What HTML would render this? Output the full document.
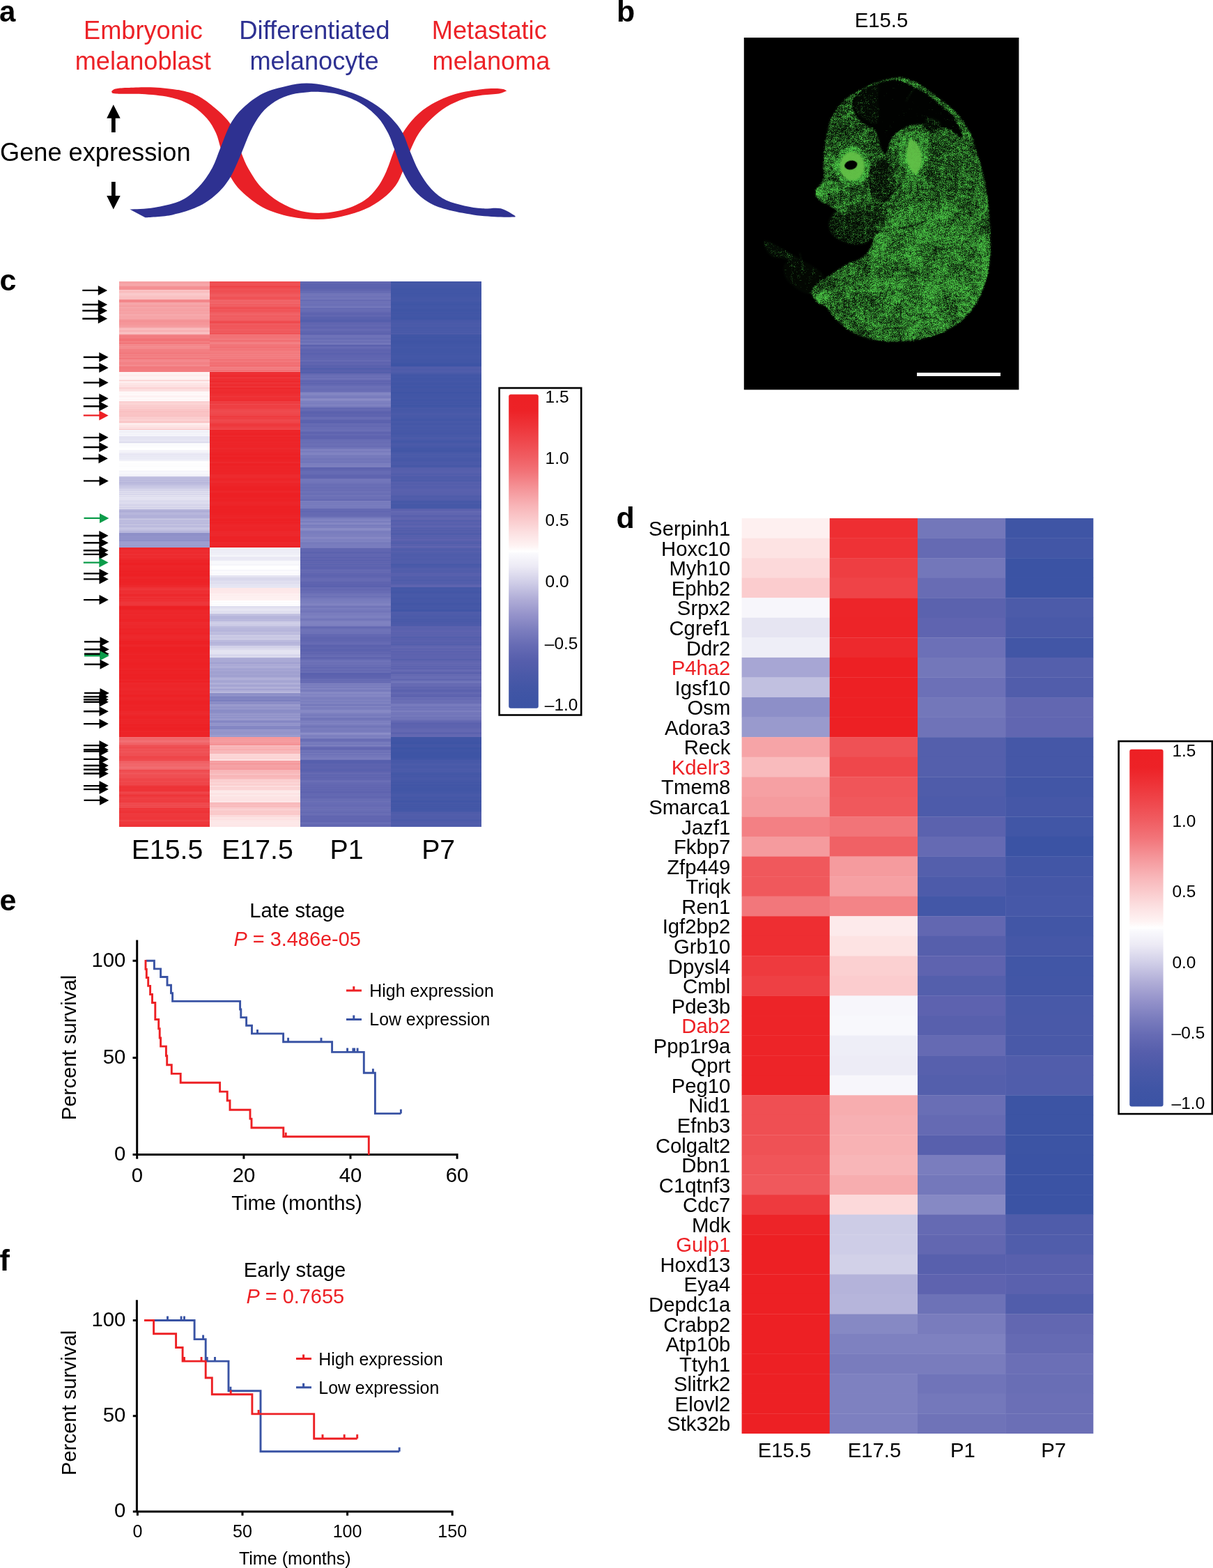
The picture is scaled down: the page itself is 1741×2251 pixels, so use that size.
<!DOCTYPE html>
<html lang="en">
<head>
<meta charset="utf-8">
<title>Figure: embryonic melanoblast gene expression</title>
<style>
html,body{margin:0;padding:0;background:#fff;}
svg{display:block;font-family:'Liberation Sans', sans-serif;}
text{white-space:pre;}
</style>
</head>
<body>
<svg width="1741" height="2251" viewBox="0 0 1741 2251">
<rect width="1741" height="2251" fill="#fff"/>
<g id="panel-a">
<text x="-1.00" y="30.70" font-size="42" font-weight="bold">a</text>
<text x="205.50" y="56.00" font-size="36.2" text-anchor="middle" fill="#ec2227">Embryonic</text>
<text x="205.30" y="99.80" font-size="36.2" text-anchor="middle" fill="#ec2227">melanoblast</text>
<text x="451.40" y="56.00" font-size="36.5" text-anchor="middle" fill="#2e3192">Differentiated</text>
<text x="451.00" y="99.80" font-size="36.2" text-anchor="middle" fill="#2e3192">melanocyte</text>
<text x="702.30" y="56.00" font-size="36.2" text-anchor="middle" fill="#ec2227">Metastatic</text>
<text x="705.00" y="99.80" font-size="36.2" text-anchor="middle" fill="#ec2227">melanoma</text>
<text x="0.00" y="230.60" font-size="36.2">Gene expression</text>
<path d="M162.8 150.3L172.7 169.8H165.7V189.9H160V169.8H153.2Z" fill="#000"/>
<path d="M162.8 300.6L172.7 281H165.7V261H160V281H153.2Z" fill="#000"/>
<path d="M160.2 131.0C161.2 130.4 162.3 128.3 166.0 127.5C169.7 126.7 173.2 126.3 182.4 126.0C191.6 125.7 208.4 124.8 221.4 125.5C234.4 126.2 249.6 127.8 260.5 130.0C271.4 132.2 277.9 134.2 286.6 139.0C295.3 143.8 305.2 152.1 312.6 158.6C320.0 165.1 326.2 171.3 330.8 178.0C335.4 184.7 337.4 192.0 340.0 199.0C342.6 206.0 343.7 212.5 346.5 219.8C349.3 227.1 352.2 234.8 357.0 243.0C361.8 251.2 367.7 261.2 375.0 269.0C382.3 276.8 391.5 284.3 401.0 290.0C410.5 295.7 421.6 300.4 432.0 303.0C442.4 305.6 453.0 306.2 463.4 305.8C473.8 305.4 484.6 303.6 494.6 300.6C504.6 297.6 515.5 292.8 523.3 287.6C531.1 282.4 536.3 276.2 541.5 269.3C546.7 262.4 550.4 255.1 554.5 246.0C558.6 236.9 562.4 223.8 566.3 214.6C570.2 205.4 573.0 198.8 578.0 191.0C583.0 183.2 589.0 174.6 596.0 167.7C603.0 160.8 610.1 154.9 619.7 149.5C629.3 144.1 641.4 138.6 653.5 135.0C665.6 131.4 681.7 129.3 692.6 128.0C703.5 126.7 713.0 127.1 718.7 127.4C724.4 127.7 725.6 129.6 727.0 130.0L727.0 130.5C725.2 131.2 721.7 133.4 716.0 134.4C710.3 135.4 700.8 135.3 692.6 136.5C684.4 137.7 675.3 138.9 666.6 141.7C657.9 144.5 648.3 148.7 640.5 153.4C632.7 158.1 626.2 163.7 619.7 170.0C613.2 176.3 606.6 183.2 601.4 191.0C596.2 198.8 592.3 207.8 588.4 217.0C584.5 226.2 581.5 237.7 578.0 246.0C574.5 254.3 572.4 260.2 567.6 266.7C562.8 273.2 556.7 279.4 549.3 285.0C541.9 290.6 533.3 296.3 523.3 300.6C513.3 304.9 500.7 308.6 489.4 311.0C478.1 313.4 467.6 315.0 455.5 315.0C443.4 315.0 429.8 313.8 416.8 311.0C403.8 308.2 389.4 304.1 377.7 298.0C366.0 291.9 354.3 281.9 346.5 274.5C338.7 267.1 334.7 260.6 330.8 253.7C326.9 246.8 325.4 239.9 323.0 233.0C320.6 226.1 318.7 219.0 316.5 212.0C314.3 205.0 313.2 198.0 310.0 191.0C306.8 184.0 302.7 176.5 297.0 170.0C291.3 163.5 284.2 156.9 276.0 152.0C267.8 147.1 258.8 143.2 247.5 140.4C236.2 137.6 221.9 136.2 208.4 135.2C194.9 134.2 174.7 135.1 166.7 134.6C158.7 134.1 161.3 132.4 160.2 132.0Z" fill="#e92027"/>
<path d="M186.3 300.6C192.2 300.2 209.0 300.2 221.4 298.0C233.8 295.8 249.6 292.8 260.5 287.6C271.4 282.4 279.2 274.5 286.6 266.7C294.0 258.9 299.8 249.8 304.8 240.7C309.8 231.6 312.2 222.4 316.5 212.0C320.8 201.6 325.4 187.6 330.8 178.0C336.2 168.4 341.2 162.0 349.0 154.7C356.8 147.3 367.3 139.1 377.7 133.9C388.1 128.7 401.2 125.8 411.6 123.4C422.0 121.0 430.1 119.5 440.0 119.5C449.9 119.5 459.3 120.8 471.0 123.4C482.7 126.0 498.2 130.2 510.0 135.0C521.8 139.8 532.8 146.1 541.5 152.0C550.2 157.9 556.3 163.8 562.4 170.3C568.5 176.8 573.7 183.2 578.0 191.0C582.3 198.8 584.5 207.8 588.4 217.0C592.3 226.2 596.2 236.8 601.4 246.0C606.6 255.2 613.2 265.1 619.7 272.0C626.2 278.9 632.7 283.7 640.5 287.6C648.3 291.5 657.9 293.4 666.6 295.4C675.3 297.3 683.9 298.6 692.6 299.3C701.3 300.0 710.9 297.5 718.7 299.3C726.5 301.1 736.0 308.2 739.5 310.0L739.5 311.5C736.0 311.5 728.7 312.0 718.7 311.5C708.7 311.0 692.6 310.2 679.6 308.4C666.6 306.6 651.4 303.7 640.5 300.6C629.6 297.5 622.3 294.8 614.5 290.0C606.7 285.2 599.7 279.3 593.6 272.0C587.5 264.7 582.5 255.6 578.0 246.0C573.5 236.4 569.8 223.8 566.3 214.6C562.8 205.4 561.1 198.8 557.0 191.0C552.9 183.2 548.4 175.0 541.5 167.7C534.6 160.4 525.1 152.4 515.5 147.0C505.9 141.6 494.4 137.5 484.0 135.0C473.6 132.5 460.3 132.2 453.0 131.8C445.7 131.4 445.7 131.9 440.0 132.5C434.3 133.1 426.5 133.3 419.0 135.5C411.5 137.7 402.3 140.9 395.0 145.5C387.7 150.1 380.9 155.8 375.0 163.0C369.1 170.2 364.2 179.1 359.5 188.6C354.8 198.1 351.2 209.2 346.5 220.0C341.8 230.8 336.6 244.2 331.0 253.7C325.4 263.2 320.0 270.1 312.6 277.0C305.2 283.9 297.5 290.2 286.6 295.4C275.8 300.6 260.5 305.6 247.5 308.4C234.5 311.2 214.9 311.6 208.4 312.3Z" fill="#2e3191"/>
</g>
<g id="panel-b">
<text x="885.00" y="31.20" font-size="43" font-weight="bold">b</text>
<text x="1265.00" y="38.50" font-size="29.3" text-anchor="middle">E15.5</text>
<defs><clipPath id="bclip"><rect x="1067.8" y="54" width="394.6" height="505.4"/></clipPath><filter id="spk" x="1040" y="30" width="450" height="560" filterUnits="userSpaceOnUse" color-interpolation-filters="sRGB"><feGaussianBlur in="SourceGraphic" stdDeviation="1.3" result="d"/><feTurbulence type="fractalNoise" baseFrequency="0.8" numOctaves="1" seed="11" result="t1"/><feTurbulence type="fractalNoise" baseFrequency="0.2" numOctaves="2" seed="3" result="t2"/><feTurbulence type="fractalNoise" baseFrequency="0.04" numOctaves="2" seed="5" result="t3"/><feColorMatrix in="t1" type="matrix" values="3 0 0 0 -1  3 0 0 0 -1  3 0 0 0 -1  0 0 0 0 1" result="n1"/><feColorMatrix in="t2" type="matrix" values="0 2.4 0 0 -0.7  0 2.4 0 0 -0.7  0 2.4 0 0 -0.7  0 0 0 0 1" result="n2"/><feColorMatrix in="t3" type="matrix" values="0 0 1.6 0 -0.3  0 0 1.6 0 -0.3  0 0 1.6 0 -0.3  0 0 0 0 1" result="n3"/><feComposite in="n1" in2="n2" operator="arithmetic" k1="0" k2="0.65" k3="0.35" k4="0" result="n12"/><feComposite in="n12" in2="n3" operator="arithmetic" k1="0" k2="0.85" k3="0.3" k4="-0.075" result="n"/><feComposite in="d" in2="n" operator="arithmetic" k1="0" k2="1" k3="1" k4="-1" result="s"/><feComponentTransfer in="s" result="v"><feFuncR type="linear" slope="1.7"/><feFuncG type="linear" slope="1.7"/><feFuncB type="linear" slope="1.7"/></feComponentTransfer><feComposite in="v" in2="d" operator="arithmetic" k1="0" k2="0.9" k3="0.12" k4="0" result="w"/><feColorMatrix in="w" type="matrix" values="0.29 0 0 0 0  0.77 0 0 0 0  0.27 0 0 0 0  0 0 0 0 1"/></filter><filter id="soft" x="-30%" y="-30%" width="160%" height="160%" color-interpolation-filters="sRGB"><feGaussianBlur stdDeviation="1.2"/></filter><filter id="soft2" x="-30%" y="-30%" width="160%" height="160%" color-interpolation-filters="sRGB"><feGaussianBlur stdDeviation="0.7"/></filter></defs>
<g clip-path="url(#bclip)">
<g filter="url(#spk)">
<rect x="1030" y="20" width="470" height="580" fill="#000"/>
<path d="M1095.8 348.0C1095.8 345.5 1097.5 344.7 1100.9 345.5C1104.3 346.3 1110.7 350.2 1116.2 353.1C1121.7 356.1 1128.9 360.3 1134.0 363.3C1139.1 366.3 1142.9 368.4 1146.7 371.0C1150.6 373.5 1154.4 375.6 1156.9 378.6C1159.5 381.6 1162.9 387.5 1162.0 388.8C1161.2 390.1 1156.1 388.4 1151.8 386.2C1147.6 384.1 1141.6 378.6 1136.6 376.0C1131.5 373.5 1126.0 372.2 1121.3 371.0C1116.6 369.7 1111.9 370.1 1108.6 368.4C1105.2 366.7 1103.0 364.2 1100.9 360.8C1098.8 357.4 1095.8 350.6 1095.8 348.0Z" fill="#6b6b6b"/>
<path d="M1126.4 378.6C1129.8 374.8 1139.5 372.7 1146.7 373.5C1154.0 374.4 1163.7 379.9 1169.7 383.7C1175.6 387.5 1181.5 392.6 1182.4 396.4C1183.2 400.2 1177.3 403.6 1174.7 406.6C1172.2 409.6 1168.8 411.7 1167.1 414.2C1165.4 416.8 1167.1 421.0 1164.6 421.9C1162.0 422.7 1156.5 421.4 1151.8 419.3C1147.2 417.2 1140.8 413.0 1136.6 409.1C1132.3 405.3 1128.1 401.5 1126.4 396.4C1124.7 391.3 1123.0 382.4 1126.4 378.6Z" fill="#4c4c4c"/>
<path d="M1202.7 302.2C1196.8 302.2 1194.9 306.5 1192.6 309.9C1190.2 313.3 1188.7 318.3 1188.7 322.6C1188.7 326.8 1189.8 331.5 1192.6 335.3C1195.3 339.1 1199.8 342.7 1205.3 345.5C1210.8 348.3 1219.3 351.2 1225.7 351.9C1232.0 352.5 1238.6 351.7 1243.5 349.3C1248.4 347.0 1252.0 341.9 1254.9 337.9C1257.9 333.8 1262.4 329.0 1261.3 325.1C1260.2 321.3 1254.1 317.5 1248.6 314.9C1243.1 312.4 1235.8 312.0 1228.2 309.9C1220.6 307.7 1208.7 302.2 1202.7 302.2Z" fill="#808080"/>
<path d="M1289.3 110.0C1295.2 109.9 1299.5 111.6 1304.6 113.3C1309.7 115.0 1314.8 117.4 1319.9 120.2C1324.9 123.0 1330.0 126.8 1335.1 130.4C1340.2 134.0 1345.3 137.8 1350.4 141.8C1355.5 145.9 1361.0 150.3 1365.7 154.6C1370.3 158.8 1374.6 162.6 1378.4 167.3C1382.2 172.0 1385.6 177.5 1388.6 182.6C1391.6 187.7 1393.9 191.9 1396.2 197.8C1398.6 203.8 1400.5 211.4 1402.6 218.2C1404.7 225.0 1407.1 231.8 1409.0 238.6C1410.9 245.4 1412.6 251.7 1414.1 258.9C1415.5 266.2 1416.8 273.8 1417.9 281.9C1418.9 289.9 1419.7 298.8 1420.4 307.3C1421.1 315.8 1421.9 324.3 1422.2 332.8C1422.5 341.3 1422.8 350.2 1422.5 358.2C1422.2 366.3 1421.6 373.5 1420.4 381.1C1419.2 388.8 1417.7 396.4 1415.3 404.1C1413.0 411.7 1410.0 419.8 1406.4 427.0C1402.8 434.2 1398.4 441.4 1393.7 447.3C1389.0 453.3 1383.9 458.2 1378.4 462.6C1372.9 467.1 1367.0 470.7 1360.6 474.1C1354.2 477.5 1347.4 480.6 1340.2 483.0C1333.0 485.4 1325.4 487.2 1317.3 488.6C1309.2 489.9 1299.9 490.8 1291.9 491.1C1283.8 491.5 1276.2 491.2 1268.9 490.6C1261.7 490.0 1254.9 489.0 1248.6 487.6C1242.2 486.1 1236.3 484.2 1230.8 481.7C1225.2 479.2 1220.1 476.0 1215.5 472.8C1210.8 469.6 1206.6 466.2 1202.7 462.6C1198.9 459.0 1195.5 454.8 1192.6 451.2C1189.6 447.5 1187.7 443.3 1184.9 441.0C1182.2 438.6 1178.8 439.1 1176.0 437.1C1173.3 435.2 1170.3 432.3 1168.4 429.5C1166.5 426.8 1164.8 423.4 1164.6 420.6C1164.3 417.8 1165.4 415.5 1167.1 413.0C1168.8 410.4 1171.4 408.1 1174.7 405.3C1178.1 402.6 1182.8 399.6 1187.5 396.4C1192.1 393.2 1197.7 389.4 1202.7 386.2C1207.8 383.0 1212.9 379.9 1218.0 377.3C1223.1 374.8 1229.1 373.3 1233.3 371.0C1237.5 368.6 1240.9 366.3 1243.5 363.3C1246.1 360.3 1247.4 357.0 1249.1 353.1C1250.8 349.3 1251.8 343.8 1253.7 340.4C1255.5 337.0 1260.0 335.3 1260.0 332.8C1260.0 330.2 1256.8 327.3 1253.7 325.1C1250.5 323.0 1245.2 321.5 1240.9 320.0C1236.7 318.6 1232.5 317.9 1228.2 316.2C1224.0 314.5 1219.7 311.8 1215.5 309.9C1211.2 307.9 1206.6 306.9 1202.7 304.8C1198.9 302.6 1196.0 299.2 1192.6 297.1C1189.2 295.0 1185.4 293.7 1182.4 292.0C1179.4 290.3 1177.0 289.1 1174.7 286.9C1172.5 284.8 1169.6 282.3 1169.1 279.3C1168.7 276.3 1170.6 272.1 1172.2 269.1C1173.8 266.2 1177.0 264.0 1178.6 261.5C1180.2 258.9 1181.4 257.7 1181.9 253.8C1182.3 250.0 1181.0 244.5 1181.1 238.6C1181.2 232.6 1181.7 225.0 1182.4 218.2C1183.0 211.4 1183.9 204.2 1184.9 197.8C1186.0 191.5 1187.1 185.5 1188.7 180.0C1190.4 174.5 1192.4 169.8 1195.1 164.7C1197.9 159.7 1201.5 153.9 1205.3 149.5C1209.1 145.0 1213.4 141.4 1218.0 138.0C1222.7 134.6 1227.8 132.1 1233.3 129.1C1238.8 126.1 1245.2 122.7 1251.1 120.2C1257.1 117.6 1262.6 115.5 1268.9 113.8C1275.3 112.1 1283.4 110.1 1289.3 110.0Z" fill="#c2c2c2"/>
<clipPath id="bodyclip"><path d="M1289.3 110.0C1295.2 109.9 1299.5 111.6 1304.6 113.3C1309.7 115.0 1314.8 117.4 1319.9 120.2C1324.9 123.0 1330.0 126.8 1335.1 130.4C1340.2 134.0 1345.3 137.8 1350.4 141.8C1355.5 145.9 1361.0 150.3 1365.7 154.6C1370.3 158.8 1374.6 162.6 1378.4 167.3C1382.2 172.0 1385.6 177.5 1388.6 182.6C1391.6 187.7 1393.9 191.9 1396.2 197.8C1398.6 203.8 1400.5 211.4 1402.6 218.2C1404.7 225.0 1407.1 231.8 1409.0 238.6C1410.9 245.4 1412.6 251.7 1414.1 258.9C1415.5 266.2 1416.8 273.8 1417.9 281.9C1418.9 289.9 1419.7 298.8 1420.4 307.3C1421.1 315.8 1421.9 324.3 1422.2 332.8C1422.5 341.3 1422.8 350.2 1422.5 358.2C1422.2 366.3 1421.6 373.5 1420.4 381.1C1419.2 388.8 1417.7 396.4 1415.3 404.1C1413.0 411.7 1410.0 419.8 1406.4 427.0C1402.8 434.2 1398.4 441.4 1393.7 447.3C1389.0 453.3 1383.9 458.2 1378.4 462.6C1372.9 467.1 1367.0 470.7 1360.6 474.1C1354.2 477.5 1347.4 480.6 1340.2 483.0C1333.0 485.4 1325.4 487.2 1317.3 488.6C1309.2 489.9 1299.9 490.8 1291.9 491.1C1283.8 491.5 1276.2 491.2 1268.9 490.6C1261.7 490.0 1254.9 489.0 1248.6 487.6C1242.2 486.1 1236.3 484.2 1230.8 481.7C1225.2 479.2 1220.1 476.0 1215.5 472.8C1210.8 469.6 1206.6 466.2 1202.7 462.6C1198.9 459.0 1195.5 454.8 1192.6 451.2C1189.6 447.5 1187.7 443.3 1184.9 441.0C1182.2 438.6 1178.8 439.1 1176.0 437.1C1173.3 435.2 1170.3 432.3 1168.4 429.5C1166.5 426.8 1164.8 423.4 1164.6 420.6C1164.3 417.8 1165.4 415.5 1167.1 413.0C1168.8 410.4 1171.4 408.1 1174.7 405.3C1178.1 402.6 1182.8 399.6 1187.5 396.4C1192.1 393.2 1197.7 389.4 1202.7 386.2C1207.8 383.0 1212.9 379.9 1218.0 377.3C1223.1 374.8 1229.1 373.3 1233.3 371.0C1237.5 368.6 1240.9 366.3 1243.5 363.3C1246.1 360.3 1247.4 357.0 1249.1 353.1C1250.8 349.3 1251.8 343.8 1253.7 340.4C1255.5 337.0 1260.0 335.3 1260.0 332.8C1260.0 330.2 1256.8 327.3 1253.7 325.1C1250.5 323.0 1245.2 321.5 1240.9 320.0C1236.7 318.6 1232.5 317.9 1228.2 316.2C1224.0 314.5 1219.7 311.8 1215.5 309.9C1211.2 307.9 1206.6 306.9 1202.7 304.8C1198.9 302.6 1196.0 299.2 1192.6 297.1C1189.2 295.0 1185.4 293.7 1182.4 292.0C1179.4 290.3 1177.0 289.1 1174.7 286.9C1172.5 284.8 1169.6 282.3 1169.1 279.3C1168.7 276.3 1170.6 272.1 1172.2 269.1C1173.8 266.2 1177.0 264.0 1178.6 261.5C1180.2 258.9 1181.4 257.7 1181.9 253.8C1182.3 250.0 1181.0 244.5 1181.1 238.6C1181.2 232.6 1181.7 225.0 1182.4 218.2C1183.0 211.4 1183.9 204.2 1184.9 197.8C1186.0 191.5 1187.1 185.5 1188.7 180.0C1190.4 174.5 1192.4 169.8 1195.1 164.7C1197.9 159.7 1201.5 153.9 1205.3 149.5C1209.1 145.0 1213.4 141.4 1218.0 138.0C1222.7 134.6 1227.8 132.1 1233.3 129.1C1238.8 126.1 1245.2 122.7 1251.1 120.2C1257.1 117.6 1262.6 115.5 1268.9 113.8C1275.3 112.1 1283.4 110.1 1289.3 110.0Z"/></clipPath>
<g clip-path="url(#bodyclip)">
<ellipse cx="1230.0" cy="213.1" rx="60.4" ry="81.7" fill="#b2b2b2"/>
<ellipse cx="1368.5" cy="234.5" rx="46.2" ry="56.8" fill="#b8b8b8"/>
<ellipse cx="1336.6" cy="390.8" rx="88.8" ry="103.0" fill="#d4d4d4"/>
<ellipse cx="1265.5" cy="259.3" rx="19.5" ry="30.2" fill="#8c8c8c"/>
<ellipse cx="1244.2" cy="305.5" rx="28.4" ry="17.8" fill="#9e9e9e"/>
</g>
<ellipse cx="1311.6" cy="217.0" rx="21.6" ry="30.8" fill="#ebebeb"/>
<ellipse cx="1223.1" cy="238.5" rx="25.4" ry="28.5" fill="#f2f2f2"/>
<ellipse cx="1190.8" cy="270.9" rx="13.9" ry="10.8" fill="#e0e0e0"/>
<ellipse cx="1176.2" cy="275.5" rx="6.5" ry="6.9" fill="#ffffff"/>
<path d="M1224.7 143.9C1226.1 140.0 1229.1 136.6 1233.5 133.2C1238.0 129.8 1244.8 126.3 1251.3 123.6C1257.8 121.0 1266.4 118.5 1272.6 117.2C1278.8 115.9 1282.5 114.7 1288.6 115.8C1294.7 116.9 1302.3 120.6 1309.2 124.0C1316.1 127.4 1323.8 131.7 1330.2 136.1C1336.6 140.4 1341.8 145.2 1347.6 149.9C1353.4 154.6 1360.7 159.5 1365.0 164.1C1369.2 168.7 1370.5 172.4 1373.1 177.6C1375.8 182.8 1380.8 192.7 1381.0 195.4C1381.1 198.0 1377.1 195.4 1373.9 193.6C1370.6 191.8 1366.5 186.8 1361.4 184.7C1356.4 182.7 1349.0 182.4 1343.7 181.2C1338.3 180.0 1334.2 178.2 1329.4 177.6C1324.7 177.0 1320.0 177.0 1315.2 177.6C1310.5 178.2 1305.8 179.1 1301.0 181.2C1296.3 183.2 1290.7 186.8 1286.8 190.1C1283.0 193.3 1280.0 196.9 1277.9 200.7C1275.9 204.6 1275.6 209.9 1274.4 213.1C1273.2 216.4 1272.3 220.2 1270.8 220.2C1269.4 220.2 1267.0 216.7 1265.5 213.1C1264.0 209.6 1263.7 203.7 1262.0 198.9C1260.2 194.2 1258.4 188.3 1254.8 184.7C1251.3 181.2 1244.8 180.6 1240.6 177.6C1236.5 174.7 1232.6 170.5 1230.0 167.0C1227.3 163.4 1225.5 160.2 1224.7 156.3C1223.8 152.5 1223.2 147.7 1224.7 143.9Z" fill="#1a1a1a"/>
<path d="M1226.4 143.9C1227.9 140.0 1231.2 136.5 1235.3 133.2C1239.5 130.0 1246.9 126.1 1251.3 124.3C1255.7 122.6 1260.5 119.6 1262.0 122.6C1263.4 125.5 1260.2 135.9 1260.2 142.1C1260.2 148.3 1262.2 153.9 1262.0 159.9C1261.7 165.8 1261.4 175.3 1258.4 177.6C1255.4 180.0 1248.6 176.1 1244.2 174.1C1239.8 172.0 1234.7 168.1 1231.8 165.2C1228.8 162.2 1227.3 159.9 1226.4 156.3C1225.5 152.8 1224.9 147.7 1226.4 143.9Z" fill="#575757"/>
<path d="M1327.7 170.5C1328.9 167.9 1333.0 168.1 1336.6 168.7C1340.1 169.3 1346.6 171.4 1349.0 174.1C1351.4 176.7 1352.2 182.1 1350.8 184.7C1349.3 187.4 1343.7 190.1 1340.1 190.1C1336.6 190.1 1331.5 188.0 1329.4 184.7C1327.4 181.5 1326.5 173.2 1327.7 170.5Z" fill="#737373"/>
<ellipse cx="1223.1" cy="238.5" rx="18.2" ry="20.8" fill="#ffffff"/>
<ellipse cx="1221.3" cy="237.0" rx="9.5" ry="6.8" fill="#000000" transform="rotate(-12 1221.3 237.0)"/>
<path d="M1307.8 198.5C1310.9 198.5 1317.4 205.4 1320.1 210.8C1322.8 216.2 1323.9 225.5 1323.9 230.8C1323.9 236.2 1321.8 239.7 1320.1 243.2C1318.4 246.6 1316.2 251.6 1313.9 251.6C1311.6 251.6 1308.4 246.6 1306.2 243.2C1304.1 239.7 1301.6 236.2 1300.9 230.8C1300.1 225.5 1300.5 216.2 1301.6 210.8C1302.8 205.4 1304.7 198.5 1307.8 198.5Z" fill="#ffffff"/>
<ellipse cx="1181.1" cy="425.7" rx="10.7" ry="7.1" fill="#f2f2f2" transform="rotate(-25 1181.1 425.7)"/>
<path d="M1258.5 298.6C1260.1 297.2 1264.7 293.2 1267.8 290.1C1270.8 287.0 1273.7 283.6 1277.0 280.1C1280.3 276.6 1284.9 272.4 1287.8 269.3C1290.6 266.3 1292.9 262.9 1293.9 261.6" fill="none" stroke="#595959" stroke-width="2.0" stroke-linecap="round"/>
<path d="M1255.4 232.4C1256.7 233.2 1260.6 235.3 1263.1 237.0C1265.7 238.7 1269.6 241.5 1270.8 242.4" fill="none" stroke="#808080" stroke-width="1.6" stroke-linecap="round"/>
<path d="M1251.1 332.8C1255.8 332.4 1270.2 332.0 1279.1 330.7C1288.0 329.5 1296.1 327.4 1304.6 325.1C1313.1 322.8 1325.8 318.3 1330.0 317.0" fill="none" stroke="#8c8c8c" stroke-width="1.5" stroke-linecap="round"/>
<path d="M1314.8 124.0C1313.5 125.7 1309.5 130.7 1307.1 134.2C1304.8 137.7 1301.8 143.1 1300.8 144.9" fill="none" stroke="#e6e6e6" stroke-width="1.2" stroke-linecap="round"/>
<path d="M1148.0 363.3C1148.4 365.4 1149.7 371.8 1150.6 376.0C1151.4 380.3 1152.7 386.7 1153.1 388.8" fill="none" stroke="#e6e6e6" stroke-width="1.2" stroke-linecap="round"/>
<ellipse cx="1190.0" cy="279.3" rx="2.2" ry="1.5" fill="#4c4c4c"/>
</g>
<g filter="url(#soft)" fill="#62bf47">
<ellipse cx="1223.1" cy="238.5" rx="17.6" ry="20.5" opacity="0.95"/>
<path d="M1307.8 200.1C1310.6 200.1 1316.8 206.5 1319.3 211.6C1321.8 216.7 1322.9 225.7 1322.9 230.8C1322.9 236.0 1320.8 239.2 1319.3 242.4C1317.8 245.6 1316.0 250.1 1313.9 250.1C1311.9 250.1 1309.0 245.6 1307.0 242.4C1305.0 239.2 1302.7 236.0 1301.9 230.8C1301.2 225.7 1301.4 216.7 1302.4 211.6C1303.4 206.5 1305.0 200.1 1307.8 200.1Z" opacity="0.9"/>
</g>
<ellipse cx="1221.3" cy="237.0" rx="9.2" ry="6.4" fill="#000" transform="rotate(-12 1221.3 237.0)" filter="url(#soft2)"/>
</g>
<rect x="1316" y="535" width="120" height="5" fill="#fff"/> y="535" width="120" height="5" fill="#fff"/>
</g>
<g id="panel-c">
<text x="-0.50" y="416.60" font-size="43" font-weight="bold">c</text>
<path d="M118.3 415.7h22.5v-5.8l13.3 7 -13.3 7v-5.8h-22.5z" fill="#000"/>
<path d="M118.3 436.1h22.5v-5.8l13.3 7 -13.3 7v-5.8h-22.5z" fill="#000"/>
<path d="M118.3 444.8h22.5v-5.8l13.3 7 -13.3 7v-5.8h-22.5z" fill="#000"/>
<path d="M118.3 456.3h22.5v-5.8l13.3 7 -13.3 7v-5.8h-22.5z" fill="#000"/>
<path d="M119.8 511.6h22.5v-5.8l13.3 7 -13.3 7v-5.8h-22.5z" fill="#000"/>
<path d="M119.8 526.8h22.5v-5.8l13.3 7 -13.3 7v-5.8h-22.5z" fill="#000"/>
<path d="M119.8 548.1h22.5v-5.8l13.3 7 -13.3 7v-5.8h-22.5z" fill="#000"/>
<path d="M119.8 570.7h22.5v-5.8l13.3 7 -13.3 7v-5.8h-22.5z" fill="#000"/>
<path d="M119.8 582.0h22.5v-5.8l13.3 7 -13.3 7v-5.8h-22.5z" fill="#000"/>
<path d="M119.8 595.2h22.5v-5.8l13.3 7 -13.3 7v-5.8h-22.5z" fill="#ed2024"/>
<path d="M119.8 626.9h22.5v-5.8l13.3 7 -13.3 7v-5.8h-22.5z" fill="#000"/>
<path d="M119.8 640.8h22.5v-5.8l13.3 7 -13.3 7v-5.8h-22.5z" fill="#000"/>
<path d="M119.0 657.0h22.5v-5.8l13.3 7 -13.3 7v-5.8h-22.5z" fill="#000"/>
<path d="M120.0 689.2h22.5v-5.8l13.3 7 -13.3 7v-5.8h-22.5z" fill="#000"/>
<path d="M120.5 742.7h22.5v-5.8l13.3 7 -13.3 7v-5.8h-22.5z" fill="#0b9c4a"/>
<path d="M119.8 767.8h22.5v-5.8l13.3 7 -13.3 7v-5.8h-22.5z" fill="#000"/>
<path d="M119.8 778.1h22.5v-5.8l13.3 7 -13.3 7v-5.8h-22.5z" fill="#000"/>
<path d="M119.8 789.0h22.5v-5.8l13.3 7 -13.3 7v-5.8h-22.5z" fill="#000"/>
<path d="M119.8 794.7h22.5v-5.8l13.3 7 -13.3 7v-5.8h-22.5z" fill="#000"/>
<path d="M119.8 806.4h22.5v-5.8l13.3 7 -13.3 7v-5.8h-22.5z" fill="#0b9c4a"/>
<path d="M120.0 822.2h22.5v-5.8l13.3 7 -13.3 7v-5.8h-22.5z" fill="#000"/>
<path d="M120.0 830.2h22.5v-5.8l13.3 7 -13.3 7v-5.8h-22.5z" fill="#000"/>
<path d="M120.0 859.9h22.5v-5.8l13.3 7 -13.3 7v-5.8h-22.5z" fill="#000"/>
<path d="M121.0 920.1h22.5v-5.8l13.3 7 -13.3 7v-5.8h-22.5z" fill="#000"/>
<path d="M121.0 931.0h22.5v-5.8l13.3 7 -13.3 7v-5.8h-22.5z" fill="#000"/>
<path d="M121.0 937.5h22.5v-5.8l13.3 7 -13.3 7v-5.8h-22.5z" fill="#000"/>
<path d="M121.0 940.0h22.5v-5.8l13.3 7 -13.3 7v-5.8h-22.5z" fill="#0b9c4a"/>
<path d="M121.0 952.6h22.5v-5.8l13.3 7 -13.3 7v-5.8h-22.5z" fill="#000"/>
<path d="M121.0 993.7h22.5v-5.8l13.3 7 -13.3 7v-5.8h-22.5z" fill="#000"/>
<path d="M120.0 999.0h22.5v-5.8l13.3 7 -13.3 7v-5.8h-22.5z" fill="#000"/>
<path d="M120.0 1003.0h22.5v-5.8l13.3 7 -13.3 7v-5.8h-22.5z" fill="#000"/>
<path d="M120.0 1006.5h22.5v-5.8l13.3 7 -13.3 7v-5.8h-22.5z" fill="#000"/>
<path d="M120.0 1020.1h22.5v-5.8l13.3 7 -13.3 7v-5.8h-22.5z" fill="#000"/>
<path d="M120.0 1037.9h22.5v-5.8l13.3 7 -13.3 7v-5.8h-22.5z" fill="#000"/>
<path d="M120.0 1068.9h22.5v-5.8l13.3 7 -13.3 7v-5.8h-22.5z" fill="#000"/>
<path d="M120.0 1075.0h22.5v-5.8l13.3 7 -13.3 7v-5.8h-22.5z" fill="#000"/>
<path d="M120.0 1077.4h22.5v-5.8l13.3 7 -13.3 7v-5.8h-22.5z" fill="#000"/>
<path d="M120.0 1088.7h22.5v-5.8l13.3 7 -13.3 7v-5.8h-22.5z" fill="#000"/>
<path d="M120.0 1097.8h22.5v-5.8l13.3 7 -13.3 7v-5.8h-22.5z" fill="#000"/>
<path d="M120.0 1103.5h22.5v-5.8l13.3 7 -13.3 7v-5.8h-22.5z" fill="#000"/>
<path d="M120.0 1109.3h22.5v-5.8l13.3 7 -13.3 7v-5.8h-22.5z" fill="#000"/>
<path d="M120.0 1126.9h22.5v-5.8l13.3 7 -13.3 7v-5.8h-22.5z" fill="#000"/>
<path d="M120.0 1131.9h22.5v-5.8l13.3 7 -13.3 7v-5.8h-22.5z" fill="#000"/>
<path d="M120.5 1147.7h22.5v-5.8l13.3 7 -13.3 7v-5.8h-22.5z" fill="#000"/>
<g shape-rendering="crispEdges">
<rect x="171" width="130.6" y="404.4" height="0.6" fill="#f6a3a6"/><rect x="171" width="130.6" y="405" height="1" fill="#f6a1a4"/><rect x="171" width="130.6" y="406" height="1" fill="#f6a2a5"/><rect x="171" width="130.6" y="407" height="1" fill="#f6a4a7"/><rect x="171" width="130.6" y="408" height="1" fill="#f6a7aa"/><rect x="171" width="130.6" y="409" height="1" fill="#f6a7a9"/><rect x="171" width="130.6" y="410" height="1" fill="#f6a1a4"/><rect x="171" width="130.6" y="411" height="1" fill="#f49296"/><rect x="171" width="130.6" y="412" height="1" fill="#f48f93"/><rect x="171" width="130.6" y="413" height="2" fill="#f49093"/><rect x="171" width="130.6" y="415" height="1" fill="#f49094"/><rect x="171" width="130.6" y="416" height="1" fill="#fac5c7"/><rect x="171" width="130.6" y="417" height="1" fill="#f9c0c2"/><rect x="171" width="130.6" y="418" height="1" fill="#f9bdbf"/><rect x="171" width="130.6" y="419" height="1" fill="#f9bcbd"/><rect x="171" width="130.6" y="420" height="1" fill="#fac3c5"/><rect x="171" width="130.6" y="421" height="1" fill="#fac9cb"/><rect x="171" width="130.6" y="422" height="1" fill="#facacb"/><rect x="171" width="130.6" y="423" height="1" fill="#fac9ca"/><rect x="171" width="130.6" y="424" height="1" fill="#fac5c6"/><rect x="171" width="130.6" y="425" height="1" fill="#fac3c5"/><rect x="171" width="130.6" y="426" height="1" fill="#f9c0c1"/><rect x="171" width="130.6" y="427" height="1" fill="#f9c2c4"/><rect x="171" width="130.6" y="428" height="1" fill="#f9c0c1"/><rect x="171" width="130.6" y="429" height="1" fill="#f9bebf"/><rect x="171" width="130.6" y="430" height="1" fill="#f48a8e"/><rect x="171" width="130.6" y="431" height="2" fill="#f3868a"/><rect x="171" width="130.6" y="433" height="1" fill="#f38488"/><rect x="171" width="130.6" y="434" height="1" fill="#f6a3a6"/><rect x="171" width="130.6" y="435" height="2" fill="#f6a6a9"/><rect x="171" width="130.6" y="437" height="1" fill="#f6a5a8"/><rect x="171" width="130.6" y="438" height="1" fill="#f69fa2"/><rect x="171" width="130.6" y="439" height="1" fill="#f59da0"/><rect x="171" width="130.6" y="440" height="1" fill="#f6a1a4"/><rect x="171" width="130.6" y="441" height="1" fill="#f6a6a9"/><rect x="171" width="130.6" y="442" height="1" fill="#f6a7aa"/><rect x="171" width="130.6" y="443" height="1" fill="#f59da0"/><rect x="171" width="130.6" y="444" height="1" fill="#f6a3a6"/><rect x="171" width="130.6" y="445" height="1" fill="#f6a0a3"/><rect x="171" width="130.6" y="446" height="1" fill="#f59da0"/><rect x="171" width="130.6" y="447" height="1" fill="#f6a7aa"/><rect x="171" width="130.6" y="448" height="1" fill="#f6a4a7"/><rect x="171" width="130.6" y="449" height="1" fill="#f59a9e"/><rect x="171" width="130.6" y="450" height="2" fill="#f6a8ab"/><rect x="171" width="130.6" y="452" height="1" fill="#f6a6a9"/><rect x="171" width="130.6" y="453" height="1" fill="#f7a9ac"/><rect x="171" width="130.6" y="454" height="1" fill="#f6a3a6"/><rect x="171" width="130.6" y="455" height="1" fill="#f6a2a5"/><rect x="171" width="130.6" y="456" height="1" fill="#f7aaad"/><rect x="171" width="130.6" y="457" height="1" fill="#f6a2a5"/><rect x="171" width="130.6" y="458" height="1" fill="#f59da0"/><rect x="171" width="130.6" y="459" height="1" fill="#f5979a"/><rect x="171" width="130.6" y="460" height="1" fill="#f49093"/><rect x="171" width="130.6" y="461" height="2" fill="#f49296"/><rect x="171" width="130.6" y="463" height="1" fill="#f5989b"/><rect x="171" width="130.6" y="464" height="1" fill="#f59498"/><rect x="171" width="130.6" y="465" height="1" fill="#f5979a"/><rect x="171" width="130.6" y="466" height="1" fill="#f5989b"/><rect x="171" width="130.6" y="467" height="1" fill="#f59c9f"/><rect x="171" width="130.6" y="468" height="1" fill="#f59ea1"/><rect x="171" width="130.6" y="469" height="1" fill="#f59da1"/><rect x="171" width="130.6" y="470" height="1" fill="#f7aeb1"/><rect x="171" width="130.6" y="471" height="1" fill="#f8b8bb"/><rect x="171" width="130.6" y="472" height="1" fill="#f9bdbf"/><rect x="171" width="130.6" y="473" height="1" fill="#f8babc"/><rect x="171" width="130.6" y="474" height="1" fill="#f8b2b4"/><rect x="171" width="130.6" y="475" height="1" fill="#f7b0b3"/><rect x="171" width="130.6" y="476" height="1" fill="#f8b9bb"/><rect x="171" width="130.6" y="477" height="1" fill="#f9c1c3"/><rect x="171" width="130.6" y="478" height="2" fill="#f9bdbf"/><rect x="171" width="130.6" y="480" height="1" fill="#f48c90"/><rect x="171" width="130.6" y="481" height="1" fill="#f38286"/><rect x="171" width="130.6" y="482" height="1" fill="#f27a7e"/><rect x="171" width="130.6" y="483" height="2" fill="#f27c80"/><rect x="171" width="130.6" y="485" height="1" fill="#f27b7f"/><rect x="171" width="130.6" y="486" height="2" fill="#f27276"/><rect x="171" width="130.6" y="488" height="1" fill="#f27377"/><rect x="171" width="130.6" y="489" height="1" fill="#f27478"/><rect x="171" width="130.6" y="490" height="1" fill="#f38487"/><rect x="171" width="130.6" y="491" height="1" fill="#f27a7e"/><rect x="171" width="130.6" y="492" height="2" fill="#f2767a"/><rect x="171" width="130.6" y="494" height="1" fill="#f4888c"/><rect x="171" width="130.6" y="495" height="1" fill="#f48c8f"/><rect x="171" width="130.6" y="496" height="1" fill="#f38387"/><rect x="171" width="130.6" y="497" height="1" fill="#f49194"/><rect x="171" width="130.6" y="498" height="1" fill="#f48f92"/><rect x="171" width="130.6" y="499" height="1" fill="#f38488"/><rect x="171" width="130.6" y="500" height="1" fill="#f48e91"/><rect x="171" width="130.6" y="501" height="1" fill="#f37f83"/><rect x="171" width="130.6" y="502" height="1" fill="#f27c80"/><rect x="171" width="130.6" y="503" height="1" fill="#f37f83"/><rect x="171" width="130.6" y="504" height="1" fill="#f37e82"/><rect x="171" width="130.6" y="505" height="1" fill="#f27b7f"/><rect x="171" width="130.6" y="506" height="1" fill="#f27c80"/><rect x="171" width="130.6" y="507" height="1" fill="#f2767a"/><rect x="171" width="130.6" y="508" height="1" fill="#f37f82"/><rect x="171" width="130.6" y="509" height="1" fill="#f38387"/><rect x="171" width="130.6" y="510" height="1" fill="#f27b7f"/><rect x="171" width="130.6" y="511" height="1" fill="#f37e81"/><rect x="171" width="130.6" y="512" height="1" fill="#f38689"/><rect x="171" width="130.6" y="513" height="1" fill="#f37e82"/><rect x="171" width="130.6" y="514" height="1" fill="#f27579"/><rect x="171" width="130.6" y="515" height="1" fill="#f27c80"/><rect x="171" width="130.6" y="516" height="1" fill="#f4898c"/><rect x="171" width="130.6" y="517" height="2" fill="#f4888c"/><rect x="171" width="130.6" y="519" height="1" fill="#f4898d"/><rect x="171" width="130.6" y="520" height="1" fill="#f37d81"/><rect x="171" width="130.6" y="521" height="1" fill="#f3878a"/><rect x="171" width="130.6" y="522" height="1" fill="#f27c80"/><rect x="171" width="130.6" y="523" height="1" fill="#f3888b"/><rect x="171" width="130.6" y="524" height="1" fill="#f48d90"/><rect x="171" width="130.6" y="525" height="1" fill="#f38589"/><rect x="171" width="130.6" y="526" height="1" fill="#f27c80"/><rect x="171" width="130.6" y="527" height="1" fill="#f2787c"/><rect x="171" width="130.6" y="528" height="1" fill="#f2797d"/><rect x="171" width="130.6" y="529" height="1" fill="#f27b7f"/><rect x="171" width="130.6" y="530" height="1" fill="#f27c80"/><rect x="171" width="130.6" y="531" height="1" fill="#f27a7e"/><rect x="171" width="130.6" y="532" height="1" fill="#f37e82"/><rect x="171" width="130.6" y="533" height="1" fill="#f37d81"/><rect x="171" width="130.6" y="534" height="2" fill="#fef4f4"/><rect x="171" width="130.6" y="536" height="1" fill="#fef2f2"/><rect x="171" width="130.6" y="537" height="1" fill="#fef1f1"/><rect x="171" width="130.6" y="538" height="1" fill="#fdecec"/><rect x="171" width="130.6" y="539" height="1" fill="#fdedee"/><rect x="171" width="130.6" y="540" height="1" fill="#fef1f1"/><rect x="171" width="130.6" y="541" height="2" fill="#fef4f4"/><rect x="171" width="130.6" y="543" height="1" fill="#fef1f2"/><rect x="171" width="130.6" y="544" height="1" fill="#fef4f4"/><rect x="171" width="130.6" y="545" height="1" fill="#fce0e0"/><rect x="171" width="130.6" y="546" height="1" fill="#fbd2d3"/><rect x="171" width="130.6" y="547" height="1" fill="#fdebeb"/><rect x="171" width="130.6" y="548" height="1" fill="#fef1f2"/><rect x="171" width="130.6" y="549" height="1" fill="#fdebec"/><rect x="171" width="130.6" y="550" height="1" fill="#fde6e6"/><rect x="171" width="130.6" y="551" height="1" fill="#fde3e4"/><rect x="171" width="130.6" y="552" height="1" fill="#fde6e7"/><rect x="171" width="130.6" y="553" height="1" fill="#fce0e1"/><rect x="171" width="130.6" y="554" height="1" fill="#fcdfdf"/><rect x="171" width="130.6" y="555" height="1" fill="#fde4e5"/><rect x="171" width="130.6" y="556" height="1" fill="#fbd1d2"/><rect x="171" width="130.6" y="557" height="1" fill="#fbd3d4"/><rect x="171" width="130.6" y="558" height="1" fill="#fcdcdc"/><rect x="171" width="130.6" y="559" height="1" fill="#fcdedf"/><rect x="171" width="130.6" y="560" height="1" fill="#fce1e2"/><rect x="171" width="130.6" y="561" height="1" fill="#fde2e3"/><rect x="171" width="130.6" y="562" height="1" fill="#fef8f8"/><rect x="171" width="130.6" y="563" height="1" fill="#fef9f9"/><rect x="171" width="130.6" y="564" height="1" fill="#fef5f5"/><rect x="171" width="130.6" y="565" height="1" fill="#fffafa"/><rect x="171" width="130.6" y="566" height="1" fill="#fff9fa"/><rect x="171" width="130.6" y="567" height="1" fill="#fef6f6"/><rect x="171" width="130.6" y="568" height="1" fill="#fef3f4"/><rect x="171" width="130.6" y="569" height="1" fill="#feeff0"/><rect x="171" width="130.6" y="570" height="1" fill="#fef7f8"/><rect x="171" width="130.6" y="571" height="1" fill="#fef9f9"/><rect x="171" width="130.6" y="572" height="1" fill="#fff9fa"/><rect x="171" width="130.6" y="573" height="1" fill="#fef7f7"/><rect x="171" width="130.6" y="574" height="1" fill="#fef3f4"/><rect x="171" width="130.6" y="575" height="1" fill="#fffdfe"/><rect x="171" width="130.6" y="576" height="1" fill="#facacc"/><rect x="171" width="130.6" y="577" height="1" fill="#fbd4d5"/><rect x="171" width="130.6" y="578" height="1" fill="#fbcfd0"/><rect x="171" width="130.6" y="579" height="1" fill="#fcd8d8"/><rect x="171" width="130.6" y="580" height="1" fill="#fbd4d5"/><rect x="171" width="130.6" y="581" height="1" fill="#fbcdce"/><rect x="171" width="130.6" y="582" height="2" fill="#fbcecf"/><rect x="171" width="130.6" y="584" height="1" fill="#facacc"/><rect x="171" width="130.6" y="585" height="1" fill="#facbcc"/><rect x="171" width="130.6" y="586" height="1" fill="#fbcdce"/><rect x="171" width="130.6" y="587" height="1" fill="#fac6c7"/><rect x="171" width="130.6" y="588" height="1" fill="#fac3c5"/><rect x="171" width="130.6" y="589" height="1" fill="#fac8ca"/><rect x="171" width="130.6" y="590" height="1" fill="#f9bcbe"/><rect x="171" width="130.6" y="591" height="1" fill="#fac4c5"/><rect x="171" width="130.6" y="592" height="1" fill="#f9c1c3"/><rect x="171" width="130.6" y="593" height="1" fill="#fac4c5"/><rect x="171" width="130.6" y="594" height="1" fill="#fac4c6"/><rect x="171" width="130.6" y="595" height="1" fill="#f9c2c4"/><rect x="171" width="130.6" y="596" height="1" fill="#f9c3c4"/><rect x="171" width="130.6" y="597" height="1" fill="#f9c1c3"/><rect x="171" width="130.6" y="598" height="1" fill="#fac9cb"/><rect x="171" width="130.6" y="599" height="1" fill="#fbcfd0"/><rect x="171" width="130.6" y="600" height="1" fill="#facacc"/><rect x="171" width="130.6" y="601" height="1" fill="#fbcdcf"/><rect x="171" width="130.6" y="602" height="1" fill="#fbd0d1"/><rect x="171" width="130.6" y="603" height="1" fill="#fbd4d5"/><rect x="171" width="130.6" y="604" height="1" fill="#facbcc"/><rect x="171" width="130.6" y="605" height="1" fill="#fac7c8"/><rect x="171" width="130.6" y="606" height="1" fill="#f9c1c2"/><rect x="171" width="130.6" y="607" height="1" fill="#fdebeb"/><rect x="171" width="130.6" y="608" height="1" fill="#fdeaea"/><rect x="171" width="130.6" y="609" height="1" fill="#feeeee"/><rect x="171" width="130.6" y="610" height="1" fill="#fde8e9"/><rect x="171" width="130.6" y="611" height="1" fill="#fce1e1"/><rect x="171" width="130.6" y="612" height="1" fill="#fde6e7"/><rect x="171" width="130.6" y="613" height="1" fill="#fcdfe0"/><rect x="171" width="130.6" y="614" height="1" fill="#fcddde"/><rect x="171" width="130.6" y="615" height="1" fill="#fce0e1"/><rect x="171" width="130.6" y="616" height="1" fill="#f9c2c4"/><rect x="171" width="130.6" y="617" height="1" fill="#f4f4fa"/><rect x="171" width="130.6" y="618" height="1" fill="#f3f2f9"/><rect x="171" width="130.6" y="619" height="1" fill="#f0f0f8"/><rect x="171" width="130.6" y="620" height="1" fill="#f1f1f8"/><rect x="171" width="130.6" y="621" height="1" fill="#f2f2f9"/><rect x="171" width="130.6" y="622" height="1" fill="#f6f6fa"/><rect x="171" width="130.6" y="623" height="1" fill="#f1f1f8"/><rect x="171" width="130.6" y="624" height="1" fill="#f4f4fa"/><rect x="171" width="130.6" y="625" height="1" fill="#f7f7fb"/><rect x="171" width="130.6" y="626" height="1" fill="#e7e6f3"/><rect x="171" width="130.6" y="627" height="1" fill="#e5e4f2"/><rect x="171" width="130.6" y="628" height="1" fill="#e2e1f1"/><rect x="171" width="130.6" y="629" height="1" fill="#e5e5f2"/><rect x="171" width="130.6" y="630" height="2" fill="#e5e4f2"/><rect x="171" width="130.6" y="632" height="1" fill="#e8e8f4"/><rect x="171" width="130.6" y="633" height="1" fill="#e6e5f2"/><rect x="171" width="130.6" y="634" height="1" fill="#deddee"/><rect x="171" width="130.6" y="635" height="1" fill="#deddef"/><rect x="171" width="130.6" y="636" height="1" fill="#f8f8fb"/><rect x="171" width="130.6" y="637" height="1" fill="#fbfbfd"/><rect x="171" width="130.6" y="638" height="1" fill="#fcfbfd"/><rect x="171" width="130.6" y="639" height="1" fill="#fafafd"/><rect x="171" width="130.6" y="640" height="1" fill="#fbfbfd"/><rect x="171" width="130.6" y="641" height="1" fill="#fdfdfe"/><rect x="171" width="130.6" y="642" height="1" fill="#fdfcfe"/><rect x="171" width="130.6" y="643" height="1" fill="#ffffff"/><rect x="171" width="130.6" y="644" height="1" fill="#fefefe"/><rect x="171" width="130.6" y="645" height="1" fill="#ffffff"/><rect x="171" width="130.6" y="646" height="1" fill="#f3f2f9"/><rect x="171" width="130.6" y="647" height="1" fill="#f6f6fb"/><rect x="171" width="130.6" y="648" height="1" fill="#f2f2f8"/><rect x="171" width="130.6" y="649" height="1" fill="#f4f3f9"/><rect x="171" width="130.6" y="650" height="1" fill="#ececf6"/><rect x="171" width="130.6" y="651" height="1" fill="#eae9f4"/><rect x="171" width="130.6" y="652" height="1" fill="#e5e4f2"/><rect x="171" width="130.6" y="653" height="1" fill="#ebeaf5"/><rect x="171" width="130.6" y="654" height="1" fill="#e8e8f4"/><rect x="171" width="130.6" y="655" height="1" fill="#eae9f4"/><rect x="171" width="130.6" y="656" height="1" fill="#eaeaf5"/><rect x="171" width="130.6" y="657" height="1" fill="#ebebf5"/><rect x="171" width="130.6" y="658" height="1" fill="#eaeaf5"/><rect x="171" width="130.6" y="659" height="1" fill="#ececf6"/><rect x="171" width="130.6" y="660" height="1" fill="#f2f2f9"/><rect x="171" width="130.6" y="661" height="1" fill="#f1f1f8"/><rect x="171" width="130.6" y="662" height="1" fill="#fefefe"/><rect x="171" width="130.6" y="663" height="1" fill="#ffffff"/><rect x="171" width="130.6" y="664" height="1" fill="#fefeff"/><rect x="171" width="130.6" y="665" height="1" fill="#fdfdfe"/><rect x="171" width="130.6" y="666" height="1" fill="#fcfcfe"/><rect x="171" width="130.6" y="667" height="1" fill="#fefefe"/><rect x="171" width="130.6" y="668" height="2" fill="#fcfcfd"/><rect x="171" width="130.6" y="670" height="1" fill="#fdfdfe"/><rect x="171" width="130.6" y="671" height="1" fill="#ffffff"/><rect x="171" width="130.6" y="672" height="1" fill="#fdfdfe"/><rect x="171" width="130.6" y="673" height="1" fill="#ffffff"/><rect x="171" width="130.6" y="674" height="1" fill="#fefefe"/><rect x="171" width="130.6" y="675" height="1" fill="#f9f9fc"/><rect x="171" width="130.6" y="676" height="1" fill="#f5f5fa"/><rect x="171" width="130.6" y="677" height="1" fill="#f4f4fa"/><rect x="171" width="130.6" y="678" height="1" fill="#f9f9fc"/><rect x="171" width="130.6" y="679" height="1" fill="#f7f7fb"/><rect x="171" width="130.6" y="680" height="1" fill="#f5f5fa"/><rect x="171" width="130.6" y="681" height="1" fill="#f4f4fa"/><rect x="171" width="130.6" y="682" height="1" fill="#f1f1f8"/><rect x="171" width="130.6" y="683" height="1" fill="#f3f3f9"/><rect x="171" width="130.6" y="684" height="1" fill="#c0bfe0"/><rect x="171" width="130.6" y="685" height="1" fill="#c3c2e1"/><rect x="171" width="130.6" y="686" height="1" fill="#bab9dd"/><rect x="171" width="130.6" y="687" height="2" fill="#bebddf"/><rect x="171" width="130.6" y="689" height="1" fill="#b8b7dc"/><rect x="171" width="130.6" y="690" height="1" fill="#bebddf"/><rect x="171" width="130.6" y="691" height="1" fill="#bfbedf"/><rect x="171" width="130.6" y="692" height="2" fill="#b8b7dc"/><rect x="171" width="130.6" y="694" height="2" fill="#bdbcde"/><rect x="171" width="130.6" y="696" height="1" fill="#c2c1e1"/><rect x="171" width="130.6" y="697" height="1" fill="#c6c5e3"/><rect x="171" width="130.6" y="698" height="2" fill="#c8c7e4"/><rect x="171" width="130.6" y="700" height="2" fill="#cdcce6"/><rect x="171" width="130.6" y="702" height="1" fill="#dbdaed"/><rect x="171" width="130.6" y="703" height="1" fill="#d0cfe7"/><rect x="171" width="130.6" y="704" height="1" fill="#d7d6eb"/><rect x="171" width="130.6" y="705" height="1" fill="#deddee"/><rect x="171" width="130.6" y="706" height="1" fill="#dbdaed"/><rect x="171" width="130.6" y="707" height="1" fill="#d8d7eb"/><rect x="171" width="130.6" y="708" height="1" fill="#e2e1f0"/><rect x="171" width="130.6" y="709" height="1" fill="#d6d5eb"/><rect x="171" width="130.6" y="710" height="1" fill="#d9d8ec"/><rect x="171" width="130.6" y="711" height="1" fill="#e5e4f2"/><rect x="171" width="130.6" y="712" height="1" fill="#dddcee"/><rect x="171" width="130.6" y="713" height="1" fill="#dfdeef"/><rect x="171" width="130.6" y="714" height="1" fill="#e7e6f3"/><rect x="171" width="130.6" y="715" height="2" fill="#e2e1f1"/><rect x="171" width="130.6" y="717" height="1" fill="#e4e3f1"/><rect x="171" width="130.6" y="718" height="1" fill="#dcdbee"/><rect x="171" width="130.6" y="719" height="1" fill="#dbdaed"/><rect x="171" width="130.6" y="720" height="1" fill="#dbdbed"/><rect x="171" width="130.6" y="721" height="1" fill="#dfdeef"/><rect x="171" width="130.6" y="722" height="1" fill="#dddcee"/><rect x="171" width="130.6" y="723" height="1" fill="#dbdaed"/><rect x="171" width="130.6" y="724" height="1" fill="#d5d4ea"/><rect x="171" width="130.6" y="725" height="1" fill="#d4d3ea"/><rect x="171" width="130.6" y="726" height="2" fill="#dad9ec"/><rect x="171" width="130.6" y="728" height="1" fill="#d5d4ea"/><rect x="171" width="130.6" y="729" height="1" fill="#d2d1e9"/><rect x="171" width="130.6" y="730" height="1" fill="#e1e0f0"/><rect x="171" width="130.6" y="731" height="1" fill="#b5b4db"/><rect x="171" width="130.6" y="732" height="1" fill="#b7b6db"/><rect x="171" width="130.6" y="733" height="1" fill="#abaad5"/><rect x="171" width="130.6" y="734" height="1" fill="#afaed7"/><rect x="171" width="130.6" y="735" height="1" fill="#b1b0d9"/><rect x="171" width="130.6" y="736" height="2" fill="#b8b7dc"/><rect x="171" width="130.6" y="738" height="1" fill="#b5b4db"/><rect x="171" width="130.6" y="739" height="1" fill="#b6b5db"/><rect x="171" width="130.6" y="740" height="1" fill="#adacd7"/><rect x="171" width="130.6" y="741" height="1" fill="#b2b1d9"/><rect x="171" width="130.6" y="742" height="1" fill="#b3b2d9"/><rect x="171" width="130.6" y="743" height="1" fill="#b0afd8"/><rect x="171" width="130.6" y="744" height="1" fill="#c2c1e1"/><rect x="171" width="130.6" y="745" height="1" fill="#c7c6e3"/><rect x="171" width="130.6" y="746" height="1" fill="#bfbedf"/><rect x="171" width="130.6" y="747" height="1" fill="#bbbade"/><rect x="171" width="130.6" y="748" height="1" fill="#bdbcde"/><rect x="171" width="130.6" y="749" height="1" fill="#bdbcdf"/><rect x="171" width="130.6" y="750" height="1" fill="#bcbbde"/><rect x="171" width="130.6" y="751" height="1" fill="#b8b7dc"/><rect x="171" width="130.6" y="752" height="1" fill="#c2c1e0"/><rect x="171" width="130.6" y="753" height="1" fill="#c4c3e2"/><rect x="171" width="130.6" y="754" height="1" fill="#bdbcde"/><rect x="171" width="130.6" y="755" height="1" fill="#b8b7dc"/><rect x="171" width="130.6" y="756" height="1" fill="#c0bfe0"/><rect x="171" width="130.6" y="757" height="1" fill="#c3c2e1"/><rect x="171" width="130.6" y="758" height="2" fill="#c8c7e4"/><rect x="171" width="130.6" y="760" height="2" fill="#c1c0e0"/><rect x="171" width="130.6" y="762" height="1" fill="#b7b6db"/><rect x="171" width="130.6" y="763" height="1" fill="#b6b5db"/><rect x="171" width="130.6" y="764" height="1" fill="#b7b6dc"/><rect x="171" width="130.6" y="765" height="1" fill="#9092c9"/><rect x="171" width="130.6" y="766" height="1" fill="#8e90c8"/><rect x="171" width="130.6" y="767" height="1" fill="#8e8fc8"/><rect x="171" width="130.6" y="768" height="1" fill="#8f91c9"/><rect x="171" width="130.6" y="769" height="1" fill="#9092c9"/><rect x="171" width="130.6" y="770" height="2" fill="#9293ca"/><rect x="171" width="130.6" y="772" height="1" fill="#9091c9"/><rect x="171" width="130.6" y="773" height="1" fill="#9293ca"/><rect x="171" width="130.6" y="774" height="1" fill="#9193ca"/><rect x="171" width="130.6" y="775" height="1" fill="#8e90c8"/><rect x="171" width="130.6" y="776" height="1" fill="#8c8ec7"/><rect x="171" width="130.6" y="777" height="1" fill="#9d9dcf"/><rect x="171" width="130.6" y="778" height="1" fill="#9c9dcf"/><rect x="171" width="130.6" y="779" height="2" fill="#9d9dcf"/><rect x="171" width="130.6" y="781" height="1" fill="#9d9ecf"/><rect x="171" width="130.6" y="782" height="1" fill="#9d9dcf"/><rect x="171" width="130.6" y="783" height="1" fill="#9999cd"/><rect x="171" width="130.6" y="784" height="1" fill="#9b9cce"/><rect x="171" width="130.6" y="785" height="1" fill="#9f9fd0"/><rect x="171" width="130.6" y="786" height="1" fill="#ed262a"/><rect x="171" width="130.6" y="787" height="1" fill="#ed272b"/><rect x="171" width="130.6" y="788" height="1" fill="#ed262a"/><rect x="171" width="130.6" y="789" height="1" fill="#ed292d"/><rect x="171" width="130.6" y="790" height="1" fill="#ee2d31"/><rect x="171" width="130.6" y="791" height="1" fill="#ee2b2f"/><rect x="171" width="130.6" y="792" height="1" fill="#ee2d31"/><rect x="171" width="130.6" y="793" height="1" fill="#ed292d"/><rect x="171" width="130.6" y="794" height="1" fill="#ee2b2f"/><rect x="171" width="130.6" y="795" height="2" fill="#ee2f33"/><rect x="171" width="130.6" y="797" height="2" fill="#ed2a2e"/><rect x="171" width="130.6" y="799" height="2" fill="#ee2d31"/><rect x="171" width="130.6" y="801" height="1" fill="#ed2a2e"/><rect x="171" width="130.6" y="802" height="1" fill="#ed282c"/><rect x="171" width="130.6" y="803" height="1" fill="#ed272b"/><rect x="171" width="130.6" y="804" height="2" fill="#ed2327"/><rect x="171" width="130.6" y="806" height="1" fill="#ed2428"/><rect x="171" width="130.6" y="807" height="1" fill="#ed2327"/><rect x="171" width="130.6" y="808" height="3" fill="#ed2024"/><rect x="171" width="130.6" y="811" height="1" fill="#ed2428"/><rect x="171" width="130.6" y="812" height="1" fill="#ed2529"/><rect x="171" width="130.6" y="813" height="1" fill="#ed2428"/><rect x="171" width="130.6" y="814" height="1" fill="#ed2529"/><rect x="171" width="130.6" y="815" height="2" fill="#ed2327"/><rect x="171" width="130.6" y="817" height="1" fill="#ed2226"/><rect x="171" width="130.6" y="818" height="1" fill="#ed2428"/><rect x="171" width="130.6" y="819" height="2" fill="#ed2024"/><rect x="171" width="130.6" y="821" height="1" fill="#ed2125"/><rect x="171" width="130.6" y="822" height="1" fill="#ed2226"/><rect x="171" width="130.6" y="823" height="4" fill="#ed2024"/><rect x="171" width="130.6" y="827" height="1" fill="#ed2226"/><rect x="171" width="130.6" y="828" height="2" fill="#ed262a"/><rect x="171" width="130.6" y="830" height="1" fill="#ed2529"/><rect x="171" width="130.6" y="831" height="1" fill="#ed2327"/><rect x="171" width="130.6" y="832" height="1" fill="#ed2226"/><rect x="171" width="130.6" y="833" height="1" fill="#ed2327"/><rect x="171" width="130.6" y="834" height="2" fill="#ed2226"/><rect x="171" width="130.6" y="836" height="1" fill="#ed2327"/><rect x="171" width="130.6" y="837" height="1" fill="#ed2428"/><rect x="171" width="130.6" y="838" height="1" fill="#ed2529"/><rect x="171" width="130.6" y="839" height="1" fill="#ed2428"/><rect x="171" width="130.6" y="840" height="1" fill="#ed282c"/><rect x="171" width="130.6" y="841" height="2" fill="#ed292d"/><rect x="171" width="130.6" y="843" height="2" fill="#ee3135"/><rect x="171" width="130.6" y="845" height="1" fill="#ee363a"/><rect x="171" width="130.6" y="846" height="1" fill="#ee3539"/><rect x="171" width="130.6" y="847" height="1" fill="#ee3135"/><rect x="171" width="130.6" y="848" height="3" fill="#ee2e32"/><rect x="171" width="130.6" y="851" height="1" fill="#ee3236"/><rect x="171" width="130.6" y="852" height="1" fill="#ed2b2f"/><rect x="171" width="130.6" y="853" height="1" fill="#ed2a2e"/><rect x="171" width="130.6" y="854" height="1" fill="#ed272b"/><rect x="171" width="130.6" y="855" height="1" fill="#ee2b2f"/><rect x="171" width="130.6" y="856" height="1" fill="#ee2c30"/><rect x="171" width="130.6" y="857" height="1" fill="#ee3236"/><rect x="171" width="130.6" y="858" height="1" fill="#ee2e32"/><rect x="171" width="130.6" y="859" height="1" fill="#ed2a2e"/><rect x="171" width="130.6" y="860" height="1" fill="#ee3135"/><rect x="171" width="130.6" y="861" height="1" fill="#ee3034"/><rect x="171" width="130.6" y="862" height="1" fill="#ee2d31"/><rect x="171" width="130.6" y="863" height="1" fill="#ee3236"/><rect x="171" width="130.6" y="864" height="4" fill="#ee363a"/><rect x="171" width="130.6" y="868" height="1" fill="#ee3438"/><rect x="171" width="130.6" y="869" height="1" fill="#ee3135"/><rect x="171" width="130.6" y="870" height="1" fill="#ed2226"/><rect x="171" width="130.6" y="871" height="1" fill="#ed2125"/><rect x="171" width="130.6" y="872" height="2" fill="#ed2024"/><rect x="171" width="130.6" y="874" height="1" fill="#ed2226"/><rect x="171" width="130.6" y="875" height="1" fill="#ed2327"/><rect x="171" width="130.6" y="876" height="1" fill="#ed262a"/><rect x="171" width="130.6" y="877" height="1" fill="#ed272b"/><rect x="171" width="130.6" y="878" height="2" fill="#ed262a"/><rect x="171" width="130.6" y="880" height="1" fill="#ed2428"/><rect x="171" width="130.6" y="881" height="1" fill="#ed272b"/><rect x="171" width="130.6" y="882" height="1" fill="#ed292d"/><rect x="171" width="130.6" y="883" height="2" fill="#ed272b"/><rect x="171" width="130.6" y="885" height="2" fill="#ed262a"/><rect x="171" width="130.6" y="887" height="1" fill="#ed272b"/><rect x="171" width="130.6" y="888" height="1" fill="#ed2428"/><rect x="171" width="130.6" y="889" height="1" fill="#ed2327"/><rect x="171" width="130.6" y="890" height="1" fill="#ed2428"/><rect x="171" width="130.6" y="891" height="2" fill="#ed2529"/><rect x="171" width="130.6" y="893" height="2" fill="#ed2a2e"/><rect x="171" width="130.6" y="895" height="1" fill="#ed282c"/><rect x="171" width="130.6" y="896" height="1" fill="#ed2a2e"/><rect x="171" width="130.6" y="897" height="1" fill="#ed282c"/><rect x="171" width="130.6" y="898" height="1" fill="#ed262a"/><rect x="171" width="130.6" y="899" height="2" fill="#ed282c"/><rect x="171" width="130.6" y="901" height="1" fill="#ed272b"/><rect x="171" width="130.6" y="902" height="1" fill="#ed2529"/><rect x="171" width="130.6" y="903" height="1" fill="#ed2327"/><rect x="171" width="130.6" y="904" height="1" fill="#ed2428"/><rect x="171" width="130.6" y="905" height="3" fill="#ed2529"/><rect x="171" width="130.6" y="908" height="1" fill="#ed2327"/><rect x="171" width="130.6" y="909" height="1" fill="#ed2226"/><rect x="171" width="130.6" y="910" height="1" fill="#ed2428"/><rect x="171" width="130.6" y="911" height="3" fill="#ed272b"/><rect x="171" width="130.6" y="914" height="1" fill="#ed292d"/><rect x="171" width="130.6" y="915" height="2" fill="#ed272b"/><rect x="171" width="130.6" y="917" height="1" fill="#ed262a"/><rect x="171" width="130.6" y="918" height="1" fill="#ed2428"/><rect x="171" width="130.6" y="919" height="1" fill="#ed2529"/><rect x="171" width="130.6" y="920" height="1" fill="#ed2024"/><rect x="171" width="130.6" y="921" height="1" fill="#ed2125"/><rect x="171" width="130.6" y="922" height="1" fill="#ed2024"/><rect x="171" width="130.6" y="923" height="1" fill="#ed2125"/><rect x="171" width="130.6" y="924" height="1" fill="#ed2024"/><rect x="171" width="130.6" y="925" height="1" fill="#ed2529"/><rect x="171" width="130.6" y="926" height="1" fill="#ed262a"/><rect x="171" width="130.6" y="927" height="1" fill="#ed2529"/><rect x="171" width="130.6" y="928" height="1" fill="#ed2327"/><rect x="171" width="130.6" y="929" height="8" fill="#ed2024"/><rect x="171" width="130.6" y="937" height="1" fill="#ed2327"/><rect x="171" width="130.6" y="938" height="1" fill="#ed2125"/><rect x="171" width="130.6" y="939" height="1" fill="#ed2428"/><rect x="171" width="130.6" y="940" height="1" fill="#ed2327"/><rect x="171" width="130.6" y="941" height="1" fill="#ed2024"/><rect x="171" width="130.6" y="942" height="2" fill="#ed2125"/><rect x="171" width="130.6" y="944" height="1" fill="#ed2024"/><rect x="171" width="130.6" y="945" height="1" fill="#ed2125"/><rect x="171" width="130.6" y="946" height="2" fill="#ed2327"/><rect x="171" width="130.6" y="948" height="1" fill="#ed2226"/><rect x="171" width="130.6" y="949" height="1" fill="#ed2125"/><rect x="171" width="130.6" y="950" height="1" fill="#ed2327"/><rect x="171" width="130.6" y="951" height="4" fill="#ed2024"/><rect x="171" width="130.6" y="955" height="1" fill="#ed2226"/><rect x="171" width="130.6" y="956" height="1" fill="#ed2024"/><rect x="171" width="130.6" y="957" height="1" fill="#ed2226"/><rect x="171" width="130.6" y="958" height="1" fill="#ed2125"/><rect x="171" width="130.6" y="959" height="1" fill="#ed2327"/><rect x="171" width="130.6" y="960" height="1" fill="#ed2428"/><rect x="171" width="130.6" y="961" height="1" fill="#ed2327"/><rect x="171" width="130.6" y="962" height="1" fill="#ed2024"/><rect x="171" width="130.6" y="963" height="1" fill="#ed2125"/><rect x="171" width="130.6" y="964" height="1" fill="#ed2327"/><rect x="171" width="130.6" y="965" height="3" fill="#ed2226"/><rect x="171" width="130.6" y="968" height="2" fill="#ed2024"/><rect x="171" width="130.6" y="970" height="1" fill="#ed2125"/><rect x="171" width="130.6" y="971" height="3" fill="#ed2024"/><rect x="171" width="130.6" y="974" height="1" fill="#ed2125"/><rect x="171" width="130.6" y="975" height="1" fill="#ed2226"/><rect x="171" width="130.6" y="976" height="1" fill="#ed262a"/><rect x="171" width="130.6" y="977" height="1" fill="#ed2226"/><rect x="171" width="130.6" y="978" height="1" fill="#ed2024"/><rect x="171" width="130.6" y="979" height="1" fill="#ed2327"/><rect x="171" width="130.6" y="980" height="1" fill="#ed262a"/><rect x="171" width="130.6" y="981" height="1" fill="#ed292d"/><rect x="171" width="130.6" y="982" height="1" fill="#ed2529"/><rect x="171" width="130.6" y="983" height="1" fill="#ed262a"/><rect x="171" width="130.6" y="984" height="3" fill="#ed2529"/><rect x="171" width="130.6" y="987" height="1" fill="#ed272b"/><rect x="171" width="130.6" y="988" height="1" fill="#ed262a"/><rect x="171" width="130.6" y="989" height="1" fill="#ed282c"/><rect x="171" width="130.6" y="990" height="1" fill="#ed272b"/><rect x="171" width="130.6" y="991" height="1" fill="#ed2529"/><rect x="171" width="130.6" y="992" height="2" fill="#ed2428"/><rect x="171" width="130.6" y="994" height="1" fill="#ed262a"/><rect x="171" width="130.6" y="995" height="1" fill="#ed2529"/><rect x="171" width="130.6" y="996" height="1" fill="#ed262a"/><rect x="171" width="130.6" y="997" height="1" fill="#ed2226"/><rect x="171" width="130.6" y="998" height="1" fill="#ed2125"/><rect x="171" width="130.6" y="999" height="1" fill="#ed2226"/><rect x="171" width="130.6" y="1000" height="1" fill="#ed2327"/><rect x="171" width="130.6" y="1001" height="1" fill="#ed2529"/><rect x="171" width="130.6" y="1002" height="2" fill="#ed262a"/><rect x="171" width="130.6" y="1004" height="1" fill="#ed2529"/><rect x="171" width="130.6" y="1005" height="1" fill="#ed2327"/><rect x="171" width="130.6" y="1006" height="1" fill="#ed2226"/><rect x="171" width="130.6" y="1007" height="1" fill="#ed2024"/><rect x="171" width="130.6" y="1008" height="1" fill="#ed2125"/><rect x="171" width="130.6" y="1009" height="1" fill="#ed2226"/><rect x="171" width="130.6" y="1010" height="1" fill="#ed2024"/><rect x="171" width="130.6" y="1011" height="1" fill="#ed2226"/><rect x="171" width="130.6" y="1012" height="1" fill="#ed2428"/><rect x="171" width="130.6" y="1013" height="2" fill="#ed2327"/><rect x="171" width="130.6" y="1015" height="1" fill="#ed2226"/><rect x="171" width="130.6" y="1016" height="1" fill="#ed2327"/><rect x="171" width="130.6" y="1017" height="1" fill="#ed2226"/><rect x="171" width="130.6" y="1018" height="1" fill="#ed2327"/><rect x="171" width="130.6" y="1019" height="1" fill="#ed2125"/><rect x="171" width="130.6" y="1020" height="1" fill="#ed262a"/><rect x="171" width="130.6" y="1021" height="1" fill="#ed272b"/><rect x="171" width="130.6" y="1022" height="1" fill="#ed262a"/><rect x="171" width="130.6" y="1023" height="1" fill="#ed282c"/><rect x="171" width="130.6" y="1024" height="1" fill="#ed292d"/><rect x="171" width="130.6" y="1025" height="1" fill="#ed262a"/><rect x="171" width="130.6" y="1026" height="1" fill="#ed272b"/><rect x="171" width="130.6" y="1027" height="1" fill="#ed2428"/><rect x="171" width="130.6" y="1028" height="1" fill="#ed2327"/><rect x="171" width="130.6" y="1029" height="3" fill="#ed2226"/><rect x="171" width="130.6" y="1032" height="1" fill="#ed262a"/><rect x="171" width="130.6" y="1033" height="1" fill="#ed2529"/><rect x="171" width="130.6" y="1034" height="1" fill="#ed2428"/><rect x="171" width="130.6" y="1035" height="2" fill="#ed2529"/><rect x="171" width="130.6" y="1037" height="1" fill="#ed2327"/><rect x="171" width="130.6" y="1038" height="1" fill="#ed2529"/><rect x="171" width="130.6" y="1039" height="1" fill="#ed2327"/><rect x="171" width="130.6" y="1040" height="1" fill="#ed2024"/><rect x="171" width="130.6" y="1041" height="2" fill="#ed2226"/><rect x="171" width="130.6" y="1043" height="1" fill="#ed2327"/><rect x="171" width="130.6" y="1044" height="3" fill="#ed2024"/><rect x="171" width="130.6" y="1047" height="2" fill="#ed2226"/><rect x="171" width="130.6" y="1049" height="1" fill="#ed2327"/><rect x="171" width="130.6" y="1050" height="1" fill="#ed272b"/><rect x="171" width="130.6" y="1051" height="1" fill="#ed2327"/><rect x="171" width="130.6" y="1052" height="1" fill="#ed2125"/><rect x="171" width="130.6" y="1053" height="1" fill="#ed2529"/><rect x="171" width="130.6" y="1054" height="1" fill="#ed2327"/><rect x="171" width="130.6" y="1055" height="1" fill="#ed2428"/><rect x="171" width="130.6" y="1056" height="1" fill="#ed2327"/><rect x="171" width="130.6" y="1057" height="1" fill="#ed2226"/><rect x="171" width="130.6" y="1058" height="1" fill="#f16c70"/><rect x="171" width="130.6" y="1059" height="1" fill="#f16b6f"/><rect x="171" width="130.6" y="1060" height="1" fill="#f16367"/><rect x="171" width="130.6" y="1061" height="1" fill="#f1666a"/><rect x="171" width="130.6" y="1062" height="1" fill="#f16a6e"/><rect x="171" width="130.6" y="1063" height="1" fill="#f16f73"/><rect x="171" width="130.6" y="1064" height="1" fill="#f27175"/><rect x="171" width="130.6" y="1065" height="1" fill="#f16d71"/><rect x="171" width="130.6" y="1066" height="1" fill="#f16468"/><rect x="171" width="130.6" y="1067" height="1" fill="#f16367"/><rect x="171" width="130.6" y="1068" height="1" fill="#f16266"/><rect x="171" width="130.6" y="1069" height="1" fill="#f05a5e"/><rect x="171" width="130.6" y="1070" height="1" fill="#ef4f53"/><rect x="171" width="130.6" y="1071" height="1" fill="#ef5155"/><rect x="171" width="130.6" y="1072" height="1" fill="#ef4d51"/><rect x="171" width="130.6" y="1073" height="1" fill="#ef4a4e"/><rect x="171" width="130.6" y="1074" height="1" fill="#ef5054"/><rect x="171" width="130.6" y="1075" height="1" fill="#f05559"/><rect x="171" width="130.6" y="1076" height="1" fill="#ef5155"/><rect x="171" width="130.6" y="1077" height="1" fill="#ef4e52"/><rect x="171" width="130.6" y="1078" height="1" fill="#f05458"/><rect x="171" width="130.6" y="1079" height="1" fill="#ef5357"/><rect x="171" width="130.6" y="1080" height="1" fill="#f05458"/><rect x="171" width="130.6" y="1081" height="3" fill="#ef4f53"/><rect x="171" width="130.6" y="1084" height="1" fill="#ef5054"/><rect x="171" width="130.6" y="1085" height="1" fill="#ef494d"/><rect x="171" width="130.6" y="1086" height="1" fill="#ef4347"/><rect x="171" width="130.6" y="1087" height="1" fill="#ef474b"/><rect x="171" width="130.6" y="1088" height="1" fill="#ef4448"/><rect x="171" width="130.6" y="1089" height="2" fill="#ef4a4e"/><rect x="171" width="130.6" y="1091" height="1" fill="#ef474b"/><rect x="171" width="130.6" y="1092" height="1" fill="#f05c60"/><rect x="171" width="130.6" y="1093" height="1" fill="#f05f63"/><rect x="171" width="130.6" y="1094" height="1" fill="#f06165"/><rect x="171" width="130.6" y="1095" height="1" fill="#f06064"/><rect x="171" width="130.6" y="1096" height="1" fill="#f1676b"/><rect x="171" width="130.6" y="1097" height="1" fill="#f1666a"/><rect x="171" width="130.6" y="1098" height="1" fill="#f1676b"/><rect x="171" width="130.6" y="1099" height="1" fill="#f16569"/><rect x="171" width="130.6" y="1100" height="1" fill="#f1696d"/><rect x="171" width="130.6" y="1101" height="1" fill="#f16f73"/><rect x="171" width="130.6" y="1102" height="1" fill="#f16b6f"/><rect x="171" width="130.6" y="1103" height="2" fill="#f1686c"/><rect x="171" width="130.6" y="1105" height="1" fill="#ef494d"/><rect x="171" width="130.6" y="1106" height="1" fill="#ef4c50"/><rect x="171" width="130.6" y="1107" height="1" fill="#ef4f53"/><rect x="171" width="130.6" y="1108" height="1" fill="#ef4d51"/><rect x="171" width="130.6" y="1109" height="1" fill="#f05559"/><rect x="171" width="130.6" y="1110" height="1" fill="#f0565a"/><rect x="171" width="130.6" y="1111" height="1" fill="#f05458"/><rect x="171" width="130.6" y="1112" height="1" fill="#ef4e52"/><rect x="171" width="130.6" y="1113" height="1" fill="#ef4f53"/><rect x="171" width="130.6" y="1114" height="1" fill="#ef4d51"/><rect x="171" width="130.6" y="1115" height="1" fill="#ef5054"/><rect x="171" width="130.6" y="1116" height="1" fill="#ef4e52"/><rect x="171" width="130.6" y="1117" height="1" fill="#ef4549"/><rect x="171" width="130.6" y="1118" height="1" fill="#ef4b4f"/><rect x="171" width="130.6" y="1119" height="1" fill="#ee4044"/><rect x="171" width="130.6" y="1120" height="1" fill="#ef474b"/><rect x="171" width="130.6" y="1121" height="2" fill="#ef494d"/><rect x="171" width="130.6" y="1123" height="1" fill="#ef4549"/><rect x="171" width="130.6" y="1124" height="1" fill="#ef4145"/><rect x="171" width="130.6" y="1125" height="1" fill="#ef494d"/><rect x="171" width="130.6" y="1126" height="1" fill="#ef4347"/><rect x="171" width="130.6" y="1127" height="1" fill="#ee3d41"/><rect x="171" width="130.6" y="1128" height="1" fill="#ee3b3f"/><rect x="171" width="130.6" y="1129" height="1" fill="#ee3034"/><rect x="171" width="130.6" y="1130" height="1" fill="#ee3337"/><rect x="171" width="130.6" y="1131" height="1" fill="#ee3438"/><rect x="171" width="130.6" y="1132" height="1" fill="#ee3337"/><rect x="171" width="130.6" y="1133" height="1" fill="#ee3438"/><rect x="171" width="130.6" y="1134" height="1" fill="#ee2f33"/><rect x="171" width="130.6" y="1135" height="1" fill="#ee383c"/><rect x="171" width="130.6" y="1136" height="1" fill="#ee3b3f"/><rect x="171" width="130.6" y="1137" height="1" fill="#ef494d"/><rect x="171" width="130.6" y="1138" height="2" fill="#ef4246"/><rect x="171" width="130.6" y="1140" height="1" fill="#ee3d41"/><rect x="171" width="130.6" y="1141" height="1" fill="#ee3337"/><rect x="171" width="130.6" y="1142" height="1" fill="#ee363a"/><rect x="171" width="130.6" y="1143" height="1" fill="#ee393d"/><rect x="171" width="130.6" y="1144" height="1" fill="#ee3c40"/><rect x="171" width="130.6" y="1145" height="1" fill="#ee3f43"/><rect x="171" width="130.6" y="1146" height="1" fill="#ef4145"/><rect x="171" width="130.6" y="1147" height="2" fill="#ee3d41"/><rect x="171" width="130.6" y="1149" height="1" fill="#ee3c40"/><rect x="171" width="130.6" y="1150" height="1" fill="#ee3d41"/><rect x="171" width="130.6" y="1151" height="1" fill="#ee393d"/><rect x="171" width="130.6" y="1152" height="1" fill="#ef494d"/><rect x="171" width="130.6" y="1153" height="1" fill="#ef4a4e"/><rect x="171" width="130.6" y="1154" height="1" fill="#ef484c"/><rect x="171" width="130.6" y="1155" height="1" fill="#ef494d"/><rect x="171" width="130.6" y="1156" height="1" fill="#ef4d51"/><rect x="171" width="130.6" y="1157" height="1" fill="#ef484c"/><rect x="171" width="130.6" y="1158" height="1" fill="#ef474b"/><rect x="171" width="130.6" y="1159" height="1" fill="#ef4b4f"/><rect x="171" width="130.6" y="1160" height="2" fill="#ee3438"/><rect x="171" width="130.6" y="1162" height="1" fill="#ee3c40"/><rect x="171" width="130.6" y="1163" height="2" fill="#ee3438"/><rect x="171" width="130.6" y="1165" height="1" fill="#ee3236"/><rect x="171" width="130.6" y="1166" height="1" fill="#ee3337"/><rect x="171" width="130.6" y="1167" height="1" fill="#ee3539"/><rect x="171" width="130.6" y="1168" height="1" fill="#ee3d41"/><rect x="171" width="130.6" y="1169" height="1" fill="#ee373b"/><rect x="171" width="130.6" y="1170" height="1" fill="#ee383c"/><rect x="171" width="130.6" y="1171" height="1" fill="#ee393d"/><rect x="171" width="130.6" y="1172" height="2" fill="#ee373b"/><rect x="171" width="130.6" y="1174" height="1" fill="#ee3539"/><rect x="171" width="130.6" y="1175" height="2" fill="#ee383c"/><rect x="171" width="130.6" y="1177" height="1" fill="#ef4145"/><rect x="171" width="130.6" y="1178" height="1" fill="#ee4145"/><rect x="171" width="130.6" y="1179" height="1" fill="#ee3b3f"/><rect x="171" width="130.6" y="1180" height="1" fill="#ee3539"/><rect x="171" width="130.6" y="1181" height="2" fill="#ee383c"/><rect x="171" width="130.6" y="1183" height="1" fill="#ee3236"/><rect x="171" width="130.6" y="1184" height="1" fill="#ee3539"/><rect x="171" width="130.6" y="1185" height="1" fill="#ee3337"/><rect x="171" width="130.6" y="1186" height="1" fill="#ee2e32"/>
<rect x="301" width="130.6" y="404.4" height="0.6" fill="#ef5155"/><rect x="301" width="130.6" y="405" height="1" fill="#ef4b4f"/><rect x="301" width="130.6" y="406" height="1" fill="#ef5054"/><rect x="301" width="130.6" y="407" height="1" fill="#ef4f53"/><rect x="301" width="130.6" y="408" height="2" fill="#ef5054"/><rect x="301" width="130.6" y="410" height="1" fill="#ef4a4e"/><rect x="301" width="130.6" y="411" height="1" fill="#ee4145"/><rect x="301" width="130.6" y="412" height="1" fill="#ef484c"/><rect x="301" width="130.6" y="413" height="1" fill="#ef4e52"/><rect x="301" width="130.6" y="414" height="1" fill="#ef4c50"/><rect x="301" width="130.6" y="415" height="1" fill="#ef5357"/><rect x="301" width="130.6" y="416" height="1" fill="#ef5054"/><rect x="301" width="130.6" y="417" height="1" fill="#ef4d51"/><rect x="301" width="130.6" y="418" height="1" fill="#ef5054"/><rect x="301" width="130.6" y="419" height="1" fill="#ef4d51"/><rect x="301" width="130.6" y="420" height="1" fill="#f0565a"/><rect x="301" width="130.6" y="421" height="1" fill="#ef5155"/><rect x="301" width="130.6" y="422" height="1" fill="#f0595d"/><rect x="301" width="130.6" y="423" height="1" fill="#f05a5e"/><rect x="301" width="130.6" y="424" height="1" fill="#f05b5f"/><rect x="301" width="130.6" y="425" height="1" fill="#f05a5e"/><rect x="301" width="130.6" y="426" height="1" fill="#ef5357"/><rect x="301" width="130.6" y="427" height="1" fill="#ef5256"/><rect x="301" width="130.6" y="428" height="1" fill="#f05458"/><rect x="301" width="130.6" y="429" height="1" fill="#ef5054"/><rect x="301" width="130.6" y="430" height="1" fill="#f16367"/><rect x="301" width="130.6" y="431" height="1" fill="#f16569"/><rect x="301" width="130.6" y="432" height="1" fill="#f16468"/><rect x="301" width="130.6" y="433" height="1" fill="#f06165"/><rect x="301" width="130.6" y="434" height="1" fill="#f16266"/><rect x="301" width="130.6" y="435" height="1" fill="#f1696d"/><rect x="301" width="130.6" y="436" height="1" fill="#f05f63"/><rect x="301" width="130.6" y="437" height="1" fill="#f05c60"/><rect x="301" width="130.6" y="438" height="1" fill="#f06165"/><rect x="301" width="130.6" y="439" height="1" fill="#f05e62"/><rect x="301" width="130.6" y="440" height="1" fill="#f0595d"/><rect x="301" width="130.6" y="441" height="1" fill="#ef5155"/><rect x="301" width="130.6" y="442" height="1" fill="#ef4e52"/><rect x="301" width="130.6" y="443" height="1" fill="#ef5256"/><rect x="301" width="130.6" y="444" height="1" fill="#f0595d"/><rect x="301" width="130.6" y="445" height="1" fill="#f0575b"/><rect x="301" width="130.6" y="446" height="1" fill="#ef5054"/><rect x="301" width="130.6" y="447" height="1" fill="#f0585c"/><rect x="301" width="130.6" y="448" height="1" fill="#f05d61"/><rect x="301" width="130.6" y="449" height="1" fill="#f05b5f"/><rect x="301" width="130.6" y="450" height="1" fill="#f16569"/><rect x="301" width="130.6" y="451" height="1" fill="#f16266"/><rect x="301" width="130.6" y="452" height="1" fill="#f06165"/><rect x="301" width="130.6" y="453" height="1" fill="#f05b5f"/><rect x="301" width="130.6" y="454" height="1" fill="#f05d61"/><rect x="301" width="130.6" y="455" height="1" fill="#f06064"/><rect x="301" width="130.6" y="456" height="1" fill="#f05f63"/><rect x="301" width="130.6" y="457" height="1" fill="#f05d61"/><rect x="301" width="130.6" y="458" height="1" fill="#f05f63"/><rect x="301" width="130.6" y="459" height="1" fill="#f05c60"/><rect x="301" width="130.6" y="460" height="1" fill="#f05559"/><rect x="301" width="130.6" y="461" height="1" fill="#ef4e52"/><rect x="301" width="130.6" y="462" height="1" fill="#ef4549"/><rect x="301" width="130.6" y="463" height="1" fill="#ef4e52"/><rect x="301" width="130.6" y="464" height="1" fill="#ef5357"/><rect x="301" width="130.6" y="465" height="1" fill="#f16266"/><rect x="301" width="130.6" y="466" height="1" fill="#ef5357"/><rect x="301" width="130.6" y="467" height="1" fill="#f0585c"/><rect x="301" width="130.6" y="468" height="1" fill="#f0575b"/><rect x="301" width="130.6" y="469" height="1" fill="#f05357"/><rect x="301" width="130.6" y="470" height="1" fill="#f05c60"/><rect x="301" width="130.6" y="471" height="2" fill="#f0575b"/><rect x="301" width="130.6" y="473" height="1" fill="#f06165"/><rect x="301" width="130.6" y="474" height="1" fill="#f05c60"/><rect x="301" width="130.6" y="475" height="1" fill="#ef5357"/><rect x="301" width="130.6" y="476" height="1" fill="#f05f63"/><rect x="301" width="130.6" y="477" height="1" fill="#f0575b"/><rect x="301" width="130.6" y="478" height="1" fill="#f05559"/><rect x="301" width="130.6" y="479" height="1" fill="#ef5256"/><rect x="301" width="130.6" y="480" height="1" fill="#f2777b"/><rect x="301" width="130.6" y="481" height="1" fill="#f16f73"/><rect x="301" width="130.6" y="482" height="1" fill="#f27478"/><rect x="301" width="130.6" y="483" height="1" fill="#f16f73"/><rect x="301" width="130.6" y="484" height="1" fill="#f27579"/><rect x="301" width="130.6" y="485" height="1" fill="#f27276"/><rect x="301" width="130.6" y="486" height="1" fill="#f27a7e"/><rect x="301" width="130.6" y="487" height="1" fill="#f27b7f"/><rect x="301" width="130.6" y="488" height="1" fill="#f16e72"/><rect x="301" width="130.6" y="489" height="1" fill="#f16f73"/><rect x="301" width="130.6" y="490" height="1" fill="#f27377"/><rect x="301" width="130.6" y="491" height="1" fill="#f37e81"/><rect x="301" width="130.6" y="492" height="1" fill="#f38386"/><rect x="301" width="130.6" y="493" height="1" fill="#f37f83"/><rect x="301" width="130.6" y="494" height="1" fill="#f2777b"/><rect x="301" width="130.6" y="495" height="1" fill="#f27579"/><rect x="301" width="130.6" y="496" height="1" fill="#f27377"/><rect x="301" width="130.6" y="497" height="1" fill="#f27579"/><rect x="301" width="130.6" y="498" height="1" fill="#f16d71"/><rect x="301" width="130.6" y="499" height="1" fill="#f27377"/><rect x="301" width="130.6" y="500" height="1" fill="#f2797d"/><rect x="301" width="130.6" y="501" height="1" fill="#f27377"/><rect x="301" width="130.6" y="502" height="1" fill="#f27579"/><rect x="301" width="130.6" y="503" height="1" fill="#f2787c"/><rect x="301" width="130.6" y="504" height="1" fill="#f37d81"/><rect x="301" width="130.6" y="505" height="1" fill="#f37f82"/><rect x="301" width="130.6" y="506" height="1" fill="#f2797d"/><rect x="301" width="130.6" y="507" height="1" fill="#f2777b"/><rect x="301" width="130.6" y="508" height="1" fill="#f38185"/><rect x="301" width="130.6" y="509" height="1" fill="#f27c80"/><rect x="301" width="130.6" y="510" height="1" fill="#f27a7e"/><rect x="301" width="130.6" y="511" height="1" fill="#f38286"/><rect x="301" width="130.6" y="512" height="1" fill="#f27a7e"/><rect x="301" width="130.6" y="513" height="1" fill="#f27c80"/><rect x="301" width="130.6" y="514" height="1" fill="#f37e82"/><rect x="301" width="130.6" y="515" height="1" fill="#f2777b"/><rect x="301" width="130.6" y="516" height="1" fill="#f16f73"/><rect x="301" width="130.6" y="517" height="1" fill="#f2777b"/><rect x="301" width="130.6" y="518" height="1" fill="#f27579"/><rect x="301" width="130.6" y="519" height="1" fill="#f37d81"/><rect x="301" width="130.6" y="520" height="1" fill="#f16b6f"/><rect x="301" width="130.6" y="521" height="1" fill="#f27377"/><rect x="301" width="130.6" y="522" height="1" fill="#f16d71"/><rect x="301" width="130.6" y="523" height="1" fill="#f27579"/><rect x="301" width="130.6" y="524" height="1" fill="#f27175"/><rect x="301" width="130.6" y="525" height="1" fill="#f16468"/><rect x="301" width="130.6" y="526" height="1" fill="#f27c80"/><rect x="301" width="130.6" y="527" height="1" fill="#f37f83"/><rect x="301" width="130.6" y="528" height="1" fill="#f27a7e"/><rect x="301" width="130.6" y="529" height="1" fill="#f27b7f"/><rect x="301" width="130.6" y="530" height="1" fill="#f38084"/><rect x="301" width="130.6" y="531" height="1" fill="#f16f73"/><rect x="301" width="130.6" y="532" height="1" fill="#f27175"/><rect x="301" width="130.6" y="533" height="1" fill="#f38084"/><rect x="301" width="130.6" y="534" height="1" fill="#ed2b2f"/><rect x="301" width="130.6" y="535" height="1" fill="#ee3337"/><rect x="301" width="130.6" y="536" height="1" fill="#ee2d31"/><rect x="301" width="130.6" y="537" height="1" fill="#ee2f33"/><rect x="301" width="130.6" y="538" height="1" fill="#ee2e32"/><rect x="301" width="130.6" y="539" height="1" fill="#ed292d"/><rect x="301" width="130.6" y="540" height="1" fill="#ed2a2e"/><rect x="301" width="130.6" y="541" height="1" fill="#ee3135"/><rect x="301" width="130.6" y="542" height="1" fill="#ee373b"/><rect x="301" width="130.6" y="543" height="1" fill="#ee3034"/><rect x="301" width="130.6" y="544" height="1" fill="#ee2c30"/><rect x="301" width="130.6" y="545" height="1" fill="#ee3034"/><rect x="301" width="130.6" y="546" height="1" fill="#ee2c30"/><rect x="301" width="130.6" y="547" height="1" fill="#ed2a2e"/><rect x="301" width="130.6" y="548" height="1" fill="#ed292d"/><rect x="301" width="130.6" y="549" height="1" fill="#ee3438"/><rect x="301" width="130.6" y="550" height="1" fill="#ee3337"/><rect x="301" width="130.6" y="551" height="1" fill="#ee2e32"/><rect x="301" width="130.6" y="552" height="1" fill="#ee2b2f"/><rect x="301" width="130.6" y="553" height="1" fill="#ed282c"/><rect x="301" width="130.6" y="554" height="1" fill="#ee3438"/><rect x="301" width="130.6" y="555" height="1" fill="#ee3236"/><rect x="301" width="130.6" y="556" height="1" fill="#ee2f33"/><rect x="301" width="130.6" y="557" height="1" fill="#ed2428"/><rect x="301" width="130.6" y="558" height="1" fill="#ed2b2f"/><rect x="301" width="130.6" y="559" height="2" fill="#ee2d31"/><rect x="301" width="130.6" y="561" height="1" fill="#ed2a2e"/><rect x="301" width="130.6" y="562" height="1" fill="#ee2d31"/><rect x="301" width="130.6" y="563" height="1" fill="#ed282c"/><rect x="301" width="130.6" y="564" height="1" fill="#ee2d31"/><rect x="301" width="130.6" y="565" height="1" fill="#ee2c30"/><rect x="301" width="130.6" y="566" height="1" fill="#ee2f33"/><rect x="301" width="130.6" y="567" height="1" fill="#ee2e32"/><rect x="301" width="130.6" y="568" height="1" fill="#ee3135"/><rect x="301" width="130.6" y="569" height="1" fill="#ee373b"/><rect x="301" width="130.6" y="570" height="1" fill="#ee3034"/><rect x="301" width="130.6" y="571" height="1" fill="#ee2e32"/><rect x="301" width="130.6" y="572" height="1" fill="#ee3034"/><rect x="301" width="130.6" y="573" height="1" fill="#ee2f33"/><rect x="301" width="130.6" y="574" height="1" fill="#ed2b2f"/><rect x="301" width="130.6" y="575" height="1" fill="#ee3034"/><rect x="301" width="130.6" y="576" height="1" fill="#ee4044"/><rect x="301" width="130.6" y="577" height="1" fill="#ee3d41"/><rect x="301" width="130.6" y="578" height="1" fill="#ee3b3f"/><rect x="301" width="130.6" y="579" height="1" fill="#ee3e42"/><rect x="301" width="130.6" y="580" height="1" fill="#ef4a4e"/><rect x="301" width="130.6" y="581" height="1" fill="#ee4044"/><rect x="301" width="130.6" y="582" height="1" fill="#ee3e42"/><rect x="301" width="130.6" y="583" height="1" fill="#ee3f43"/><rect x="301" width="130.6" y="584" height="1" fill="#ee4044"/><rect x="301" width="130.6" y="585" height="1" fill="#ee3f43"/><rect x="301" width="130.6" y="586" height="1" fill="#ef4145"/><rect x="301" width="130.6" y="587" height="1" fill="#ef464a"/><rect x="301" width="130.6" y="588" height="1" fill="#ef484c"/><rect x="301" width="130.6" y="589" height="1" fill="#ef494d"/><rect x="301" width="130.6" y="590" height="1" fill="#ef4a4e"/><rect x="301" width="130.6" y="591" height="1" fill="#ef4d51"/><rect x="301" width="130.6" y="592" height="1" fill="#ef464a"/><rect x="301" width="130.6" y="593" height="1" fill="#ef4b4f"/><rect x="301" width="130.6" y="594" height="1" fill="#ef4448"/><rect x="301" width="130.6" y="595" height="1" fill="#ef484c"/><rect x="301" width="130.6" y="596" height="1" fill="#ef4448"/><rect x="301" width="130.6" y="597" height="2" fill="#ee3c40"/><rect x="301" width="130.6" y="599" height="1" fill="#ee4145"/><rect x="301" width="130.6" y="600" height="1" fill="#ee4044"/><rect x="301" width="130.6" y="601" height="1" fill="#ee3f43"/><rect x="301" width="130.6" y="602" height="1" fill="#ef484c"/><rect x="301" width="130.6" y="603" height="1" fill="#ef494d"/><rect x="301" width="130.6" y="604" height="2" fill="#ef464a"/><rect x="301" width="130.6" y="606" height="1" fill="#ef4448"/><rect x="301" width="130.6" y="607" height="1" fill="#ee3f43"/><rect x="301" width="130.6" y="608" height="1" fill="#ee3b3f"/><rect x="301" width="130.6" y="609" height="1" fill="#ee383c"/><rect x="301" width="130.6" y="610" height="1" fill="#ee373b"/><rect x="301" width="130.6" y="611" height="1" fill="#ee3b3f"/><rect x="301" width="130.6" y="612" height="1" fill="#ee3c40"/><rect x="301" width="130.6" y="613" height="1" fill="#ee3f43"/><rect x="301" width="130.6" y="614" height="1" fill="#ee4145"/><rect x="301" width="130.6" y="615" height="1" fill="#ef4145"/><rect x="301" width="130.6" y="616" height="1" fill="#ef4a4e"/><rect x="301" width="130.6" y="617" height="2" fill="#ed2428"/><rect x="301" width="130.6" y="619" height="1" fill="#ed262a"/><rect x="301" width="130.6" y="620" height="1" fill="#ed2529"/><rect x="301" width="130.6" y="621" height="2" fill="#ed2428"/><rect x="301" width="130.6" y="623" height="1" fill="#ed2024"/><rect x="301" width="130.6" y="624" height="2" fill="#ed262a"/><rect x="301" width="130.6" y="626" height="1" fill="#ed292d"/><rect x="301" width="130.6" y="627" height="1" fill="#ed2529"/><rect x="301" width="130.6" y="628" height="1" fill="#ed2024"/><rect x="301" width="130.6" y="629" height="1" fill="#ed262a"/><rect x="301" width="130.6" y="630" height="1" fill="#ed2529"/><rect x="301" width="130.6" y="631" height="1" fill="#ed2327"/><rect x="301" width="130.6" y="632" height="1" fill="#ed2428"/><rect x="301" width="130.6" y="633" height="1" fill="#ed2327"/><rect x="301" width="130.6" y="634" height="1" fill="#ed282c"/><rect x="301" width="130.6" y="635" height="1" fill="#ed2529"/><rect x="301" width="130.6" y="636" height="2" fill="#ed2428"/><rect x="301" width="130.6" y="638" height="1" fill="#ed2529"/><rect x="301" width="130.6" y="639" height="1" fill="#ed2327"/><rect x="301" width="130.6" y="640" height="2" fill="#ed2428"/><rect x="301" width="130.6" y="642" height="1" fill="#ed2529"/><rect x="301" width="130.6" y="643" height="1" fill="#ed292d"/><rect x="301" width="130.6" y="644" height="1" fill="#ed282c"/><rect x="301" width="130.6" y="645" height="1" fill="#ed262a"/><rect x="301" width="130.6" y="646" height="1" fill="#ed2428"/><rect x="301" width="130.6" y="647" height="2" fill="#ed2529"/><rect x="301" width="130.6" y="649" height="2" fill="#ed2327"/><rect x="301" width="130.6" y="651" height="1" fill="#ed2125"/><rect x="301" width="130.6" y="652" height="1" fill="#ed2024"/><rect x="301" width="130.6" y="653" height="1" fill="#ed2125"/><rect x="301" width="130.6" y="654" height="1" fill="#ed262a"/><rect x="301" width="130.6" y="655" height="1" fill="#ed2327"/><rect x="301" width="130.6" y="656" height="3" fill="#ed2024"/><rect x="301" width="130.6" y="659" height="1" fill="#ed2125"/><rect x="301" width="130.6" y="660" height="1" fill="#ed2327"/><rect x="301" width="130.6" y="661" height="1" fill="#ed2226"/><rect x="301" width="130.6" y="662" height="1" fill="#ed2428"/><rect x="301" width="130.6" y="663" height="1" fill="#ed282c"/><rect x="301" width="130.6" y="664" height="1" fill="#ed292d"/><rect x="301" width="130.6" y="665" height="1" fill="#ed2226"/><rect x="301" width="130.6" y="666" height="1" fill="#ed2024"/><rect x="301" width="130.6" y="667" height="1" fill="#ed2125"/><rect x="301" width="130.6" y="668" height="2" fill="#ed2327"/><rect x="301" width="130.6" y="670" height="1" fill="#ed2529"/><rect x="301" width="130.6" y="671" height="2" fill="#ed2226"/><rect x="301" width="130.6" y="673" height="1" fill="#ed2529"/><rect x="301" width="130.6" y="674" height="1" fill="#ed2226"/><rect x="301" width="130.6" y="675" height="3" fill="#ed2327"/><rect x="301" width="130.6" y="678" height="1" fill="#ed2428"/><rect x="301" width="130.6" y="679" height="1" fill="#ed2327"/><rect x="301" width="130.6" y="680" height="1" fill="#ed2529"/><rect x="301" width="130.6" y="681" height="1" fill="#ed282c"/><rect x="301" width="130.6" y="682" height="3" fill="#ed2a2e"/><rect x="301" width="130.6" y="685" height="1" fill="#ed292d"/><rect x="301" width="130.6" y="686" height="1" fill="#ed272b"/><rect x="301" width="130.6" y="687" height="1" fill="#ed2529"/><rect x="301" width="130.6" y="688" height="1" fill="#ed2428"/><rect x="301" width="130.6" y="689" height="1" fill="#ed262a"/><rect x="301" width="130.6" y="690" height="1" fill="#ed272b"/><rect x="301" width="130.6" y="691" height="1" fill="#ed2a2e"/><rect x="301" width="130.6" y="692" height="1" fill="#ed292d"/><rect x="301" width="130.6" y="693" height="1" fill="#ed262a"/><rect x="301" width="130.6" y="694" height="2" fill="#ed2428"/><rect x="301" width="130.6" y="696" height="1" fill="#ed2529"/><rect x="301" width="130.6" y="697" height="1" fill="#ed2226"/><rect x="301" width="130.6" y="698" height="1" fill="#ed2327"/><rect x="301" width="130.6" y="699" height="3" fill="#ed2125"/><rect x="301" width="130.6" y="702" height="1" fill="#ed2024"/><rect x="301" width="130.6" y="703" height="1" fill="#ed2125"/><rect x="301" width="130.6" y="704" height="1" fill="#ed2327"/><rect x="301" width="130.6" y="705" height="1" fill="#ed2529"/><rect x="301" width="130.6" y="706" height="1" fill="#ed262a"/><rect x="301" width="130.6" y="707" height="1" fill="#ed2226"/><rect x="301" width="130.6" y="708" height="6" fill="#ed2024"/><rect x="301" width="130.6" y="714" height="1" fill="#ed2226"/><rect x="301" width="130.6" y="715" height="2" fill="#ed2327"/><rect x="301" width="130.6" y="717" height="1" fill="#ed2024"/><rect x="301" width="130.6" y="718" height="1" fill="#ed2125"/><rect x="301" width="130.6" y="719" height="1" fill="#ed2327"/><rect x="301" width="130.6" y="720" height="1" fill="#ed2428"/><rect x="301" width="130.6" y="721" height="1" fill="#ed2529"/><rect x="301" width="130.6" y="722" height="1" fill="#ed272b"/><rect x="301" width="130.6" y="723" height="1" fill="#ed2327"/><rect x="301" width="130.6" y="724" height="2" fill="#ed2428"/><rect x="301" width="130.6" y="726" height="3" fill="#ed2024"/><rect x="301" width="130.6" y="729" height="2" fill="#ed2125"/><rect x="301" width="130.6" y="731" height="5" fill="#ed2024"/><rect x="301" width="130.6" y="736" height="2" fill="#ed2125"/><rect x="301" width="130.6" y="738" height="1" fill="#ed2024"/><rect x="301" width="130.6" y="739" height="3" fill="#ed2327"/><rect x="301" width="130.6" y="742" height="1" fill="#ed2428"/><rect x="301" width="130.6" y="743" height="1" fill="#ed2529"/><rect x="301" width="130.6" y="744" height="1" fill="#ed2327"/><rect x="301" width="130.6" y="745" height="3" fill="#ed2024"/><rect x="301" width="130.6" y="748" height="1" fill="#ed2428"/><rect x="301" width="130.6" y="749" height="1" fill="#ed2024"/><rect x="301" width="130.6" y="750" height="2" fill="#ed2125"/><rect x="301" width="130.6" y="752" height="2" fill="#ed2428"/><rect x="301" width="130.6" y="754" height="1" fill="#ed262a"/><rect x="301" width="130.6" y="755" height="1" fill="#ed2529"/><rect x="301" width="130.6" y="756" height="2" fill="#ed2428"/><rect x="301" width="130.6" y="758" height="1" fill="#ed2327"/><rect x="301" width="130.6" y="759" height="1" fill="#ed2529"/><rect x="301" width="130.6" y="760" height="1" fill="#ed2226"/><rect x="301" width="130.6" y="761" height="1" fill="#ed2327"/><rect x="301" width="130.6" y="762" height="3" fill="#ed272b"/><rect x="301" width="130.6" y="765" height="2" fill="#ed282c"/><rect x="301" width="130.6" y="767" height="1" fill="#ed262a"/><rect x="301" width="130.6" y="768" height="1" fill="#ed282c"/><rect x="301" width="130.6" y="769" height="1" fill="#ed272b"/><rect x="301" width="130.6" y="770" height="1" fill="#ed2327"/><rect x="301" width="130.6" y="771" height="1" fill="#ed2226"/><rect x="301" width="130.6" y="772" height="4" fill="#ed2327"/><rect x="301" width="130.6" y="776" height="2" fill="#ed2226"/><rect x="301" width="130.6" y="778" height="1" fill="#ed282c"/><rect x="301" width="130.6" y="779" height="1" fill="#ed272b"/><rect x="301" width="130.6" y="780" height="1" fill="#ed282c"/><rect x="301" width="130.6" y="781" height="1" fill="#ed2529"/><rect x="301" width="130.6" y="782" height="1" fill="#ed262a"/><rect x="301" width="130.6" y="783" height="1" fill="#ed2529"/><rect x="301" width="130.6" y="784" height="1" fill="#ed2024"/><rect x="301" width="130.6" y="785" height="1" fill="#ed2327"/><rect x="301" width="130.6" y="786" height="1" fill="#f3f3f9"/><rect x="301" width="130.6" y="787" height="1" fill="#f0f0f7"/><rect x="301" width="130.6" y="788" height="3" fill="#ededf6"/><rect x="301" width="130.6" y="791" height="1" fill="#eeeef7"/><rect x="301" width="130.6" y="792" height="2" fill="#ededf6"/><rect x="301" width="130.6" y="794" height="2" fill="#efeff7"/><rect x="301" width="130.6" y="796" height="1" fill="#f0f0f7"/><rect x="301" width="130.6" y="797" height="1" fill="#f3f3f9"/><rect x="301" width="130.6" y="798" height="1" fill="#f8f8fb"/><rect x="301" width="130.6" y="799" height="1" fill="#eae9f4"/><rect x="301" width="130.6" y="800" height="1" fill="#ebeaf5"/><rect x="301" width="130.6" y="801" height="1" fill="#eae9f4"/><rect x="301" width="130.6" y="802" height="1" fill="#e9e8f4"/><rect x="301" width="130.6" y="803" height="1" fill="#ecebf5"/><rect x="301" width="130.6" y="804" height="1" fill="#ececf6"/><rect x="301" width="130.6" y="805" height="1" fill="#f8f7fb"/><rect x="301" width="130.6" y="806" height="3" fill="#f9f9fc"/><rect x="301" width="130.6" y="809" height="1" fill="#f8f8fb"/><rect x="301" width="130.6" y="810" height="2" fill="#f5f5fa"/><rect x="301" width="130.6" y="812" height="6" fill="#ffffff"/><rect x="301" width="130.6" y="818" height="1" fill="#f4f4fa"/><rect x="301" width="130.6" y="819" height="1" fill="#f9f9fc"/><rect x="301" width="130.6" y="820" height="1" fill="#fbfafd"/><rect x="301" width="130.6" y="821" height="1" fill="#fefeff"/><rect x="301" width="130.6" y="822" height="1" fill="#fafafc"/><rect x="301" width="130.6" y="823" height="1" fill="#fbfafd"/><rect x="301" width="130.6" y="824" height="1" fill="#fbfbfd"/><rect x="301" width="130.6" y="825" height="1" fill="#fafafd"/><rect x="301" width="130.6" y="826" height="1" fill="#e3e2f1"/><rect x="301" width="130.6" y="827" height="1" fill="#e7e7f3"/><rect x="301" width="130.6" y="828" height="1" fill="#e0dfef"/><rect x="301" width="130.6" y="829" height="1" fill="#dcdbed"/><rect x="301" width="130.6" y="830" height="1" fill="#d8d7eb"/><rect x="301" width="130.6" y="831" height="2" fill="#d9d8ec"/><rect x="301" width="130.6" y="833" height="1" fill="#dddcee"/><rect x="301" width="130.6" y="834" height="1" fill="#e0dfef"/><rect x="301" width="130.6" y="835" height="1" fill="#e1e0f0"/><rect x="301" width="130.6" y="836" height="1" fill="#dedeef"/><rect x="301" width="130.6" y="837" height="1" fill="#deddee"/><rect x="301" width="130.6" y="838" height="1" fill="#e3e2f1"/><rect x="301" width="130.6" y="839" height="1" fill="#e6e5f2"/><rect x="301" width="130.6" y="840" height="1" fill="#e5e5f2"/><rect x="301" width="130.6" y="841" height="1" fill="#e3e3f1"/><rect x="301" width="130.6" y="842" height="1" fill="#e9e9f4"/><rect x="301" width="130.6" y="843" height="1" fill="#e5e4f2"/><rect x="301" width="130.6" y="844" height="1" fill="#fde9e9"/><rect x="301" width="130.6" y="845" height="1" fill="#fde7e7"/><rect x="301" width="130.6" y="846" height="1" fill="#fde8e9"/><rect x="301" width="130.6" y="847" height="1" fill="#fde7e8"/><rect x="301" width="130.6" y="848" height="1" fill="#fdeaeb"/><rect x="301" width="130.6" y="849" height="2" fill="#fde8e9"/><rect x="301" width="130.6" y="851" height="1" fill="#fdeced"/><rect x="301" width="130.6" y="852" height="1" fill="#feeeee"/><rect x="301" width="130.6" y="853" height="1" fill="#fef1f2"/><rect x="301" width="130.6" y="854" height="1" fill="#fdeded"/><rect x="301" width="130.6" y="855" height="1" fill="#fef0f0"/><rect x="301" width="130.6" y="856" height="1" fill="#fef0f1"/><rect x="301" width="130.6" y="857" height="1" fill="#feeff0"/><rect x="301" width="130.6" y="858" height="1" fill="#fef1f1"/><rect x="301" width="130.6" y="859" height="1" fill="#fef0f0"/><rect x="301" width="130.6" y="860" height="1" fill="#fef2f2"/><rect x="301" width="130.6" y="861" height="1" fill="#feefef"/><rect x="301" width="130.6" y="862" height="2" fill="#ffffff"/><rect x="301" width="130.6" y="864" height="1" fill="#fafafc"/><rect x="301" width="130.6" y="865" height="1" fill="#fefefe"/><rect x="301" width="130.6" y="866" height="1" fill="#fefeff"/><rect x="301" width="130.6" y="867" height="1" fill="#fbfbfd"/><rect x="301" width="130.6" y="868" height="1" fill="#fcfcfe"/><rect x="301" width="130.6" y="869" height="1" fill="#fefefe"/><rect x="301" width="130.6" y="870" height="1" fill="#e2e1f0"/><rect x="301" width="130.6" y="871" height="1" fill="#dcdbee"/><rect x="301" width="130.6" y="872" height="1" fill="#e3e2f1"/><rect x="301" width="130.6" y="873" height="1" fill="#e1e0f0"/><rect x="301" width="130.6" y="874" height="1" fill="#e9e9f4"/><rect x="301" width="130.6" y="875" height="1" fill="#e5e5f2"/><rect x="301" width="130.6" y="876" height="1" fill="#e6e5f2"/><rect x="301" width="130.6" y="877" height="1" fill="#e2e1f1"/><rect x="301" width="130.6" y="878" height="1" fill="#dcdbee"/><rect x="301" width="130.6" y="879" height="1" fill="#e1e0f0"/><rect x="301" width="130.6" y="880" height="1" fill="#e4e3f1"/><rect x="301" width="130.6" y="881" height="1" fill="#c2c1e1"/><rect x="301" width="130.6" y="882" height="1" fill="#c4c3e2"/><rect x="301" width="130.6" y="883" height="1" fill="#c0bfe0"/><rect x="301" width="130.6" y="884" height="1" fill="#b8b7dc"/><rect x="301" width="130.6" y="885" height="1" fill="#b7b6db"/><rect x="301" width="130.6" y="886" height="1" fill="#b6b5db"/><rect x="301" width="130.6" y="887" height="1" fill="#b4b3da"/><rect x="301" width="130.6" y="888" height="1" fill="#b9b8dc"/><rect x="301" width="130.6" y="889" height="1" fill="#bbbadd"/><rect x="301" width="130.6" y="890" height="1" fill="#bab9dd"/><rect x="301" width="130.6" y="891" height="1" fill="#bcbbde"/><rect x="301" width="130.6" y="892" height="1" fill="#cccbe6"/><rect x="301" width="130.6" y="893" height="1" fill="#cdcce6"/><rect x="301" width="130.6" y="894" height="1" fill="#cfcee7"/><rect x="301" width="130.6" y="895" height="1" fill="#d1d0e8"/><rect x="301" width="130.6" y="896" height="1" fill="#cecde7"/><rect x="301" width="130.6" y="897" height="1" fill="#c9c8e4"/><rect x="301" width="130.6" y="898" height="1" fill="#cecde7"/><rect x="301" width="130.6" y="899" height="1" fill="#bbbadd"/><rect x="301" width="130.6" y="900" height="1" fill="#bebddf"/><rect x="301" width="130.6" y="901" height="2" fill="#b8b7dc"/><rect x="301" width="130.6" y="903" height="1" fill="#b9b8dc"/><rect x="301" width="130.6" y="904" height="2" fill="#b5b4db"/><rect x="301" width="130.6" y="906" height="1" fill="#b9b8dc"/><rect x="301" width="130.6" y="907" height="1" fill="#bdbcde"/><rect x="301" width="130.6" y="908" height="1" fill="#c1c0e0"/><rect x="301" width="130.6" y="909" height="1" fill="#bdbcde"/><rect x="301" width="130.6" y="910" height="1" fill="#b8b7dc"/><rect x="301" width="130.6" y="911" height="1" fill="#c9c8e4"/><rect x="301" width="130.6" y="912" height="1" fill="#cccbe5"/><rect x="301" width="130.6" y="913" height="1" fill="#cbcae5"/><rect x="301" width="130.6" y="914" height="1" fill="#c6c5e3"/><rect x="301" width="130.6" y="915" height="1" fill="#c9c8e4"/><rect x="301" width="130.6" y="916" height="1" fill="#cbcae5"/><rect x="301" width="130.6" y="917" height="1" fill="#cccbe6"/><rect x="301" width="130.6" y="918" height="1" fill="#c9c8e4"/><rect x="301" width="130.6" y="919" height="1" fill="#bab9dd"/><rect x="301" width="130.6" y="920" height="1" fill="#bcbbde"/><rect x="301" width="130.6" y="921" height="1" fill="#bab9dd"/><rect x="301" width="130.6" y="922" height="1" fill="#b4b3da"/><rect x="301" width="130.6" y="923" height="1" fill="#b6b5db"/><rect x="301" width="130.6" y="924" height="2" fill="#b9b8dc"/><rect x="301" width="130.6" y="926" height="1" fill="#bbbade"/><rect x="301" width="130.6" y="927" height="1" fill="#d2d1e9"/><rect x="301" width="130.6" y="928" height="1" fill="#d3d2e9"/><rect x="301" width="130.6" y="929" height="1" fill="#d2d1e8"/><rect x="301" width="130.6" y="930" height="1" fill="#d5d4ea"/><rect x="301" width="130.6" y="931" height="1" fill="#dddcee"/><rect x="301" width="130.6" y="932" height="1" fill="#dad9ec"/><rect x="301" width="130.6" y="933" height="1" fill="#e3e2f1"/><rect x="301" width="130.6" y="934" height="2" fill="#e5e4f2"/><rect x="301" width="130.6" y="936" height="1" fill="#e4e3f1"/><rect x="301" width="130.6" y="937" height="1" fill="#e5e4f2"/><rect x="301" width="130.6" y="938" height="1" fill="#e2e1f1"/><rect x="301" width="130.6" y="939" height="1" fill="#deddee"/><rect x="301" width="130.6" y="940" height="1" fill="#d6d5eb"/><rect x="301" width="130.6" y="941" height="1" fill="#d8d7ec"/><rect x="301" width="130.6" y="942" height="1" fill="#deddee"/><rect x="301" width="130.6" y="943" height="1" fill="#deddef"/><rect x="301" width="130.6" y="944" height="1" fill="#aeadd7"/><rect x="301" width="130.6" y="945" height="1" fill="#adacd6"/><rect x="301" width="130.6" y="946" height="1" fill="#adacd7"/><rect x="301" width="130.6" y="947" height="1" fill="#a6a5d3"/><rect x="301" width="130.6" y="948" height="1" fill="#adacd6"/><rect x="301" width="130.6" y="949" height="1" fill="#aaaad5"/><rect x="301" width="130.6" y="950" height="1" fill="#a5a5d3"/><rect x="301" width="130.6" y="951" height="1" fill="#a3a3d2"/><rect x="301" width="130.6" y="952" height="1" fill="#a2a1d1"/><rect x="301" width="130.6" y="953" height="1" fill="#a9a8d5"/><rect x="301" width="130.6" y="954" height="1" fill="#afaed7"/><rect x="301" width="130.6" y="955" height="1" fill="#a7a7d4"/><rect x="301" width="130.6" y="956" height="1" fill="#adacd7"/><rect x="301" width="130.6" y="957" height="1" fill="#b1b0d9"/><rect x="301" width="130.6" y="958" height="1" fill="#adacd6"/><rect x="301" width="130.6" y="959" height="1" fill="#a5a5d3"/><rect x="301" width="130.6" y="960" height="1" fill="#a3a3d2"/><rect x="301" width="130.6" y="961" height="1" fill="#a2a2d2"/><rect x="301" width="130.6" y="962" height="1" fill="#a7a6d4"/><rect x="301" width="130.6" y="963" height="1" fill="#a6a6d3"/><rect x="301" width="130.6" y="964" height="1" fill="#9e9ecf"/><rect x="301" width="130.6" y="965" height="1" fill="#a3a3d2"/><rect x="301" width="130.6" y="966" height="1" fill="#9e9ecf"/><rect x="301" width="130.6" y="967" height="1" fill="#a6a6d3"/><rect x="301" width="130.6" y="968" height="1" fill="#a2a2d1"/><rect x="301" width="130.6" y="969" height="1" fill="#a1a1d1"/><rect x="301" width="130.6" y="970" height="1" fill="#a0a0d0"/><rect x="301" width="130.6" y="971" height="1" fill="#a0a0d1"/><rect x="301" width="130.6" y="972" height="1" fill="#aaa9d5"/><rect x="301" width="130.6" y="973" height="1" fill="#afaed7"/><rect x="301" width="130.6" y="974" height="1" fill="#b1b0d8"/><rect x="301" width="130.6" y="975" height="1" fill="#b1b0d9"/><rect x="301" width="130.6" y="976" height="1" fill="#a8a7d4"/><rect x="301" width="130.6" y="977" height="1" fill="#a6a6d3"/><rect x="301" width="130.6" y="978" height="1" fill="#a5a5d3"/><rect x="301" width="130.6" y="979" height="1" fill="#a2a2d1"/><rect x="301" width="130.6" y="980" height="1" fill="#b3b2da"/><rect x="301" width="130.6" y="981" height="1" fill="#afaed8"/><rect x="301" width="130.6" y="982" height="1" fill="#acabd6"/><rect x="301" width="130.6" y="983" height="1" fill="#a8a8d4"/><rect x="301" width="130.6" y="984" height="1" fill="#a1a1d1"/><rect x="301" width="130.6" y="985" height="1" fill="#a8a7d4"/><rect x="301" width="130.6" y="986" height="1" fill="#b1b0d8"/><rect x="301" width="130.6" y="987" height="1" fill="#b2b1d9"/><rect x="301" width="130.6" y="988" height="1" fill="#adacd6"/><rect x="301" width="130.6" y="989" height="1" fill="#a1a1d1"/><rect x="301" width="130.6" y="990" height="1" fill="#a6a5d3"/><rect x="301" width="130.6" y="991" height="1" fill="#afaed8"/><rect x="301" width="130.6" y="992" height="1" fill="#b1b0d8"/><rect x="301" width="130.6" y="993" height="1" fill="#b6b5db"/><rect x="301" width="130.6" y="994" height="1" fill="#bbbade"/><rect x="301" width="130.6" y="995" height="1" fill="#8f91c8"/><rect x="301" width="130.6" y="996" height="1" fill="#8a8cc6"/><rect x="301" width="130.6" y="997" height="1" fill="#9092c9"/><rect x="301" width="130.6" y="998" height="1" fill="#9294ca"/><rect x="301" width="130.6" y="999" height="1" fill="#8689c4"/><rect x="301" width="130.6" y="1000" height="1" fill="#8487c3"/><rect x="301" width="130.6" y="1001" height="1" fill="#7d80c0"/><rect x="301" width="130.6" y="1002" height="1" fill="#7f82c1"/><rect x="301" width="130.6" y="1003" height="1" fill="#8588c4"/><rect x="301" width="130.6" y="1004" height="1" fill="#8083c1"/><rect x="301" width="130.6" y="1005" height="1" fill="#777bbd"/><rect x="301" width="130.6" y="1006" height="1" fill="#8285c3"/><rect x="301" width="130.6" y="1007" height="1" fill="#8689c4"/><rect x="301" width="130.6" y="1008" height="1" fill="#9091c9"/><rect x="301" width="130.6" y="1009" height="1" fill="#8588c4"/><rect x="301" width="130.6" y="1010" height="1" fill="#8d8fc7"/><rect x="301" width="130.6" y="1011" height="1" fill="#9899cd"/><rect x="301" width="130.6" y="1012" height="1" fill="#9b9cce"/><rect x="301" width="130.6" y="1013" height="1" fill="#9899cd"/><rect x="301" width="130.6" y="1014" height="1" fill="#9596cb"/><rect x="301" width="130.6" y="1015" height="1" fill="#9092c9"/><rect x="301" width="130.6" y="1016" height="1" fill="#9495cb"/><rect x="301" width="130.6" y="1017" height="1" fill="#9798cc"/><rect x="301" width="130.6" y="1018" height="1" fill="#9395cb"/><rect x="301" width="130.6" y="1019" height="1" fill="#888ac5"/><rect x="301" width="130.6" y="1020" height="1" fill="#8c8ec7"/><rect x="301" width="130.6" y="1021" height="1" fill="#888bc5"/><rect x="301" width="130.6" y="1022" height="2" fill="#8c8ec7"/><rect x="301" width="130.6" y="1024" height="1" fill="#9596cb"/><rect x="301" width="130.6" y="1025" height="1" fill="#9899cd"/><rect x="301" width="130.6" y="1026" height="1" fill="#9193c9"/><rect x="301" width="130.6" y="1027" height="1" fill="#9192c9"/><rect x="301" width="130.6" y="1028" height="1" fill="#999acd"/><rect x="301" width="130.6" y="1029" height="1" fill="#9192c9"/><rect x="301" width="130.6" y="1030" height="1" fill="#9193c9"/><rect x="301" width="130.6" y="1031" height="1" fill="#9697cc"/><rect x="301" width="130.6" y="1032" height="1" fill="#9a9acd"/><rect x="301" width="130.6" y="1033" height="1" fill="#9899cd"/><rect x="301" width="130.6" y="1034" height="1" fill="#8b8dc7"/><rect x="301" width="130.6" y="1035" height="1" fill="#8385c3"/><rect x="301" width="130.6" y="1036" height="1" fill="#8688c4"/><rect x="301" width="130.6" y="1037" height="1" fill="#898bc6"/><rect x="301" width="130.6" y="1038" height="1" fill="#9899cd"/><rect x="301" width="130.6" y="1039" height="1" fill="#8e90c8"/><rect x="301" width="130.6" y="1040" height="1" fill="#9395cb"/><rect x="301" width="130.6" y="1041" height="1" fill="#9596cb"/><rect x="301" width="130.6" y="1042" height="1" fill="#8789c5"/><rect x="301" width="130.6" y="1043" height="1" fill="#8285c3"/><rect x="301" width="130.6" y="1044" height="1" fill="#8587c4"/><rect x="301" width="130.6" y="1045" height="2" fill="#8386c3"/><rect x="301" width="130.6" y="1047" height="1" fill="#9899cd"/><rect x="301" width="130.6" y="1048" height="1" fill="#9395ca"/><rect x="301" width="130.6" y="1049" height="1" fill="#9697cc"/><rect x="301" width="130.6" y="1050" height="1" fill="#9394ca"/><rect x="301" width="130.6" y="1051" height="1" fill="#9192c9"/><rect x="301" width="130.6" y="1052" height="1" fill="#9596cb"/><rect x="301" width="130.6" y="1053" height="1" fill="#9294ca"/><rect x="301" width="130.6" y="1054" height="1" fill="#9596cb"/><rect x="301" width="130.6" y="1055" height="1" fill="#9d9dcf"/><rect x="301" width="130.6" y="1056" height="1" fill="#9b9cce"/><rect x="301" width="130.6" y="1057" height="1" fill="#999acd"/><rect x="301" width="130.6" y="1058" height="1" fill="#f5989b"/><rect x="301" width="130.6" y="1059" height="1" fill="#f59a9e"/><rect x="301" width="130.6" y="1060" height="1" fill="#f59699"/><rect x="301" width="130.6" y="1061" height="1" fill="#f59da0"/><rect x="301" width="130.6" y="1062" height="1" fill="#f59a9d"/><rect x="301" width="130.6" y="1063" height="1" fill="#f59c9f"/><rect x="301" width="130.6" y="1064" height="1" fill="#f69fa2"/><rect x="301" width="130.6" y="1065" height="1" fill="#f5979a"/><rect x="301" width="130.6" y="1066" height="1" fill="#f59b9f"/><rect x="301" width="130.6" y="1067" height="1" fill="#f59497"/><rect x="301" width="130.6" y="1068" height="1" fill="#f49396"/><rect x="301" width="130.6" y="1069" height="1" fill="#f48f92"/><rect x="301" width="130.6" y="1070" height="1" fill="#f9c0c2"/><rect x="301" width="130.6" y="1071" height="1" fill="#f8b8ba"/><rect x="301" width="130.6" y="1072" height="1" fill="#f8b1b4"/><rect x="301" width="130.6" y="1073" height="1" fill="#f8b5b7"/><rect x="301" width="130.6" y="1074" height="1" fill="#f8b7b9"/><rect x="301" width="130.6" y="1075" height="1" fill="#f7abae"/><rect x="301" width="130.6" y="1076" height="1" fill="#f7afb1"/><rect x="301" width="130.6" y="1077" height="1" fill="#f8b4b7"/><rect x="301" width="130.6" y="1078" height="1" fill="#f8b9bb"/><rect x="301" width="130.6" y="1079" height="1" fill="#f8b8ba"/><rect x="301" width="130.6" y="1080" height="2" fill="#f8b7b9"/><rect x="301" width="130.6" y="1082" height="1" fill="#fbd4d5"/><rect x="301" width="130.6" y="1083" height="1" fill="#fcd7d8"/><rect x="301" width="130.6" y="1084" height="1" fill="#fcd6d7"/><rect x="301" width="130.6" y="1085" height="1" fill="#fbd1d2"/><rect x="301" width="130.6" y="1086" height="1" fill="#fcd8d9"/><rect x="301" width="130.6" y="1087" height="1" fill="#fbd5d5"/><rect x="301" width="130.6" y="1088" height="1" fill="#fbcecf"/><rect x="301" width="130.6" y="1089" height="1" fill="#fcd8d9"/><rect x="301" width="130.6" y="1090" height="1" fill="#fcdedf"/><rect x="301" width="130.6" y="1091" height="1" fill="#fde2e2"/><rect x="301" width="130.6" y="1092" height="1" fill="#f6a1a4"/><rect x="301" width="130.6" y="1093" height="1" fill="#f59c9f"/><rect x="301" width="130.6" y="1094" height="1" fill="#f6a5a8"/><rect x="301" width="130.6" y="1095" height="1" fill="#f59ea1"/><rect x="301" width="130.6" y="1096" height="1" fill="#f59598"/><rect x="301" width="130.6" y="1097" height="2" fill="#f59ea1"/><rect x="301" width="130.6" y="1099" height="1" fill="#f6a6a9"/><rect x="301" width="130.6" y="1100" height="1" fill="#f59ea1"/><rect x="301" width="130.6" y="1101" height="1" fill="#f6a0a3"/><rect x="301" width="130.6" y="1102" height="1" fill="#f69fa2"/><rect x="301" width="130.6" y="1103" height="1" fill="#f59da0"/><rect x="301" width="130.6" y="1104" height="1" fill="#f5989c"/><rect x="301" width="130.6" y="1105" height="1" fill="#f8b6b8"/><rect x="301" width="130.6" y="1106" height="1" fill="#f8b5b7"/><rect x="301" width="130.6" y="1107" height="1" fill="#f8b8ba"/><rect x="301" width="130.6" y="1108" height="1" fill="#f8b6b8"/><rect x="301" width="130.6" y="1109" height="1" fill="#f9bbbd"/><rect x="301" width="130.6" y="1110" height="1" fill="#f8b9bb"/><rect x="301" width="130.6" y="1111" height="1" fill="#f9c2c3"/><rect x="301" width="130.6" y="1112" height="1" fill="#f9c0c2"/><rect x="301" width="130.6" y="1113" height="2" fill="#f8b3b5"/><rect x="301" width="130.6" y="1115" height="1" fill="#f8babc"/><rect x="301" width="130.6" y="1116" height="1" fill="#f8b7b9"/><rect x="301" width="130.6" y="1117" height="1" fill="#f9bbbd"/><rect x="301" width="130.6" y="1118" height="1" fill="#f9c2c3"/><rect x="301" width="130.6" y="1119" height="1" fill="#fbd3d4"/><rect x="301" width="130.6" y="1120" height="1" fill="#fbcfd0"/><rect x="301" width="130.6" y="1121" height="1" fill="#fbcecf"/><rect x="301" width="130.6" y="1122" height="1" fill="#fbcfd0"/><rect x="301" width="130.6" y="1123" height="1" fill="#fbd3d4"/><rect x="301" width="130.6" y="1124" height="1" fill="#fcd7d8"/><rect x="301" width="130.6" y="1125" height="1" fill="#fbcfd0"/><rect x="301" width="130.6" y="1126" height="1" fill="#fbcecf"/><rect x="301" width="130.6" y="1127" height="1" fill="#fbd3d4"/><rect x="301" width="130.6" y="1128" height="1" fill="#fcdcdc"/><rect x="301" width="130.6" y="1129" height="1" fill="#fcdedf"/><rect x="301" width="130.6" y="1130" height="1" fill="#fbcfd0"/><rect x="301" width="130.6" y="1131" height="1" fill="#fbd5d6"/><rect x="301" width="130.6" y="1132" height="1" fill="#fbd4d5"/><rect x="301" width="130.6" y="1133" height="1" fill="#fbd2d3"/><rect x="301" width="130.6" y="1134" height="1" fill="#fde4e4"/><rect x="301" width="130.6" y="1135" height="1" fill="#fde5e5"/><rect x="301" width="130.6" y="1136" height="1" fill="#fdeaeb"/><rect x="301" width="130.6" y="1137" height="1" fill="#fdeded"/><rect x="301" width="130.6" y="1138" height="1" fill="#fde2e3"/><rect x="301" width="130.6" y="1139" height="1" fill="#fde6e6"/><rect x="301" width="130.6" y="1140" height="1" fill="#fce1e2"/><rect x="301" width="130.6" y="1141" height="1" fill="#fde9ea"/><rect x="301" width="130.6" y="1142" height="1" fill="#fde9e9"/><rect x="301" width="130.6" y="1143" height="1" fill="#fde6e6"/><rect x="301" width="130.6" y="1144" height="1" fill="#fce0e1"/><rect x="301" width="130.6" y="1145" height="1" fill="#fde6e7"/><rect x="301" width="130.6" y="1146" height="1" fill="#fde2e3"/><rect x="301" width="130.6" y="1147" height="1" fill="#fce1e1"/><rect x="301" width="130.6" y="1148" height="1" fill="#fde5e5"/><rect x="301" width="130.6" y="1149" height="1" fill="#fde2e3"/><rect x="301" width="130.6" y="1150" height="1" fill="#fde6e7"/><rect x="301" width="130.6" y="1151" height="1" fill="#fde9e9"/><rect x="301" width="130.6" y="1152" height="1" fill="#f8b4b6"/><rect x="301" width="130.6" y="1153" height="1" fill="#f9bcbe"/><rect x="301" width="130.6" y="1154" height="1" fill="#f9babc"/><rect x="301" width="130.6" y="1155" height="1" fill="#f9bcbe"/><rect x="301" width="130.6" y="1156" height="1" fill="#f9bec0"/><rect x="301" width="130.6" y="1157" height="1" fill="#f9bdbe"/><rect x="301" width="130.6" y="1158" height="1" fill="#f8b8ba"/><rect x="301" width="130.6" y="1159" height="1" fill="#fbcecf"/><rect x="301" width="130.6" y="1160" height="1" fill="#fac8ca"/><rect x="301" width="130.6" y="1161" height="1" fill="#fbcecf"/><rect x="301" width="130.6" y="1162" height="1" fill="#fbd4d5"/><rect x="301" width="130.6" y="1163" height="1" fill="#facbcc"/><rect x="301" width="130.6" y="1164" height="1" fill="#facacb"/><rect x="301" width="130.6" y="1165" height="1" fill="#fac7c8"/><rect x="301" width="130.6" y="1166" height="1" fill="#fbcccd"/><rect x="301" width="130.6" y="1167" height="2" fill="#fac9ca"/><rect x="301" width="130.6" y="1169" height="1" fill="#fac7c8"/><rect x="301" width="130.6" y="1170" height="1" fill="#fcddde"/><rect x="301" width="130.6" y="1171" height="1" fill="#fcd8d9"/><rect x="301" width="130.6" y="1172" height="1" fill="#fcdcdd"/><rect x="301" width="130.6" y="1173" height="1" fill="#fce1e1"/><rect x="301" width="130.6" y="1174" height="1" fill="#fde6e7"/><rect x="301" width="130.6" y="1175" height="1" fill="#fcdfdf"/><rect x="301" width="130.6" y="1176" height="1" fill="#fce1e2"/><rect x="301" width="130.6" y="1177" height="1" fill="#fde5e5"/><rect x="301" width="130.6" y="1178" height="1" fill="#fde7e7"/><rect x="301" width="130.6" y="1179" height="1" fill="#fde6e7"/><rect x="301" width="130.6" y="1180" height="1" fill="#fde9ea"/><rect x="301" width="130.6" y="1181" height="2" fill="#fde7e8"/><rect x="301" width="130.6" y="1183" height="1" fill="#fde7e7"/><rect x="301" width="130.6" y="1184" height="1" fill="#fde8e9"/><rect x="301" width="130.6" y="1185" height="2" fill="#fde5e6"/>
<rect x="431" width="130.6" y="404.4" height="0.6" fill="#6166b1"/><rect x="431" width="130.6" y="405" height="1" fill="#6267b1"/><rect x="431" width="130.6" y="406" height="1" fill="#6367b1"/><rect x="431" width="130.6" y="407" height="2" fill="#5b62ae"/><rect x="431" width="130.6" y="409" height="1" fill="#5a61ae"/><rect x="431" width="130.6" y="410" height="1" fill="#5e63af"/><rect x="431" width="130.6" y="411" height="2" fill="#5a61ae"/><rect x="431" width="130.6" y="413" height="1" fill="#5b61ae"/><rect x="431" width="130.6" y="414" height="1" fill="#5b62ae"/><rect x="431" width="130.6" y="415" height="1" fill="#6065b0"/><rect x="431" width="130.6" y="416" height="1" fill="#5f64af"/><rect x="431" width="130.6" y="417" height="1" fill="#6267b1"/><rect x="431" width="130.6" y="418" height="1" fill="#696db5"/><rect x="431" width="130.6" y="419" height="1" fill="#6267b1"/><rect x="431" width="130.6" y="420" height="1" fill="#6b70b6"/><rect x="431" width="130.6" y="421" height="1" fill="#6e73b8"/><rect x="431" width="130.6" y="422" height="2" fill="#7175b9"/><rect x="431" width="130.6" y="424" height="1" fill="#7376ba"/><rect x="431" width="130.6" y="425" height="1" fill="#6c70b7"/><rect x="431" width="130.6" y="426" height="1" fill="#7175b9"/><rect x="431" width="130.6" y="427" height="1" fill="#6e72b8"/><rect x="431" width="130.6" y="428" height="1" fill="#7377ba"/><rect x="431" width="130.6" y="429" height="1" fill="#7276ba"/><rect x="431" width="130.6" y="430" height="1" fill="#696db5"/><rect x="431" width="130.6" y="431" height="1" fill="#6569b3"/><rect x="431" width="130.6" y="432" height="2" fill="#6d71b7"/><rect x="431" width="130.6" y="434" height="1" fill="#6c70b6"/><rect x="431" width="130.6" y="435" height="1" fill="#6e72b8"/><rect x="431" width="130.6" y="436" height="1" fill="#6c70b7"/><rect x="431" width="130.6" y="437" height="1" fill="#6b6fb6"/><rect x="431" width="130.6" y="438" height="1" fill="#6c71b7"/><rect x="431" width="130.6" y="439" height="1" fill="#6e72b8"/><rect x="431" width="130.6" y="440" height="1" fill="#7579bb"/><rect x="431" width="130.6" y="441" height="1" fill="#7477bb"/><rect x="431" width="130.6" y="442" height="1" fill="#6368b2"/><rect x="431" width="130.6" y="443" height="3" fill="#676cb4"/><rect x="431" width="130.6" y="446" height="1" fill="#676bb4"/><rect x="431" width="130.6" y="447" height="1" fill="#6569b3"/><rect x="431" width="130.6" y="448" height="1" fill="#6267b1"/><rect x="431" width="130.6" y="449" height="2" fill="#5e63af"/><rect x="431" width="130.6" y="451" height="1" fill="#5c62ae"/><rect x="431" width="130.6" y="452" height="1" fill="#6166b1"/><rect x="431" width="130.6" y="453" height="1" fill="#6267b1"/><rect x="431" width="130.6" y="454" height="1" fill="#5f64b0"/><rect x="431" width="130.6" y="455" height="1" fill="#5961ad"/><rect x="431" width="130.6" y="456" height="1" fill="#5a61ae"/><rect x="431" width="130.6" y="457" height="1" fill="#5961ae"/><rect x="431" width="130.6" y="458" height="1" fill="#5760ad"/><rect x="431" width="130.6" y="459" height="1" fill="#555fac"/><rect x="431" width="130.6" y="460" height="1" fill="#535eac"/><rect x="431" width="130.6" y="461" height="1" fill="#565fac"/><rect x="431" width="130.6" y="462" height="1" fill="#5860ad"/><rect x="431" width="130.6" y="463" height="1" fill="#6166b1"/><rect x="431" width="130.6" y="464" height="1" fill="#6065b0"/><rect x="431" width="130.6" y="465" height="1" fill="#5f64b0"/><rect x="431" width="130.6" y="466" height="1" fill="#6368b2"/><rect x="431" width="130.6" y="467" height="1" fill="#6267b1"/><rect x="431" width="130.6" y="468" height="1" fill="#6166b1"/><rect x="431" width="130.6" y="469" height="1" fill="#5f64af"/><rect x="431" width="130.6" y="470" height="1" fill="#5d62af"/><rect x="431" width="130.6" y="471" height="1" fill="#6266b1"/><rect x="431" width="130.6" y="472" height="1" fill="#6468b2"/><rect x="431" width="130.6" y="473" height="1" fill="#676cb4"/><rect x="431" width="130.6" y="474" height="1" fill="#6368b2"/><rect x="431" width="130.6" y="475" height="1" fill="#6267b1"/><rect x="431" width="130.6" y="476" height="1" fill="#5e63af"/><rect x="431" width="130.6" y="477" height="1" fill="#6166b0"/><rect x="431" width="130.6" y="478" height="1" fill="#5b62ae"/><rect x="431" width="130.6" y="479" height="1" fill="#5e63af"/><rect x="431" width="130.6" y="480" height="1" fill="#6166b1"/><rect x="431" width="130.6" y="481" height="1" fill="#7074b9"/><rect x="431" width="130.6" y="482" height="1" fill="#6c70b7"/><rect x="431" width="130.6" y="483" height="1" fill="#7074b9"/><rect x="431" width="130.6" y="484" height="1" fill="#6c70b7"/><rect x="431" width="130.6" y="485" height="1" fill="#6a6eb5"/><rect x="431" width="130.6" y="486" height="1" fill="#666bb3"/><rect x="431" width="130.6" y="487" height="1" fill="#6b70b6"/><rect x="431" width="130.6" y="488" height="1" fill="#7175b9"/><rect x="431" width="130.6" y="489" height="1" fill="#6e72b7"/><rect x="431" width="130.6" y="490" height="1" fill="#6b6fb6"/><rect x="431" width="130.6" y="491" height="1" fill="#6a6eb5"/><rect x="431" width="130.6" y="492" height="1" fill="#7276ba"/><rect x="431" width="130.6" y="493" height="1" fill="#7478bb"/><rect x="431" width="130.6" y="494" height="1" fill="#7074b9"/><rect x="431" width="130.6" y="495" height="2" fill="#5c62ae"/><rect x="431" width="130.6" y="497" height="1" fill="#6166b1"/><rect x="431" width="130.6" y="498" height="1" fill="#676cb4"/><rect x="431" width="130.6" y="499" height="1" fill="#6569b3"/><rect x="431" width="130.6" y="500" height="1" fill="#6267b1"/><rect x="431" width="130.6" y="501" height="1" fill="#6065b0"/><rect x="431" width="130.6" y="502" height="1" fill="#5b61ae"/><rect x="431" width="130.6" y="503" height="1" fill="#6064b0"/><rect x="431" width="130.6" y="504" height="1" fill="#5d62af"/><rect x="431" width="130.6" y="505" height="1" fill="#6266b1"/><rect x="431" width="130.6" y="506" height="1" fill="#5c62ae"/><rect x="431" width="130.6" y="507" height="1" fill="#5a61ae"/><rect x="431" width="130.6" y="508" height="1" fill="#5d62af"/><rect x="431" width="130.6" y="509" height="1" fill="#5c62ae"/><rect x="431" width="130.6" y="510" height="1" fill="#6065b0"/><rect x="431" width="130.6" y="511" height="1" fill="#6165b0"/><rect x="431" width="130.6" y="512" height="1" fill="#5d63af"/><rect x="431" width="130.6" y="513" height="1" fill="#6065b0"/><rect x="431" width="130.6" y="514" height="1" fill="#6368b2"/><rect x="431" width="130.6" y="515" height="1" fill="#5d63af"/><rect x="431" width="130.6" y="516" height="1" fill="#6469b2"/><rect x="431" width="130.6" y="517" height="1" fill="#656ab3"/><rect x="431" width="130.6" y="518" height="1" fill="#676bb4"/><rect x="431" width="130.6" y="519" height="1" fill="#5f64b0"/><rect x="431" width="130.6" y="520" height="2" fill="#5e63af"/><rect x="431" width="130.6" y="522" height="1" fill="#6267b1"/><rect x="431" width="130.6" y="523" height="1" fill="#5e63af"/><rect x="431" width="130.6" y="524" height="1" fill="#5c62ae"/><rect x="431" width="130.6" y="525" height="1" fill="#5860ad"/><rect x="431" width="130.6" y="526" height="1" fill="#5961ae"/><rect x="431" width="130.6" y="527" height="1" fill="#5d62af"/><rect x="431" width="130.6" y="528" height="2" fill="#525eab"/><rect x="431" width="130.6" y="530" height="1" fill="#545eac"/><rect x="431" width="130.6" y="531" height="1" fill="#5760ad"/><rect x="431" width="130.6" y="532" height="1" fill="#5860ad"/><rect x="431" width="130.6" y="533" height="1" fill="#5760ad"/><rect x="431" width="130.6" y="534" height="1" fill="#545fac"/><rect x="431" width="130.6" y="535" height="1" fill="#535eab"/><rect x="431" width="130.6" y="536" height="1" fill="#6468b2"/><rect x="431" width="130.6" y="537" height="2" fill="#656ab3"/><rect x="431" width="130.6" y="539" height="1" fill="#6c70b7"/><rect x="431" width="130.6" y="540" height="1" fill="#6b70b6"/><rect x="431" width="130.6" y="541" height="1" fill="#666ab3"/><rect x="431" width="130.6" y="542" height="1" fill="#6c70b7"/><rect x="431" width="130.6" y="543" height="1" fill="#6e72b8"/><rect x="431" width="130.6" y="544" height="1" fill="#6c70b7"/><rect x="431" width="130.6" y="545" height="1" fill="#686cb4"/><rect x="431" width="130.6" y="546" height="1" fill="#6065b0"/><rect x="431" width="130.6" y="547" height="1" fill="#5e63af"/><rect x="431" width="130.6" y="548" height="1" fill="#6468b2"/><rect x="431" width="130.6" y="549" height="1" fill="#6166b1"/><rect x="431" width="130.6" y="550" height="1" fill="#5e63af"/><rect x="431" width="130.6" y="551" height="1" fill="#6166b1"/><rect x="431" width="130.6" y="552" height="1" fill="#6368b2"/><rect x="431" width="130.6" y="553" height="1" fill="#666bb4"/><rect x="431" width="130.6" y="554" height="1" fill="#696db5"/><rect x="431" width="130.6" y="555" height="1" fill="#6e72b7"/><rect x="431" width="130.6" y="556" height="1" fill="#686db5"/><rect x="431" width="130.6" y="557" height="1" fill="#6b70b6"/><rect x="431" width="130.6" y="558" height="1" fill="#666bb3"/><rect x="431" width="130.6" y="559" height="3" fill="#696db5"/><rect x="431" width="130.6" y="562" height="1" fill="#6c70b7"/><rect x="431" width="130.6" y="563" height="1" fill="#7d80c0"/><rect x="431" width="130.6" y="564" height="1" fill="#8285c2"/><rect x="431" width="130.6" y="565" height="1" fill="#8587c4"/><rect x="431" width="130.6" y="566" height="1" fill="#8386c3"/><rect x="431" width="130.6" y="567" height="1" fill="#7e82c1"/><rect x="431" width="130.6" y="568" height="1" fill="#7b7ebf"/><rect x="431" width="130.6" y="569" height="2" fill="#797cbe"/><rect x="431" width="130.6" y="571" height="1" fill="#7a7dbe"/><rect x="431" width="130.6" y="572" height="1" fill="#8a8cc6"/><rect x="431" width="130.6" y="573" height="1" fill="#898bc6"/><rect x="431" width="130.6" y="574" height="1" fill="#8a8cc6"/><rect x="431" width="130.6" y="575" height="1" fill="#8184c2"/><rect x="431" width="130.6" y="576" height="1" fill="#7d80c0"/><rect x="431" width="130.6" y="577" height="1" fill="#7b7fbf"/><rect x="431" width="130.6" y="578" height="1" fill="#7c80c0"/><rect x="431" width="130.6" y="579" height="1" fill="#787bbd"/><rect x="431" width="130.6" y="580" height="1" fill="#8083c2"/><rect x="431" width="130.6" y="581" height="1" fill="#7d80c0"/><rect x="431" width="130.6" y="582" height="1" fill="#8285c2"/><rect x="431" width="130.6" y="583" height="1" fill="#7679bc"/><rect x="431" width="130.6" y="584" height="1" fill="#787bbd"/><rect x="431" width="130.6" y="585" height="1" fill="#6367b2"/><rect x="431" width="130.6" y="586" height="1" fill="#6368b2"/><rect x="431" width="130.6" y="587" height="2" fill="#6569b3"/><rect x="431" width="130.6" y="589" height="1" fill="#6469b2"/><rect x="431" width="130.6" y="590" height="1" fill="#5e63af"/><rect x="431" width="130.6" y="591" height="1" fill="#5d62af"/><rect x="431" width="130.6" y="592" height="1" fill="#5860ad"/><rect x="431" width="130.6" y="593" height="1" fill="#5c62ae"/><rect x="431" width="130.6" y="594" height="1" fill="#5e63af"/><rect x="431" width="130.6" y="595" height="1" fill="#5f64af"/><rect x="431" width="130.6" y="596" height="1" fill="#5d63af"/><rect x="431" width="130.6" y="597" height="1" fill="#5c62af"/><rect x="431" width="130.6" y="598" height="1" fill="#6468b2"/><rect x="431" width="130.6" y="599" height="1" fill="#696db5"/><rect x="431" width="130.6" y="600" height="1" fill="#676bb4"/><rect x="431" width="130.6" y="601" height="1" fill="#696eb5"/><rect x="431" width="130.6" y="602" height="1" fill="#6267b1"/><rect x="431" width="130.6" y="603" height="2" fill="#5c62ae"/><rect x="431" width="130.6" y="605" height="2" fill="#5b62ae"/><rect x="431" width="130.6" y="607" height="1" fill="#5e63af"/><rect x="431" width="130.6" y="608" height="1" fill="#686db5"/><rect x="431" width="130.6" y="609" height="3" fill="#6469b2"/><rect x="431" width="130.6" y="612" height="1" fill="#6368b2"/><rect x="431" width="130.6" y="613" height="1" fill="#666ab3"/><rect x="431" width="130.6" y="614" height="1" fill="#6a6fb6"/><rect x="431" width="130.6" y="615" height="1" fill="#6469b2"/><rect x="431" width="130.6" y="616" height="1" fill="#6a6fb6"/><rect x="431" width="130.6" y="617" height="1" fill="#696db5"/><rect x="431" width="130.6" y="618" height="1" fill="#6b6fb6"/><rect x="431" width="130.6" y="619" height="1" fill="#6469b3"/><rect x="431" width="130.6" y="620" height="1" fill="#5f64b0"/><rect x="431" width="130.6" y="621" height="1" fill="#5e63af"/><rect x="431" width="130.6" y="622" height="1" fill="#6065b0"/><rect x="431" width="130.6" y="623" height="1" fill="#6368b2"/><rect x="431" width="130.6" y="624" height="1" fill="#656ab3"/><rect x="431" width="130.6" y="625" height="1" fill="#5e63af"/><rect x="431" width="130.6" y="626" height="2" fill="#5f64b0"/><rect x="431" width="130.6" y="628" height="2" fill="#5e63af"/><rect x="431" width="130.6" y="630" height="1" fill="#6368b2"/><rect x="431" width="130.6" y="631" height="1" fill="#676cb4"/><rect x="431" width="130.6" y="632" height="1" fill="#686cb4"/><rect x="431" width="130.6" y="633" height="1" fill="#6a6fb6"/><rect x="431" width="130.6" y="634" height="1" fill="#686cb4"/><rect x="431" width="130.6" y="635" height="2" fill="#696db5"/><rect x="431" width="130.6" y="637" height="1" fill="#6b70b6"/><rect x="431" width="130.6" y="638" height="1" fill="#6b6fb6"/><rect x="431" width="130.6" y="639" height="1" fill="#6a6eb5"/><rect x="431" width="130.6" y="640" height="1" fill="#696eb5"/><rect x="431" width="130.6" y="641" height="1" fill="#676bb4"/><rect x="431" width="130.6" y="642" height="2" fill="#7074b9"/><rect x="431" width="130.6" y="644" height="1" fill="#767abc"/><rect x="431" width="130.6" y="645" height="1" fill="#7f82c1"/><rect x="431" width="130.6" y="646" height="1" fill="#8184c2"/><rect x="431" width="130.6" y="647" height="1" fill="#787bbd"/><rect x="431" width="130.6" y="648" height="1" fill="#7a7dbe"/><rect x="431" width="130.6" y="649" height="1" fill="#7c7fbf"/><rect x="431" width="130.6" y="650" height="3" fill="#8184c2"/><rect x="431" width="130.6" y="653" height="1" fill="#7a7dbe"/><rect x="431" width="130.6" y="654" height="1" fill="#7579bb"/><rect x="431" width="130.6" y="655" height="1" fill="#767abc"/><rect x="431" width="130.6" y="656" height="1" fill="#787bbd"/><rect x="431" width="130.6" y="657" height="1" fill="#7377ba"/><rect x="431" width="130.6" y="658" height="1" fill="#7276ba"/><rect x="431" width="130.6" y="659" height="1" fill="#7175b9"/><rect x="431" width="130.6" y="660" height="1" fill="#7276ba"/><rect x="431" width="130.6" y="661" height="1" fill="#7478bb"/><rect x="431" width="130.6" y="662" height="1" fill="#7377bb"/><rect x="431" width="130.6" y="663" height="1" fill="#6f73b8"/><rect x="431" width="130.6" y="664" height="1" fill="#7579bc"/><rect x="431" width="130.6" y="665" height="1" fill="#7b7fbf"/><rect x="431" width="130.6" y="666" height="1" fill="#797dbe"/><rect x="431" width="130.6" y="667" height="4" fill="#7c7fbf"/><rect x="431" width="130.6" y="671" height="1" fill="#5c62af"/><rect x="431" width="130.6" y="672" height="1" fill="#5e63af"/><rect x="431" width="130.6" y="673" height="1" fill="#6166b1"/><rect x="431" width="130.6" y="674" height="1" fill="#5e63af"/><rect x="431" width="130.6" y="675" height="1" fill="#6368b2"/><rect x="431" width="130.6" y="676" height="4" fill="#666bb4"/><rect x="431" width="130.6" y="680" height="1" fill="#666ab3"/><rect x="431" width="130.6" y="681" height="1" fill="#6267b1"/><rect x="431" width="130.6" y="682" height="2" fill="#5f64b0"/><rect x="431" width="130.6" y="684" height="1" fill="#5f64af"/><rect x="431" width="130.6" y="685" height="1" fill="#6065b0"/><rect x="431" width="130.6" y="686" height="1" fill="#6267b1"/><rect x="431" width="130.6" y="687" height="1" fill="#6d71b7"/><rect x="431" width="130.6" y="688" height="1" fill="#7578bb"/><rect x="431" width="130.6" y="689" height="1" fill="#7175ba"/><rect x="431" width="130.6" y="690" height="1" fill="#7276ba"/><rect x="431" width="130.6" y="691" height="1" fill="#7175ba"/><rect x="431" width="130.6" y="692" height="1" fill="#7074b9"/><rect x="431" width="130.6" y="693" height="1" fill="#6e72b7"/><rect x="431" width="130.6" y="694" height="1" fill="#6c70b7"/><rect x="431" width="130.6" y="695" height="1" fill="#686db5"/><rect x="431" width="130.6" y="696" height="2" fill="#696eb5"/><rect x="431" width="130.6" y="698" height="1" fill="#6b6fb6"/><rect x="431" width="130.6" y="699" height="1" fill="#676cb4"/><rect x="431" width="130.6" y="700" height="1" fill="#686cb4"/><rect x="431" width="130.6" y="701" height="1" fill="#696db5"/><rect x="431" width="130.6" y="702" height="1" fill="#6b6fb6"/><rect x="431" width="130.6" y="703" height="1" fill="#676bb4"/><rect x="431" width="130.6" y="704" height="1" fill="#696db5"/><rect x="431" width="130.6" y="705" height="1" fill="#6d71b7"/><rect x="431" width="130.6" y="706" height="1" fill="#6e72b8"/><rect x="431" width="130.6" y="707" height="1" fill="#6c70b6"/><rect x="431" width="130.6" y="708" height="1" fill="#696eb5"/><rect x="431" width="130.6" y="709" height="1" fill="#686db5"/><rect x="431" width="130.6" y="710" height="1" fill="#6c70b6"/><rect x="431" width="130.6" y="711" height="1" fill="#7175b9"/><rect x="431" width="130.6" y="712" height="1" fill="#6e72b8"/><rect x="431" width="130.6" y="713" height="1" fill="#6b6fb6"/><rect x="431" width="130.6" y="714" height="1" fill="#6c70b6"/><rect x="431" width="130.6" y="715" height="1" fill="#6c70b7"/><rect x="431" width="130.6" y="716" height="1" fill="#686cb4"/><rect x="431" width="130.6" y="717" height="1" fill="#656ab3"/><rect x="431" width="130.6" y="718" height="1" fill="#666bb3"/><rect x="431" width="130.6" y="719" height="1" fill="#7d80c0"/><rect x="431" width="130.6" y="720" height="1" fill="#787cbd"/><rect x="431" width="130.6" y="721" height="1" fill="#7679bc"/><rect x="431" width="130.6" y="722" height="1" fill="#797cbd"/><rect x="431" width="130.6" y="723" height="1" fill="#7579bc"/><rect x="431" width="130.6" y="724" height="1" fill="#777bbd"/><rect x="431" width="130.6" y="725" height="2" fill="#797dbe"/><rect x="431" width="130.6" y="727" height="1" fill="#767abc"/><rect x="431" width="130.6" y="728" height="2" fill="#777bbd"/><rect x="431" width="130.6" y="730" height="1" fill="#666bb3"/><rect x="431" width="130.6" y="731" height="1" fill="#6368b2"/><rect x="431" width="130.6" y="732" height="1" fill="#676cb4"/><rect x="431" width="130.6" y="733" height="1" fill="#6166b1"/><rect x="431" width="130.6" y="734" height="1" fill="#6267b1"/><rect x="431" width="130.6" y="735" height="1" fill="#6368b2"/><rect x="431" width="130.6" y="736" height="1" fill="#676bb4"/><rect x="431" width="130.6" y="737" height="1" fill="#6469b2"/><rect x="431" width="130.6" y="738" height="1" fill="#666bb3"/><rect x="431" width="130.6" y="739" height="1" fill="#6469b2"/><rect x="431" width="130.6" y="740" height="1" fill="#676bb4"/><rect x="431" width="130.6" y="741" height="1" fill="#6c70b7"/><rect x="431" width="130.6" y="742" height="1" fill="#696db5"/><rect x="431" width="130.6" y="743" height="1" fill="#7d80c0"/><rect x="431" width="130.6" y="744" height="1" fill="#777bbd"/><rect x="431" width="130.6" y="745" height="1" fill="#7d80c0"/><rect x="431" width="130.6" y="746" height="1" fill="#8386c3"/><rect x="431" width="130.6" y="747" height="1" fill="#8084c2"/><rect x="431" width="130.6" y="748" height="1" fill="#797cbe"/><rect x="431" width="130.6" y="749" height="1" fill="#7b7fbf"/><rect x="431" width="130.6" y="750" height="1" fill="#8184c2"/><rect x="431" width="130.6" y="751" height="1" fill="#8688c4"/><rect x="431" width="130.6" y="752" height="1" fill="#878ac5"/><rect x="431" width="130.6" y="753" height="1" fill="#797dbe"/><rect x="431" width="130.6" y="754" height="1" fill="#767abc"/><rect x="431" width="130.6" y="755" height="1" fill="#7f82c1"/><rect x="431" width="130.6" y="756" height="1" fill="#777bbd"/><rect x="431" width="130.6" y="757" height="1" fill="#7e81c0"/><rect x="431" width="130.6" y="758" height="1" fill="#888ac5"/><rect x="431" width="130.6" y="759" height="1" fill="#888bc5"/><rect x="431" width="130.6" y="760" height="1" fill="#8b8dc7"/><rect x="431" width="130.6" y="761" height="1" fill="#8487c3"/><rect x="431" width="130.6" y="762" height="1" fill="#7b7ebf"/><rect x="431" width="130.6" y="763" height="1" fill="#7a7dbe"/><rect x="431" width="130.6" y="764" height="2" fill="#797dbe"/><rect x="431" width="130.6" y="766" height="1" fill="#7d80c0"/><rect x="431" width="130.6" y="767" height="1" fill="#7c7fbf"/><rect x="431" width="130.6" y="768" height="1" fill="#7c80bf"/><rect x="431" width="130.6" y="769" height="1" fill="#7e81c0"/><rect x="431" width="130.6" y="770" height="1" fill="#7d80c0"/><rect x="431" width="130.6" y="771" height="1" fill="#8789c5"/><rect x="431" width="130.6" y="772" height="1" fill="#8688c4"/><rect x="431" width="130.6" y="773" height="1" fill="#8385c3"/><rect x="431" width="130.6" y="774" height="1" fill="#7f82c1"/><rect x="431" width="130.6" y="775" height="1" fill="#7b7ebf"/><rect x="431" width="130.6" y="776" height="1" fill="#8184c2"/><rect x="431" width="130.6" y="777" height="1" fill="#8083c2"/><rect x="431" width="130.6" y="778" height="1" fill="#797dbe"/><rect x="431" width="130.6" y="779" height="1" fill="#777abc"/><rect x="431" width="130.6" y="780" height="1" fill="#777bbd"/><rect x="431" width="130.6" y="781" height="1" fill="#7679bc"/><rect x="431" width="130.6" y="782" height="1" fill="#7d80c0"/><rect x="431" width="130.6" y="783" height="1" fill="#767abc"/><rect x="431" width="130.6" y="784" height="1" fill="#7a7dbe"/><rect x="431" width="130.6" y="785" height="1" fill="#7b7ebf"/><rect x="431" width="130.6" y="786" height="1" fill="#7578bb"/><rect x="431" width="130.6" y="787" height="1" fill="#6166b1"/><rect x="431" width="130.6" y="788" height="1" fill="#6065b0"/><rect x="431" width="130.6" y="789" height="1" fill="#6267b1"/><rect x="431" width="130.6" y="790" height="1" fill="#6065b0"/><rect x="431" width="130.6" y="791" height="1" fill="#6166b1"/><rect x="431" width="130.6" y="792" height="1" fill="#5c62ae"/><rect x="431" width="130.6" y="793" height="1" fill="#5a61ae"/><rect x="431" width="130.6" y="794" height="1" fill="#5e63af"/><rect x="431" width="130.6" y="795" height="2" fill="#6267b1"/><rect x="431" width="130.6" y="797" height="1" fill="#6064b0"/><rect x="431" width="130.6" y="798" height="1" fill="#6368b2"/><rect x="431" width="130.6" y="799" height="1" fill="#5c62ae"/><rect x="431" width="130.6" y="800" height="1" fill="#5b61ae"/><rect x="431" width="130.6" y="801" height="1" fill="#5f63af"/><rect x="431" width="130.6" y="802" height="1" fill="#6166b1"/><rect x="431" width="130.6" y="803" height="1" fill="#5e63af"/><rect x="431" width="130.6" y="804" height="1" fill="#5961ad"/><rect x="431" width="130.6" y="805" height="1" fill="#5f64b0"/><rect x="431" width="130.6" y="806" height="1" fill="#6065b0"/><rect x="431" width="130.6" y="807" height="1" fill="#5e63af"/><rect x="431" width="130.6" y="808" height="1" fill="#5f64af"/><rect x="431" width="130.6" y="809" height="1" fill="#6267b1"/><rect x="431" width="130.6" y="810" height="1" fill="#5961ae"/><rect x="431" width="130.6" y="811" height="1" fill="#5f64b0"/><rect x="431" width="130.6" y="812" height="1" fill="#6267b1"/><rect x="431" width="130.6" y="813" height="1" fill="#5b62ae"/><rect x="431" width="130.6" y="814" height="1" fill="#5f64b0"/><rect x="431" width="130.6" y="815" height="1" fill="#5a61ae"/><rect x="431" width="130.6" y="816" height="1" fill="#5f64b0"/><rect x="431" width="130.6" y="817" height="1" fill="#6166b1"/><rect x="431" width="130.6" y="818" height="1" fill="#686cb4"/><rect x="431" width="130.6" y="819" height="1" fill="#6469b2"/><rect x="431" width="130.6" y="820" height="1" fill="#6368b2"/><rect x="431" width="130.6" y="821" height="1" fill="#666ab3"/><rect x="431" width="130.6" y="822" height="1" fill="#6267b1"/><rect x="431" width="130.6" y="823" height="1" fill="#6065b0"/><rect x="431" width="130.6" y="824" height="1" fill="#5f64af"/><rect x="431" width="130.6" y="825" height="1" fill="#5f64b0"/><rect x="431" width="130.6" y="826" height="1" fill="#5c62ae"/><rect x="431" width="130.6" y="827" height="1" fill="#5f64af"/><rect x="431" width="130.6" y="828" height="2" fill="#6166b1"/><rect x="431" width="130.6" y="830" height="1" fill="#666bb4"/><rect x="431" width="130.6" y="831" height="1" fill="#6468b2"/><rect x="431" width="130.6" y="832" height="1" fill="#676cb4"/><rect x="431" width="130.6" y="833" height="1" fill="#6468b2"/><rect x="431" width="130.6" y="834" height="1" fill="#656ab3"/><rect x="431" width="130.6" y="835" height="1" fill="#5e63af"/><rect x="431" width="130.6" y="836" height="2" fill="#5f64b0"/><rect x="431" width="130.6" y="838" height="1" fill="#5e63af"/><rect x="431" width="130.6" y="839" height="2" fill="#5d62af"/><rect x="431" width="130.6" y="841" height="1" fill="#5c62ae"/><rect x="431" width="130.6" y="842" height="1" fill="#5760ad"/><rect x="431" width="130.6" y="843" height="1" fill="#676bb4"/><rect x="431" width="130.6" y="844" height="1" fill="#656ab3"/><rect x="431" width="130.6" y="845" height="1" fill="#6569b3"/><rect x="431" width="130.6" y="846" height="1" fill="#6267b1"/><rect x="431" width="130.6" y="847" height="1" fill="#6468b2"/><rect x="431" width="130.6" y="848" height="1" fill="#676cb4"/><rect x="431" width="130.6" y="849" height="1" fill="#676bb4"/><rect x="431" width="130.6" y="850" height="1" fill="#666ab3"/><rect x="431" width="130.6" y="851" height="1" fill="#6b6fb6"/><rect x="431" width="130.6" y="852" height="1" fill="#6d71b7"/><rect x="431" width="130.6" y="853" height="1" fill="#6f73b8"/><rect x="431" width="130.6" y="854" height="1" fill="#7175b9"/><rect x="431" width="130.6" y="855" height="1" fill="#6d72b7"/><rect x="431" width="130.6" y="856" height="1" fill="#6c70b6"/><rect x="431" width="130.6" y="857" height="1" fill="#6e72b8"/><rect x="431" width="130.6" y="858" height="2" fill="#7578bb"/><rect x="431" width="130.6" y="860" height="1" fill="#777bbd"/><rect x="431" width="130.6" y="861" height="1" fill="#797cbe"/><rect x="431" width="130.6" y="862" height="1" fill="#777bbd"/><rect x="431" width="130.6" y="863" height="1" fill="#7b7fbf"/><rect x="431" width="130.6" y="864" height="1" fill="#797dbe"/><rect x="431" width="130.6" y="865" height="1" fill="#7c7fbf"/><rect x="431" width="130.6" y="866" height="1" fill="#7f82c1"/><rect x="431" width="130.6" y="867" height="1" fill="#8083c1"/><rect x="431" width="130.6" y="868" height="1" fill="#8184c2"/><rect x="431" width="130.6" y="869" height="1" fill="#797cbe"/><rect x="431" width="130.6" y="870" height="1" fill="#7376ba"/><rect x="431" width="130.6" y="871" height="1" fill="#7175b9"/><rect x="431" width="130.6" y="872" height="1" fill="#7579bb"/><rect x="431" width="130.6" y="873" height="1" fill="#7c7fbf"/><rect x="431" width="130.6" y="874" height="1" fill="#7579bc"/><rect x="431" width="130.6" y="875" height="1" fill="#777bbd"/><rect x="431" width="130.6" y="876" height="1" fill="#7377bb"/><rect x="431" width="130.6" y="877" height="1" fill="#7175b9"/><rect x="431" width="130.6" y="878" height="1" fill="#7275ba"/><rect x="431" width="130.6" y="879" height="1" fill="#767abc"/><rect x="431" width="130.6" y="880" height="1" fill="#777bbd"/><rect x="431" width="130.6" y="881" height="1" fill="#7d80c0"/><rect x="431" width="130.6" y="882" height="1" fill="#777abc"/><rect x="431" width="130.6" y="883" height="1" fill="#7b7ebf"/><rect x="431" width="130.6" y="884" height="1" fill="#7e81c0"/><rect x="431" width="130.6" y="885" height="1" fill="#7c80bf"/><rect x="431" width="130.6" y="886" height="1" fill="#7d80c0"/><rect x="431" width="130.6" y="887" height="1" fill="#797cbe"/><rect x="431" width="130.6" y="888" height="1" fill="#7377bb"/><rect x="431" width="130.6" y="889" height="1" fill="#7376ba"/><rect x="431" width="130.6" y="890" height="1" fill="#7175b9"/><rect x="431" width="130.6" y="891" height="1" fill="#8083c1"/><rect x="431" width="130.6" y="892" height="1" fill="#7b7ebf"/><rect x="431" width="130.6" y="893" height="1" fill="#8184c2"/><rect x="431" width="130.6" y="894" height="1" fill="#7f82c1"/><rect x="431" width="130.6" y="895" height="1" fill="#7e82c1"/><rect x="431" width="130.6" y="896" height="1" fill="#8083c1"/><rect x="431" width="130.6" y="897" height="1" fill="#7a7dbe"/><rect x="431" width="130.6" y="898" height="1" fill="#7d80c0"/><rect x="431" width="130.6" y="899" height="1" fill="#6a6eb6"/><rect x="431" width="130.6" y="900" height="1" fill="#6368b2"/><rect x="431" width="130.6" y="901" height="1" fill="#676cb4"/><rect x="431" width="130.6" y="902" height="1" fill="#6a6eb6"/><rect x="431" width="130.6" y="903" height="1" fill="#6c70b6"/><rect x="431" width="130.6" y="904" height="1" fill="#7276ba"/><rect x="431" width="130.6" y="905" height="1" fill="#6d71b7"/><rect x="431" width="130.6" y="906" height="1" fill="#6e72b8"/><rect x="431" width="130.6" y="907" height="1" fill="#7074b9"/><rect x="431" width="130.6" y="908" height="1" fill="#6a6eb5"/><rect x="431" width="130.6" y="909" height="1" fill="#6f73b8"/><rect x="431" width="130.6" y="910" height="1" fill="#676bb4"/><rect x="431" width="130.6" y="911" height="1" fill="#6166b1"/><rect x="431" width="130.6" y="912" height="1" fill="#666ab3"/><rect x="431" width="130.6" y="913" height="1" fill="#6266b1"/><rect x="431" width="130.6" y="914" height="1" fill="#6368b2"/><rect x="431" width="130.6" y="915" height="1" fill="#5d63af"/><rect x="431" width="130.6" y="916" height="1" fill="#6166b0"/><rect x="431" width="130.6" y="917" height="1" fill="#5e63af"/><rect x="431" width="130.6" y="918" height="1" fill="#6267b1"/><rect x="431" width="130.6" y="919" height="1" fill="#5d63af"/><rect x="431" width="130.6" y="920" height="1" fill="#6267b1"/><rect x="431" width="130.6" y="921" height="1" fill="#6368b2"/><rect x="431" width="130.6" y="922" height="1" fill="#6569b3"/><rect x="431" width="130.6" y="923" height="1" fill="#666ab3"/><rect x="431" width="130.6" y="924" height="1" fill="#676bb4"/><rect x="431" width="130.6" y="925" height="1" fill="#6166b1"/><rect x="431" width="130.6" y="926" height="1" fill="#5a61ae"/><rect x="431" width="130.6" y="927" height="1" fill="#5d62af"/><rect x="431" width="130.6" y="928" height="1" fill="#5c62ae"/><rect x="431" width="130.6" y="929" height="1" fill="#5d63af"/><rect x="431" width="130.6" y="930" height="1" fill="#6267b1"/><rect x="431" width="130.6" y="931" height="1" fill="#5b62ae"/><rect x="431" width="130.6" y="932" height="1" fill="#5c62ae"/><rect x="431" width="130.6" y="933" height="1" fill="#5c62af"/><rect x="431" width="130.6" y="934" height="1" fill="#5b62ae"/><rect x="431" width="130.6" y="935" height="1" fill="#6065b0"/><rect x="431" width="130.6" y="936" height="1" fill="#6267b1"/><rect x="431" width="130.6" y="937" height="1" fill="#6065b0"/><rect x="431" width="130.6" y="938" height="1" fill="#5e63af"/><rect x="431" width="130.6" y="939" height="1" fill="#6569b3"/><rect x="431" width="130.6" y="940" height="1" fill="#6368b2"/><rect x="431" width="130.6" y="941" height="1" fill="#676bb4"/><rect x="431" width="130.6" y="942" height="1" fill="#696eb5"/><rect x="431" width="130.6" y="943" height="1" fill="#6166b0"/><rect x="431" width="130.6" y="944" height="1" fill="#5e63af"/><rect x="431" width="130.6" y="945" height="1" fill="#6166b1"/><rect x="431" width="130.6" y="946" height="1" fill="#6569b3"/><rect x="431" width="130.6" y="947" height="1" fill="#696eb5"/><rect x="431" width="130.6" y="948" height="1" fill="#6d71b7"/><rect x="431" width="130.6" y="949" height="1" fill="#7074b9"/><rect x="431" width="130.6" y="950" height="1" fill="#6c70b7"/><rect x="431" width="130.6" y="951" height="1" fill="#6a6fb6"/><rect x="431" width="130.6" y="952" height="1" fill="#6d71b7"/><rect x="431" width="130.6" y="953" height="1" fill="#6a6eb6"/><rect x="431" width="130.6" y="954" height="1" fill="#6e72b8"/><rect x="431" width="130.6" y="955" height="1" fill="#666ab3"/><rect x="431" width="130.6" y="956" height="1" fill="#696eb5"/><rect x="431" width="130.6" y="957" height="1" fill="#686db5"/><rect x="431" width="130.6" y="958" height="1" fill="#6065b0"/><rect x="431" width="130.6" y="959" height="1" fill="#666bb4"/><rect x="431" width="130.6" y="960" height="1" fill="#686db5"/><rect x="431" width="130.6" y="961" height="1" fill="#696db5"/><rect x="431" width="130.6" y="962" height="1" fill="#6468b2"/><rect x="431" width="130.6" y="963" height="1" fill="#6368b2"/><rect x="431" width="130.6" y="964" height="1" fill="#6b70b6"/><rect x="431" width="130.6" y="965" height="1" fill="#676bb4"/><rect x="431" width="130.6" y="966" height="3" fill="#5a61ae"/><rect x="431" width="130.6" y="969" height="1" fill="#5c62ae"/><rect x="431" width="130.6" y="970" height="1" fill="#5e63af"/><rect x="431" width="130.6" y="971" height="1" fill="#5d62af"/><rect x="431" width="130.6" y="972" height="1" fill="#5c62ae"/><rect x="431" width="130.6" y="973" height="1" fill="#6469b2"/><rect x="431" width="130.6" y="974" height="1" fill="#5f64b0"/><rect x="431" width="130.6" y="975" height="1" fill="#6a6fb6"/><rect x="431" width="130.6" y="976" height="1" fill="#676cb4"/><rect x="431" width="130.6" y="977" height="1" fill="#6368b2"/><rect x="431" width="130.6" y="978" height="1" fill="#686cb4"/><rect x="431" width="130.6" y="979" height="1" fill="#6b6fb6"/><rect x="431" width="130.6" y="980" height="1" fill="#656ab3"/><rect x="431" width="130.6" y="981" height="1" fill="#8386c3"/><rect x="431" width="130.6" y="982" height="1" fill="#787cbd"/><rect x="431" width="130.6" y="983" height="1" fill="#7579bc"/><rect x="431" width="130.6" y="984" height="1" fill="#7e81c0"/><rect x="431" width="130.6" y="985" height="1" fill="#7d80c0"/><rect x="431" width="130.6" y="986" height="1" fill="#777abc"/><rect x="431" width="130.6" y="987" height="1" fill="#7c7fbf"/><rect x="431" width="130.6" y="988" height="1" fill="#8184c2"/><rect x="431" width="130.6" y="989" height="1" fill="#8084c2"/><rect x="431" width="130.6" y="990" height="1" fill="#777abc"/><rect x="431" width="130.6" y="991" height="1" fill="#777bbd"/><rect x="431" width="130.6" y="992" height="1" fill="#7c7fbf"/><rect x="431" width="130.6" y="993" height="1" fill="#8083c2"/><rect x="431" width="130.6" y="994" height="1" fill="#8b8dc7"/><rect x="431" width="130.6" y="995" height="1" fill="#8689c4"/><rect x="431" width="130.6" y="996" height="1" fill="#8184c2"/><rect x="431" width="130.6" y="997" height="1" fill="#8083c2"/><rect x="431" width="130.6" y="998" height="1" fill="#878ac5"/><rect x="431" width="130.6" y="999" height="1" fill="#7f82c1"/><rect x="431" width="130.6" y="1000" height="1" fill="#8789c5"/><rect x="431" width="130.6" y="1001" height="1" fill="#7679bc"/><rect x="431" width="130.6" y="1002" height="1" fill="#7c80c0"/><rect x="431" width="130.6" y="1003" height="1" fill="#7a7dbe"/><rect x="431" width="130.6" y="1004" height="1" fill="#7d81c0"/><rect x="431" width="130.6" y="1005" height="1" fill="#8184c2"/><rect x="431" width="130.6" y="1006" height="1" fill="#7b7ebf"/><rect x="431" width="130.6" y="1007" height="1" fill="#7b7fbf"/><rect x="431" width="130.6" y="1008" height="1" fill="#7e81c0"/><rect x="431" width="130.6" y="1009" height="1" fill="#8184c2"/><rect x="431" width="130.6" y="1010" height="1" fill="#7c7fbf"/><rect x="431" width="130.6" y="1011" height="1" fill="#787bbd"/><rect x="431" width="130.6" y="1012" height="1" fill="#7074b9"/><rect x="431" width="130.6" y="1013" height="1" fill="#8184c2"/><rect x="431" width="130.6" y="1014" height="1" fill="#7f82c1"/><rect x="431" width="130.6" y="1015" height="1" fill="#7e81c0"/><rect x="431" width="130.6" y="1016" height="1" fill="#777abc"/><rect x="431" width="130.6" y="1017" height="1" fill="#7e81c0"/><rect x="431" width="130.6" y="1018" height="1" fill="#7b7fbf"/><rect x="431" width="130.6" y="1019" height="1" fill="#8487c4"/><rect x="431" width="130.6" y="1020" height="1" fill="#888ac5"/><rect x="431" width="130.6" y="1021" height="1" fill="#8588c4"/><rect x="431" width="130.6" y="1022" height="1" fill="#888ac5"/><rect x="431" width="130.6" y="1023" height="1" fill="#7f82c1"/><rect x="431" width="130.6" y="1024" height="1" fill="#7d80c0"/><rect x="431" width="130.6" y="1025" height="1" fill="#7b7ebf"/><rect x="431" width="130.6" y="1026" height="1" fill="#7579bc"/><rect x="431" width="130.6" y="1027" height="1" fill="#787cbd"/><rect x="431" width="130.6" y="1028" height="1" fill="#797dbe"/><rect x="431" width="130.6" y="1029" height="1" fill="#8285c3"/><rect x="431" width="130.6" y="1030" height="1" fill="#7074b9"/><rect x="431" width="130.6" y="1031" height="1" fill="#7175b9"/><rect x="431" width="130.6" y="1032" height="1" fill="#7074b9"/><rect x="431" width="130.6" y="1033" height="1" fill="#7276ba"/><rect x="431" width="130.6" y="1034" height="1" fill="#787bbd"/><rect x="431" width="130.6" y="1035" height="1" fill="#7c7fbf"/><rect x="431" width="130.6" y="1036" height="1" fill="#7d80c0"/><rect x="431" width="130.6" y="1037" height="1" fill="#7b7ebf"/><rect x="431" width="130.6" y="1038" height="1" fill="#7f82c1"/><rect x="431" width="130.6" y="1039" height="1" fill="#8184c2"/><rect x="431" width="130.6" y="1040" height="1" fill="#777abc"/><rect x="431" width="130.6" y="1041" height="1" fill="#787bbd"/><rect x="431" width="130.6" y="1042" height="1" fill="#7376ba"/><rect x="431" width="130.6" y="1043" height="1" fill="#7074b9"/><rect x="431" width="130.6" y="1044" height="1" fill="#7579bb"/><rect x="431" width="130.6" y="1045" height="1" fill="#787cbd"/><rect x="431" width="130.6" y="1046" height="1" fill="#7b7ebf"/><rect x="431" width="130.6" y="1047" height="1" fill="#777bbd"/><rect x="431" width="130.6" y="1048" height="1" fill="#787cbd"/><rect x="431" width="130.6" y="1049" height="1" fill="#7679bc"/><rect x="431" width="130.6" y="1050" height="1" fill="#7a7ebe"/><rect x="431" width="130.6" y="1051" height="1" fill="#7f82c1"/><rect x="431" width="130.6" y="1052" height="1" fill="#898cc6"/><rect x="431" width="130.6" y="1053" height="1" fill="#8e90c8"/><rect x="431" width="130.6" y="1054" height="1" fill="#8587c4"/><rect x="431" width="130.6" y="1055" height="1" fill="#8083c2"/><rect x="431" width="130.6" y="1056" height="1" fill="#7b7ebf"/><rect x="431" width="130.6" y="1057" height="1" fill="#7e81c0"/><rect x="431" width="130.6" y="1058" height="1" fill="#7f82c1"/><rect x="431" width="130.6" y="1059" height="1" fill="#8083c1"/><rect x="431" width="130.6" y="1060" height="1" fill="#7074b9"/><rect x="431" width="130.6" y="1061" height="1" fill="#6a6eb5"/><rect x="431" width="130.6" y="1062" height="1" fill="#656ab3"/><rect x="431" width="130.6" y="1063" height="1" fill="#6c70b7"/><rect x="431" width="130.6" y="1064" height="1" fill="#6e72b8"/><rect x="431" width="130.6" y="1065" height="1" fill="#7275ba"/><rect x="431" width="130.6" y="1066" height="1" fill="#7c80bf"/><rect x="431" width="130.6" y="1067" height="1" fill="#7579bc"/><rect x="431" width="130.6" y="1068" height="1" fill="#7074b9"/><rect x="431" width="130.6" y="1069" height="1" fill="#7c80bf"/><rect x="431" width="130.6" y="1070" height="1" fill="#7c7fbf"/><rect x="431" width="130.6" y="1071" height="1" fill="#7579bc"/><rect x="431" width="130.6" y="1072" height="1" fill="#696db5"/><rect x="431" width="130.6" y="1073" height="1" fill="#6368b2"/><rect x="431" width="130.6" y="1074" height="2" fill="#6266b1"/><rect x="431" width="130.6" y="1076" height="1" fill="#676bb4"/><rect x="431" width="130.6" y="1077" height="2" fill="#7074b9"/><rect x="431" width="130.6" y="1079" height="1" fill="#6d71b7"/><rect x="431" width="130.6" y="1080" height="1" fill="#6b6fb6"/><rect x="431" width="130.6" y="1081" height="1" fill="#787cbd"/><rect x="431" width="130.6" y="1082" height="1" fill="#6d71b7"/><rect x="431" width="130.6" y="1083" height="1" fill="#7074b9"/><rect x="431" width="130.6" y="1084" height="1" fill="#7175b9"/><rect x="431" width="130.6" y="1085" height="1" fill="#7579bc"/><rect x="431" width="130.6" y="1086" height="1" fill="#7376ba"/><rect x="431" width="130.6" y="1087" height="1" fill="#7679bc"/><rect x="431" width="130.6" y="1088" height="1" fill="#7a7dbe"/><rect x="431" width="130.6" y="1089" height="1" fill="#777bbd"/><rect x="431" width="130.6" y="1090" height="1" fill="#7477bb"/><rect x="431" width="130.6" y="1091" height="1" fill="#5860ad"/><rect x="431" width="130.6" y="1092" height="1" fill="#565fac"/><rect x="431" width="130.6" y="1093" height="2" fill="#565fad"/><rect x="431" width="130.6" y="1095" height="1" fill="#5760ad"/><rect x="431" width="130.6" y="1096" height="1" fill="#5b62ae"/><rect x="431" width="130.6" y="1097" height="1" fill="#5e63af"/><rect x="431" width="130.6" y="1098" height="1" fill="#5b62ae"/><rect x="431" width="130.6" y="1099" height="2" fill="#5c62ae"/><rect x="431" width="130.6" y="1101" height="1" fill="#5d63af"/><rect x="431" width="130.6" y="1102" height="2" fill="#5c62ae"/><rect x="431" width="130.6" y="1104" height="1" fill="#5a61ae"/><rect x="431" width="130.6" y="1105" height="1" fill="#5760ad"/><rect x="431" width="130.6" y="1106" height="1" fill="#5a61ae"/><rect x="431" width="130.6" y="1107" height="1" fill="#5d63af"/><rect x="431" width="130.6" y="1108" height="1" fill="#5e63af"/><rect x="431" width="130.6" y="1109" height="1" fill="#6469b2"/><rect x="431" width="130.6" y="1110" height="1" fill="#6569b3"/><rect x="431" width="130.6" y="1111" height="1" fill="#6368b2"/><rect x="431" width="130.6" y="1112" height="1" fill="#5d63af"/><rect x="431" width="130.6" y="1113" height="1" fill="#6166b1"/><rect x="431" width="130.6" y="1114" height="1" fill="#6267b1"/><rect x="431" width="130.6" y="1115" height="1" fill="#6165b0"/><rect x="431" width="130.6" y="1116" height="1" fill="#5e63af"/><rect x="431" width="130.6" y="1117" height="1" fill="#6468b2"/><rect x="431" width="130.6" y="1118" height="1" fill="#5e63af"/><rect x="431" width="130.6" y="1119" height="1" fill="#6569b3"/><rect x="431" width="130.6" y="1120" height="1" fill="#666bb3"/><rect x="431" width="130.6" y="1121" height="1" fill="#6d71b7"/><rect x="431" width="130.6" y="1122" height="1" fill="#686cb4"/><rect x="431" width="130.6" y="1123" height="1" fill="#666bb4"/><rect x="431" width="130.6" y="1124" height="1" fill="#6468b2"/><rect x="431" width="130.6" y="1125" height="1" fill="#6469b2"/><rect x="431" width="130.6" y="1126" height="1" fill="#6368b2"/><rect x="431" width="130.6" y="1127" height="1" fill="#6165b0"/><rect x="431" width="130.6" y="1128" height="1" fill="#6569b3"/><rect x="431" width="130.6" y="1129" height="1" fill="#6266b1"/><rect x="431" width="130.6" y="1130" height="1" fill="#6065b0"/><rect x="431" width="130.6" y="1131" height="1" fill="#6368b2"/><rect x="431" width="130.6" y="1132" height="1" fill="#6166b1"/><rect x="431" width="130.6" y="1133" height="1" fill="#6065b0"/><rect x="431" width="130.6" y="1134" height="1" fill="#6267b1"/><rect x="431" width="130.6" y="1135" height="1" fill="#6166b1"/><rect x="431" width="130.6" y="1136" height="1" fill="#5e63af"/><rect x="431" width="130.6" y="1137" height="1" fill="#5f64af"/><rect x="431" width="130.6" y="1138" height="1" fill="#5f64b0"/><rect x="431" width="130.6" y="1139" height="1" fill="#666ab3"/><rect x="431" width="130.6" y="1140" height="1" fill="#6166b1"/><rect x="431" width="130.6" y="1141" height="1" fill="#656ab3"/><rect x="431" width="130.6" y="1142" height="1" fill="#6267b1"/><rect x="431" width="130.6" y="1143" height="1" fill="#6166b1"/><rect x="431" width="130.6" y="1144" height="1" fill="#6165b0"/><rect x="431" width="130.6" y="1145" height="1" fill="#6267b1"/><rect x="431" width="130.6" y="1146" height="1" fill="#656ab3"/><rect x="431" width="130.6" y="1147" height="1" fill="#6a6eb6"/><rect x="431" width="130.6" y="1148" height="1" fill="#666bb3"/><rect x="431" width="130.6" y="1149" height="1" fill="#696eb5"/><rect x="431" width="130.6" y="1150" height="2" fill="#6b6fb6"/><rect x="431" width="130.6" y="1152" height="1" fill="#666bb4"/><rect x="431" width="130.6" y="1153" height="1" fill="#686db5"/><rect x="431" width="130.6" y="1154" height="1" fill="#666bb4"/><rect x="431" width="130.6" y="1155" height="1" fill="#676bb4"/><rect x="431" width="130.6" y="1156" height="1" fill="#6569b3"/><rect x="431" width="130.6" y="1157" height="1" fill="#666bb4"/><rect x="431" width="130.6" y="1158" height="1" fill="#696db5"/><rect x="431" width="130.6" y="1159" height="1" fill="#6b6fb6"/><rect x="431" width="130.6" y="1160" height="1" fill="#686cb4"/><rect x="431" width="130.6" y="1161" height="1" fill="#6a6eb5"/><rect x="431" width="130.6" y="1162" height="1" fill="#6c71b7"/><rect x="431" width="130.6" y="1163" height="1" fill="#676bb4"/><rect x="431" width="130.6" y="1164" height="1" fill="#6a6fb6"/><rect x="431" width="130.6" y="1165" height="1" fill="#6469b2"/><rect x="431" width="130.6" y="1166" height="1" fill="#656ab3"/><rect x="431" width="130.6" y="1167" height="1" fill="#676bb4"/><rect x="431" width="130.6" y="1168" height="1" fill="#6a6fb6"/><rect x="431" width="130.6" y="1169" height="1" fill="#696db5"/><rect x="431" width="130.6" y="1170" height="1" fill="#666ab3"/><rect x="431" width="130.6" y="1171" height="1" fill="#6267b1"/><rect x="431" width="130.6" y="1172" height="1" fill="#5f64af"/><rect x="431" width="130.6" y="1173" height="1" fill="#6267b1"/><rect x="431" width="130.6" y="1174" height="1" fill="#6266b1"/><rect x="431" width="130.6" y="1175" height="1" fill="#6065b0"/><rect x="431" width="130.6" y="1176" height="1" fill="#6267b1"/><rect x="431" width="130.6" y="1177" height="1" fill="#6065b0"/><rect x="431" width="130.6" y="1178" height="2" fill="#5f64b0"/><rect x="431" width="130.6" y="1180" height="1" fill="#656ab3"/><rect x="431" width="130.6" y="1181" height="1" fill="#696eb5"/><rect x="431" width="130.6" y="1182" height="1" fill="#676cb4"/><rect x="431" width="130.6" y="1183" height="1" fill="#6166b1"/><rect x="431" width="130.6" y="1184" height="1" fill="#6267b1"/><rect x="431" width="130.6" y="1185" height="1" fill="#6367b2"/><rect x="431" width="130.6" y="1186" height="1" fill="#6469b2"/>
<rect x="561" width="130" y="404.4" height="1.6" fill="#4256a6"/><rect x="561" width="130" y="406" height="1" fill="#4357a6"/><rect x="561" width="130" y="407" height="2" fill="#4357a7"/><rect x="561" width="130" y="409" height="1" fill="#4256a6"/><rect x="561" width="130" y="410" height="1" fill="#4156a6"/><rect x="561" width="130" y="411" height="1" fill="#4256a6"/><rect x="561" width="130" y="412" height="2" fill="#4156a6"/><rect x="561" width="130" y="414" height="1" fill="#4055a6"/><rect x="561" width="130" y="415" height="1" fill="#3f55a5"/><rect x="561" width="130" y="416" height="1" fill="#4055a6"/><rect x="561" width="130" y="417" height="2" fill="#4156a6"/><rect x="561" width="130" y="419" height="1" fill="#4256a6"/><rect x="561" width="130" y="420" height="2" fill="#4055a6"/><rect x="561" width="130" y="422" height="1" fill="#4156a6"/><rect x="561" width="130" y="423" height="1" fill="#4256a6"/><rect x="561" width="130" y="424" height="1" fill="#4156a6"/><rect x="561" width="130" y="425" height="2" fill="#4256a6"/><rect x="561" width="130" y="427" height="3" fill="#4457a7"/><rect x="561" width="130" y="430" height="2" fill="#4558a7"/><rect x="561" width="130" y="432" height="1" fill="#4357a7"/><rect x="561" width="130" y="433" height="1" fill="#4256a6"/><rect x="561" width="130" y="434" height="2" fill="#4156a6"/><rect x="561" width="130" y="436" height="2" fill="#3f55a5"/><rect x="561" width="130" y="438" height="1" fill="#4156a6"/><rect x="561" width="130" y="439" height="1" fill="#4256a6"/><rect x="561" width="130" y="440" height="1" fill="#4156a6"/><rect x="561" width="130" y="441" height="1" fill="#4357a7"/><rect x="561" width="130" y="442" height="2" fill="#4256a6"/><rect x="561" width="130" y="444" height="3" fill="#3f55a5"/><rect x="561" width="130" y="447" height="1" fill="#4156a6"/><rect x="561" width="130" y="448" height="1" fill="#4256a6"/><rect x="561" width="130" y="449" height="1" fill="#4055a6"/><rect x="561" width="130" y="450" height="1" fill="#4156a6"/><rect x="561" width="130" y="451" height="3" fill="#4256a6"/><rect x="561" width="130" y="454" height="2" fill="#4156a6"/><rect x="561" width="130" y="456" height="2" fill="#3f55a5"/><rect x="561" width="130" y="458" height="1" fill="#4256a6"/><rect x="561" width="130" y="459" height="1" fill="#4357a7"/><rect x="561" width="130" y="460" height="1" fill="#4959a8"/><rect x="561" width="130" y="461" height="1" fill="#4759a8"/><rect x="561" width="130" y="462" height="1" fill="#4859a8"/><rect x="561" width="130" y="463" height="1" fill="#4a5aa9"/><rect x="561" width="130" y="464" height="1" fill="#4b5aa9"/><rect x="561" width="130" y="465" height="1" fill="#495aa8"/><rect x="561" width="130" y="466" height="2" fill="#4a5aa9"/><rect x="561" width="130" y="468" height="1" fill="#4b5aa9"/><rect x="561" width="130" y="469" height="1" fill="#4a5aa9"/><rect x="561" width="130" y="470" height="1" fill="#4658a7"/><rect x="561" width="130" y="471" height="1" fill="#4759a8"/><rect x="561" width="130" y="472" height="1" fill="#4a5aa9"/><rect x="561" width="130" y="473" height="1" fill="#4759a8"/><rect x="561" width="130" y="474" height="1" fill="#4859a8"/><rect x="561" width="130" y="475" height="1" fill="#4a5aa9"/><rect x="561" width="130" y="476" height="1" fill="#495aa8"/><rect x="561" width="130" y="477" height="1" fill="#4859a8"/><rect x="561" width="130" y="478" height="1" fill="#4d5baa"/><rect x="561" width="130" y="479" height="1" fill="#4e5caa"/><rect x="561" width="130" y="480" height="1" fill="#4256a6"/><rect x="561" width="130" y="481" height="1" fill="#4055a6"/><rect x="561" width="130" y="482" height="1" fill="#4256a6"/><rect x="561" width="130" y="483" height="1" fill="#4055a5"/><rect x="561" width="130" y="484" height="1" fill="#3f55a5"/><rect x="561" width="130" y="485" height="1" fill="#4055a6"/><rect x="561" width="130" y="486" height="1" fill="#4256a6"/><rect x="561" width="130" y="487" height="1" fill="#4055a6"/><rect x="561" width="130" y="488" height="1" fill="#4055a5"/><rect x="561" width="130" y="489" height="1" fill="#4055a6"/><rect x="561" width="130" y="490" height="1" fill="#3e54a5"/><rect x="561" width="130" y="491" height="1" fill="#3f55a5"/><rect x="561" width="130" y="492" height="1" fill="#4055a6"/><rect x="561" width="130" y="493" height="1" fill="#4055a5"/><rect x="561" width="130" y="494" height="3" fill="#4156a6"/><rect x="561" width="130" y="497" height="1" fill="#4256a6"/><rect x="561" width="130" y="498" height="1" fill="#4357a7"/><rect x="561" width="130" y="499" height="2" fill="#4256a6"/><rect x="561" width="130" y="501" height="1" fill="#4156a6"/><rect x="561" width="130" y="502" height="1" fill="#4256a6"/><rect x="561" width="130" y="503" height="4" fill="#4156a6"/><rect x="561" width="130" y="507" height="1" fill="#4357a6"/><rect x="561" width="130" y="508" height="1" fill="#4256a6"/><rect x="561" width="130" y="509" height="2" fill="#4357a7"/><rect x="561" width="130" y="511" height="1" fill="#4457a7"/><rect x="561" width="130" y="512" height="1" fill="#4357a6"/><rect x="561" width="130" y="513" height="2" fill="#4357a7"/><rect x="561" width="130" y="515" height="2" fill="#4256a6"/><rect x="561" width="130" y="517" height="2" fill="#4156a6"/><rect x="561" width="130" y="519" height="1" fill="#4256a6"/><rect x="561" width="130" y="520" height="1" fill="#4156a6"/><rect x="561" width="130" y="521" height="1" fill="#3f55a5"/><rect x="561" width="130" y="522" height="3" fill="#3d54a5"/><rect x="561" width="130" y="525" height="1" fill="#3e54a5"/><rect x="561" width="130" y="526" height="1" fill="#4d5baa"/><rect x="561" width="130" y="527" height="1" fill="#505dab"/><rect x="561" width="130" y="528" height="2" fill="#505caa"/><rect x="561" width="130" y="530" height="1" fill="#4d5baa"/><rect x="561" width="130" y="531" height="1" fill="#4e5caa"/><rect x="561" width="130" y="532" height="1" fill="#505dab"/><rect x="561" width="130" y="533" height="1" fill="#515dab"/><rect x="561" width="130" y="534" height="1" fill="#4c5ba9"/><rect x="561" width="130" y="535" height="1" fill="#4e5caa"/><rect x="561" width="130" y="536" height="1" fill="#4658a7"/><rect x="561" width="130" y="537" height="1" fill="#4658a8"/><rect x="561" width="130" y="538" height="1" fill="#4356a6"/><rect x="561" width="130" y="539" height="1" fill="#4256a6"/><rect x="561" width="130" y="540" height="1" fill="#4357a7"/><rect x="561" width="130" y="541" height="1" fill="#4457a7"/><rect x="561" width="130" y="542" height="1" fill="#4256a6"/><rect x="561" width="130" y="543" height="1" fill="#4156a6"/><rect x="561" width="130" y="544" height="1" fill="#4357a6"/><rect x="561" width="130" y="545" height="1" fill="#4055a6"/><rect x="561" width="130" y="546" height="1" fill="#4457a7"/><rect x="561" width="130" y="547" height="1" fill="#4357a7"/><rect x="561" width="130" y="548" height="1" fill="#4457a7"/><rect x="561" width="130" y="549" height="1" fill="#4156a6"/><rect x="561" width="130" y="550" height="1" fill="#4055a6"/><rect x="561" width="130" y="551" height="1" fill="#4256a6"/><rect x="561" width="130" y="552" height="1" fill="#4055a5"/><rect x="561" width="130" y="553" height="1" fill="#4457a7"/><rect x="561" width="130" y="554" height="1" fill="#4156a6"/><rect x="561" width="130" y="555" height="1" fill="#3f55a5"/><rect x="561" width="130" y="556" height="1" fill="#4055a6"/><rect x="561" width="130" y="557" height="1" fill="#4256a6"/><rect x="561" width="130" y="558" height="1" fill="#4357a7"/><rect x="561" width="130" y="559" height="1" fill="#4356a6"/><rect x="561" width="130" y="560" height="2" fill="#4256a6"/><rect x="561" width="130" y="562" height="1" fill="#4156a6"/><rect x="561" width="130" y="563" height="1" fill="#3d54a5"/><rect x="561" width="130" y="564" height="1" fill="#4055a6"/><rect x="561" width="130" y="565" height="1" fill="#4156a6"/><rect x="561" width="130" y="566" height="1" fill="#4256a6"/><rect x="561" width="130" y="567" height="1" fill="#4156a6"/><rect x="561" width="130" y="568" height="3" fill="#4256a6"/><rect x="561" width="130" y="571" height="1" fill="#4457a7"/><rect x="561" width="130" y="572" height="1" fill="#4156a6"/><rect x="561" width="130" y="573" height="1" fill="#4256a6"/><rect x="561" width="130" y="574" height="2" fill="#4055a6"/><rect x="561" width="130" y="576" height="1" fill="#4457a7"/><rect x="561" width="130" y="577" height="1" fill="#4156a6"/><rect x="561" width="130" y="578" height="1" fill="#4256a6"/><rect x="561" width="130" y="579" height="1" fill="#4156a6"/><rect x="561" width="130" y="580" height="1" fill="#4357a7"/><rect x="561" width="130" y="581" height="1" fill="#4156a6"/><rect x="561" width="130" y="582" height="1" fill="#3e55a5"/><rect x="561" width="130" y="583" height="2" fill="#4156a6"/><rect x="561" width="130" y="585" height="1" fill="#4658a7"/><rect x="561" width="130" y="586" height="1" fill="#4859a8"/><rect x="561" width="130" y="587" height="1" fill="#4658a7"/><rect x="561" width="130" y="588" height="1" fill="#4558a7"/><rect x="561" width="130" y="589" height="1" fill="#4658a7"/><rect x="561" width="130" y="590" height="1" fill="#4758a8"/><rect x="561" width="130" y="591" height="1" fill="#4658a7"/><rect x="561" width="130" y="592" height="1" fill="#4859a8"/><rect x="561" width="130" y="593" height="1" fill="#4b5aa9"/><rect x="561" width="130" y="594" height="1" fill="#4959a8"/><rect x="561" width="130" y="595" height="1" fill="#4c5ba9"/><rect x="561" width="130" y="596" height="1" fill="#4658a8"/><rect x="561" width="130" y="597" height="1" fill="#4959a8"/><rect x="561" width="130" y="598" height="1" fill="#4859a8"/><rect x="561" width="130" y="599" height="1" fill="#4759a8"/><rect x="561" width="130" y="600" height="1" fill="#4658a8"/><rect x="561" width="130" y="601" height="1" fill="#4558a7"/><rect x="561" width="130" y="602" height="2" fill="#4357a7"/><rect x="561" width="130" y="604" height="1" fill="#4658a8"/><rect x="561" width="130" y="605" height="1" fill="#4959a8"/><rect x="561" width="130" y="606" height="1" fill="#4759a8"/><rect x="561" width="130" y="607" height="1" fill="#4658a7"/><rect x="561" width="130" y="608" height="1" fill="#4557a7"/><rect x="561" width="130" y="609" height="1" fill="#4357a7"/><rect x="561" width="130" y="610" height="1" fill="#4759a8"/><rect x="561" width="130" y="611" height="2" fill="#4859a8"/><rect x="561" width="130" y="613" height="1" fill="#4658a8"/><rect x="561" width="130" y="614" height="1" fill="#4557a7"/><rect x="561" width="130" y="615" height="1" fill="#4759a8"/><rect x="561" width="130" y="616" height="1" fill="#4859a8"/><rect x="561" width="130" y="617" height="1" fill="#4558a7"/><rect x="561" width="130" y="618" height="1" fill="#4859a8"/><rect x="561" width="130" y="619" height="1" fill="#4557a7"/><rect x="561" width="130" y="620" height="1" fill="#4758a8"/><rect x="561" width="130" y="621" height="2" fill="#4457a7"/><rect x="561" width="130" y="623" height="1" fill="#4658a7"/><rect x="561" width="130" y="624" height="1" fill="#4758a8"/><rect x="561" width="130" y="625" height="1" fill="#4959a8"/><rect x="561" width="130" y="626" height="1" fill="#4658a8"/><rect x="561" width="130" y="627" height="1" fill="#4a5aa9"/><rect x="561" width="130" y="628" height="1" fill="#4c5ba9"/><rect x="561" width="130" y="629" height="2" fill="#4b5aa9"/><rect x="561" width="130" y="631" height="1" fill="#4759a8"/><rect x="561" width="130" y="632" height="1" fill="#4758a8"/><rect x="561" width="130" y="633" height="1" fill="#4357a7"/><rect x="561" width="130" y="634" height="1" fill="#4457a7"/><rect x="561" width="130" y="635" height="1" fill="#4558a7"/><rect x="561" width="130" y="636" height="1" fill="#4959a8"/><rect x="561" width="130" y="637" height="1" fill="#4a5aa9"/><rect x="561" width="130" y="638" height="1" fill="#4b5aa9"/><rect x="561" width="130" y="639" height="1" fill="#4959a8"/><rect x="561" width="130" y="640" height="1" fill="#4859a8"/><rect x="561" width="130" y="641" height="1" fill="#4658a8"/><rect x="561" width="130" y="642" height="1" fill="#4758a8"/><rect x="561" width="130" y="643" height="1" fill="#4256a6"/><rect x="561" width="130" y="644" height="1" fill="#4558a7"/><rect x="561" width="130" y="645" height="2" fill="#4256a6"/><rect x="561" width="130" y="647" height="1" fill="#4357a7"/><rect x="561" width="130" y="648" height="1" fill="#4356a6"/><rect x="561" width="130" y="649" height="1" fill="#4859a8"/><rect x="561" width="130" y="650" height="1" fill="#4759a8"/><rect x="561" width="130" y="651" height="1" fill="#4b5aa9"/><rect x="561" width="130" y="652" height="1" fill="#4c5ba9"/><rect x="561" width="130" y="653" height="2" fill="#495aa9"/><rect x="561" width="130" y="655" height="1" fill="#4c5ba9"/><rect x="561" width="130" y="656" height="1" fill="#495aa9"/><rect x="561" width="130" y="657" height="1" fill="#4959a8"/><rect x="561" width="130" y="658" height="2" fill="#4758a8"/><rect x="561" width="130" y="660" height="2" fill="#4658a7"/><rect x="561" width="130" y="662" height="1" fill="#4959a8"/><rect x="561" width="130" y="663" height="1" fill="#4b5aa9"/><rect x="561" width="130" y="664" height="2" fill="#4a5aa9"/><rect x="561" width="130" y="666" height="1" fill="#4b5aa9"/><rect x="561" width="130" y="667" height="1" fill="#4959a8"/><rect x="561" width="130" y="668" height="1" fill="#4558a7"/><rect x="561" width="130" y="669" height="1" fill="#4859a8"/><rect x="561" width="130" y="670" height="1" fill="#4658a7"/><rect x="561" width="130" y="671" height="1" fill="#565fac"/><rect x="561" width="130" y="672" height="1" fill="#535eab"/><rect x="561" width="130" y="673" height="1" fill="#5760ad"/><rect x="561" width="130" y="674" height="1" fill="#545eac"/><rect x="561" width="130" y="675" height="1" fill="#565fac"/><rect x="561" width="130" y="676" height="1" fill="#5961ad"/><rect x="561" width="130" y="677" height="1" fill="#555fac"/><rect x="561" width="130" y="678" height="1" fill="#5860ad"/><rect x="561" width="130" y="679" height="1" fill="#555fac"/><rect x="561" width="130" y="680" height="1" fill="#505dab"/><rect x="561" width="130" y="681" height="1" fill="#535eab"/><rect x="561" width="130" y="682" height="1" fill="#555fac"/><rect x="561" width="130" y="683" height="1" fill="#545eac"/><rect x="561" width="130" y="684" height="1" fill="#4d5baa"/><rect x="561" width="130" y="685" height="2" fill="#4f5caa"/><rect x="561" width="130" y="687" height="1" fill="#505caa"/><rect x="561" width="130" y="688" height="1" fill="#505dab"/><rect x="561" width="130" y="689" height="1" fill="#4c5ba9"/><rect x="561" width="130" y="690" height="1" fill="#4d5baa"/><rect x="561" width="130" y="691" height="1" fill="#535eac"/><rect x="561" width="130" y="692" height="1" fill="#5760ad"/><rect x="561" width="130" y="693" height="1" fill="#555fac"/><rect x="561" width="130" y="694" height="1" fill="#535eab"/><rect x="561" width="130" y="695" height="1" fill="#545eac"/><rect x="561" width="130" y="696" height="1" fill="#5660ad"/><rect x="561" width="130" y="697" height="1" fill="#5760ad"/><rect x="561" width="130" y="698" height="1" fill="#535eac"/><rect x="561" width="130" y="699" height="2" fill="#545eac"/><rect x="561" width="130" y="701" height="1" fill="#5760ad"/><rect x="561" width="130" y="702" height="2" fill="#5961ad"/><rect x="561" width="130" y="704" height="1" fill="#5a61ae"/><rect x="561" width="130" y="705" height="1" fill="#5760ad"/><rect x="561" width="130" y="706" height="1" fill="#5a61ae"/><rect x="561" width="130" y="707" height="2" fill="#5760ad"/><rect x="561" width="130" y="709" height="1" fill="#5860ad"/><rect x="561" width="130" y="710" height="1" fill="#555fac"/><rect x="561" width="130" y="711" height="1" fill="#535eab"/><rect x="561" width="130" y="712" height="1" fill="#4e5caa"/><rect x="561" width="130" y="713" height="1" fill="#505dab"/><rect x="561" width="130" y="714" height="2" fill="#515dab"/><rect x="561" width="130" y="716" height="1" fill="#535eab"/><rect x="561" width="130" y="717" height="1" fill="#4e5caa"/><rect x="561" width="130" y="718" height="1" fill="#4f5caa"/><rect x="561" width="130" y="719" height="1" fill="#4658a8"/><rect x="561" width="130" y="720" height="1" fill="#4658a7"/><rect x="561" width="130" y="721" height="1" fill="#4759a8"/><rect x="561" width="130" y="722" height="1" fill="#4a5aa9"/><rect x="561" width="130" y="723" height="1" fill="#4859a8"/><rect x="561" width="130" y="724" height="1" fill="#4658a7"/><rect x="561" width="130" y="725" height="2" fill="#4558a7"/><rect x="561" width="130" y="727" height="1" fill="#4758a8"/><rect x="561" width="130" y="728" height="1" fill="#4558a7"/><rect x="561" width="130" y="729" height="1" fill="#4759a8"/><rect x="561" width="130" y="730" height="1" fill="#565fad"/><rect x="561" width="130" y="731" height="1" fill="#5b62ae"/><rect x="561" width="130" y="732" height="1" fill="#5d62af"/><rect x="561" width="130" y="733" height="1" fill="#5e63af"/><rect x="561" width="130" y="734" height="1" fill="#666bb3"/><rect x="561" width="130" y="735" height="1" fill="#6267b1"/><rect x="561" width="130" y="736" height="1" fill="#5f64b0"/><rect x="561" width="130" y="737" height="1" fill="#6065b0"/><rect x="561" width="130" y="738" height="1" fill="#6267b1"/><rect x="561" width="130" y="739" height="1" fill="#5a61ae"/><rect x="561" width="130" y="740" height="1" fill="#5b62ae"/><rect x="561" width="130" y="741" height="1" fill="#5860ad"/><rect x="561" width="130" y="742" height="1" fill="#5b62ae"/><rect x="561" width="130" y="743" height="1" fill="#6166b1"/><rect x="561" width="130" y="744" height="1" fill="#5f64b0"/><rect x="561" width="130" y="745" height="1" fill="#5e63af"/><rect x="561" width="130" y="746" height="1" fill="#5d63af"/><rect x="561" width="130" y="747" height="1" fill="#505dab"/><rect x="561" width="130" y="748" height="1" fill="#565fad"/><rect x="561" width="130" y="749" height="1" fill="#5a61ae"/><rect x="561" width="130" y="750" height="1" fill="#5b61ae"/><rect x="561" width="130" y="751" height="1" fill="#5961ad"/><rect x="561" width="130" y="752" height="1" fill="#565fad"/><rect x="561" width="130" y="753" height="1" fill="#5760ad"/><rect x="561" width="130" y="754" height="1" fill="#5d63af"/><rect x="561" width="130" y="755" height="1" fill="#5c62ae"/><rect x="561" width="130" y="756" height="1" fill="#6166b1"/><rect x="561" width="130" y="757" height="1" fill="#545fac"/><rect x="561" width="130" y="758" height="1" fill="#545eac"/><rect x="561" width="130" y="759" height="1" fill="#5760ad"/><rect x="561" width="130" y="760" height="1" fill="#5860ad"/><rect x="561" width="130" y="761" height="1" fill="#525dab"/><rect x="561" width="130" y="762" height="1" fill="#515dab"/><rect x="561" width="130" y="763" height="1" fill="#5961ad"/><rect x="561" width="130" y="764" height="1" fill="#545eac"/><rect x="561" width="130" y="765" height="1" fill="#525dab"/><rect x="561" width="130" y="766" height="1" fill="#4f5caa"/><rect x="561" width="130" y="767" height="1" fill="#505dab"/><rect x="561" width="130" y="768" height="1" fill="#565fac"/><rect x="561" width="130" y="769" height="1" fill="#5a61ae"/><rect x="561" width="130" y="770" height="1" fill="#515dab"/><rect x="561" width="130" y="771" height="1" fill="#5a61ae"/><rect x="561" width="130" y="772" height="1" fill="#5860ad"/><rect x="561" width="130" y="773" height="1" fill="#565fac"/><rect x="561" width="130" y="774" height="1" fill="#5e63af"/><rect x="561" width="130" y="775" height="1" fill="#5d62af"/><rect x="561" width="130" y="776" height="1" fill="#5760ad"/><rect x="561" width="130" y="777" height="1" fill="#555fac"/><rect x="561" width="130" y="778" height="1" fill="#545eac"/><rect x="561" width="130" y="779" height="1" fill="#515dab"/><rect x="561" width="130" y="780" height="1" fill="#525eab"/><rect x="561" width="130" y="781" height="1" fill="#5860ad"/><rect x="561" width="130" y="782" height="1" fill="#5a61ae"/><rect x="561" width="130" y="783" height="1" fill="#555fac"/><rect x="561" width="130" y="784" height="1" fill="#6267b1"/><rect x="561" width="130" y="785" height="2" fill="#5c62ae"/><rect x="561" width="130" y="787" height="1" fill="#505dab"/><rect x="561" width="130" y="788" height="1" fill="#525dab"/><rect x="561" width="130" y="789" height="1" fill="#505dab"/><rect x="561" width="130" y="790" height="1" fill="#515dab"/><rect x="561" width="130" y="791" height="1" fill="#565fac"/><rect x="561" width="130" y="792" height="1" fill="#545fac"/><rect x="561" width="130" y="793" height="2" fill="#515dab"/><rect x="561" width="130" y="795" height="1" fill="#4f5caa"/><rect x="561" width="130" y="796" height="1" fill="#4e5caa"/><rect x="561" width="130" y="797" height="1" fill="#4f5caa"/><rect x="561" width="130" y="798" height="1" fill="#505dab"/><rect x="561" width="130" y="799" height="1" fill="#4f5caa"/><rect x="561" width="130" y="800" height="2" fill="#515dab"/><rect x="561" width="130" y="802" height="1" fill="#4d5baa"/><rect x="561" width="130" y="803" height="1" fill="#505dab"/><rect x="561" width="130" y="804" height="1" fill="#4f5caa"/><rect x="561" width="130" y="805" height="1" fill="#525eab"/><rect x="561" width="130" y="806" height="1" fill="#505dab"/><rect x="561" width="130" y="807" height="1" fill="#515dab"/><rect x="561" width="130" y="808" height="1" fill="#525dab"/><rect x="561" width="130" y="809" height="1" fill="#4a5aa9"/><rect x="561" width="130" y="810" height="2" fill="#4859a8"/><rect x="561" width="130" y="812" height="1" fill="#4d5baa"/><rect x="561" width="130" y="813" height="1" fill="#495aa9"/><rect x="561" width="130" y="814" height="1" fill="#4d5baa"/><rect x="561" width="130" y="815" height="1" fill="#515dab"/><rect x="561" width="130" y="816" height="1" fill="#525dab"/><rect x="561" width="130" y="817" height="1" fill="#535eab"/><rect x="561" width="130" y="818" height="1" fill="#515dab"/><rect x="561" width="130" y="819" height="1" fill="#505dab"/><rect x="561" width="130" y="820" height="1" fill="#515dab"/><rect x="561" width="130" y="821" height="1" fill="#525dab"/><rect x="561" width="130" y="822" height="1" fill="#535eab"/><rect x="561" width="130" y="823" height="1" fill="#5a61ae"/><rect x="561" width="130" y="824" height="1" fill="#5760ad"/><rect x="561" width="130" y="825" height="1" fill="#565fad"/><rect x="561" width="130" y="826" height="1" fill="#5961ad"/><rect x="561" width="130" y="827" height="1" fill="#535eac"/><rect x="561" width="130" y="828" height="1" fill="#515dab"/><rect x="561" width="130" y="829" height="1" fill="#525dab"/><rect x="561" width="130" y="830" height="1" fill="#525eab"/><rect x="561" width="130" y="831" height="1" fill="#545eac"/><rect x="561" width="130" y="832" height="1" fill="#4e5caa"/><rect x="561" width="130" y="833" height="1" fill="#4f5caa"/><rect x="561" width="130" y="834" height="1" fill="#515dab"/><rect x="561" width="130" y="835" height="1" fill="#5660ad"/><rect x="561" width="130" y="836" height="1" fill="#505dab"/><rect x="561" width="130" y="837" height="1" fill="#525eab"/><rect x="561" width="130" y="838" height="1" fill="#565fad"/><rect x="561" width="130" y="839" height="1" fill="#5961ad"/><rect x="561" width="130" y="840" height="1" fill="#5e63af"/><rect x="561" width="130" y="841" height="1" fill="#6166b1"/><rect x="561" width="130" y="842" height="1" fill="#5b62ae"/><rect x="561" width="130" y="843" height="1" fill="#4658a8"/><rect x="561" width="130" y="844" height="1" fill="#4558a7"/><rect x="561" width="130" y="845" height="1" fill="#4457a7"/><rect x="561" width="130" y="846" height="1" fill="#4758a8"/><rect x="561" width="130" y="847" height="1" fill="#4558a7"/><rect x="561" width="130" y="848" height="1" fill="#4457a7"/><rect x="561" width="130" y="849" height="1" fill="#4357a7"/><rect x="561" width="130" y="850" height="1" fill="#4256a6"/><rect x="561" width="130" y="851" height="1" fill="#4557a7"/><rect x="561" width="130" y="852" height="1" fill="#4658a7"/><rect x="561" width="130" y="853" height="2" fill="#4859a8"/><rect x="561" width="130" y="855" height="1" fill="#4658a7"/><rect x="561" width="130" y="856" height="1" fill="#4859a8"/><rect x="561" width="130" y="857" height="1" fill="#4658a7"/><rect x="561" width="130" y="858" height="1" fill="#4557a7"/><rect x="561" width="130" y="859" height="1" fill="#4457a7"/><rect x="561" width="130" y="860" height="1" fill="#4557a7"/><rect x="561" width="130" y="861" height="1" fill="#4758a8"/><rect x="561" width="130" y="862" height="1" fill="#4558a7"/><rect x="561" width="130" y="863" height="2" fill="#4658a7"/><rect x="561" width="130" y="865" height="1" fill="#4357a7"/><rect x="561" width="130" y="866" height="2" fill="#4256a6"/><rect x="561" width="130" y="868" height="1" fill="#4457a7"/><rect x="561" width="130" y="869" height="1" fill="#4557a7"/><rect x="561" width="130" y="870" height="2" fill="#4658a7"/><rect x="561" width="130" y="872" height="1" fill="#4557a7"/><rect x="561" width="130" y="873" height="1" fill="#4658a7"/><rect x="561" width="130" y="874" height="1" fill="#4457a7"/><rect x="561" width="130" y="875" height="1" fill="#4156a6"/><rect x="561" width="130" y="876" height="1" fill="#4256a6"/><rect x="561" width="130" y="877" height="1" fill="#4055a6"/><rect x="561" width="130" y="878" height="1" fill="#505caa"/><rect x="561" width="130" y="879" height="3" fill="#4e5caa"/><rect x="561" width="130" y="882" height="2" fill="#4d5baa"/><rect x="561" width="130" y="884" height="1" fill="#4a5aa9"/><rect x="561" width="130" y="885" height="1" fill="#4c5ba9"/><rect x="561" width="130" y="886" height="1" fill="#4b5ba9"/><rect x="561" width="130" y="887" height="1" fill="#4e5caa"/><rect x="561" width="130" y="888" height="2" fill="#4959a8"/><rect x="561" width="130" y="890" height="1" fill="#4b5ba9"/><rect x="561" width="130" y="891" height="2" fill="#4959a8"/><rect x="561" width="130" y="893" height="1" fill="#4b5aa9"/><rect x="561" width="130" y="894" height="1" fill="#4d5baa"/><rect x="561" width="130" y="895" height="1" fill="#4b5aa9"/><rect x="561" width="130" y="896" height="1" fill="#4d5baa"/><rect x="561" width="130" y="897" height="1" fill="#4e5caa"/><rect x="561" width="130" y="898" height="1" fill="#4d5baa"/><rect x="561" width="130" y="899" height="1" fill="#5c62ae"/><rect x="561" width="130" y="900" height="1" fill="#5b62ae"/><rect x="561" width="130" y="901" height="1" fill="#5a61ae"/><rect x="561" width="130" y="902" height="1" fill="#5961ad"/><rect x="561" width="130" y="903" height="1" fill="#5b61ae"/><rect x="561" width="130" y="904" height="1" fill="#5a61ae"/><rect x="561" width="130" y="905" height="2" fill="#5e63af"/><rect x="561" width="130" y="907" height="1" fill="#5b61ae"/><rect x="561" width="130" y="908" height="1" fill="#5a61ae"/><rect x="561" width="130" y="909" height="1" fill="#5c62ae"/><rect x="561" width="130" y="910" height="1" fill="#5a61ae"/><rect x="561" width="130" y="911" height="1" fill="#5b62ae"/><rect x="561" width="130" y="912" height="1" fill="#5c62ae"/><rect x="561" width="130" y="913" height="1" fill="#5b62ae"/><rect x="561" width="130" y="914" height="1" fill="#535eac"/><rect x="561" width="130" y="915" height="1" fill="#555fac"/><rect x="561" width="130" y="916" height="1" fill="#5760ad"/><rect x="561" width="130" y="917" height="1" fill="#5860ad"/><rect x="561" width="130" y="918" height="1" fill="#565fad"/><rect x="561" width="130" y="919" height="1" fill="#5b62ae"/><rect x="561" width="130" y="920" height="1" fill="#5a61ae"/><rect x="561" width="130" y="921" height="1" fill="#5860ad"/><rect x="561" width="130" y="922" height="1" fill="#565fac"/><rect x="561" width="130" y="923" height="1" fill="#5860ad"/><rect x="561" width="130" y="924" height="1" fill="#555fac"/><rect x="561" width="130" y="925" height="1" fill="#535eac"/><rect x="561" width="130" y="926" height="1" fill="#5b62ae"/><rect x="561" width="130" y="927" height="1" fill="#5f64af"/><rect x="561" width="130" y="928" height="1" fill="#6065b0"/><rect x="561" width="130" y="929" height="1" fill="#6367b1"/><rect x="561" width="130" y="930" height="1" fill="#6267b1"/><rect x="561" width="130" y="931" height="1" fill="#5a61ae"/><rect x="561" width="130" y="932" height="1" fill="#5e63af"/><rect x="561" width="130" y="933" height="2" fill="#6065b0"/><rect x="561" width="130" y="935" height="1" fill="#5860ad"/><rect x="561" width="130" y="936" height="1" fill="#5c62ae"/><rect x="561" width="130" y="937" height="1" fill="#6064b0"/><rect x="561" width="130" y="938" height="2" fill="#5c62ae"/><rect x="561" width="130" y="940" height="1" fill="#5e63af"/><rect x="561" width="130" y="941" height="1" fill="#5c62ae"/><rect x="561" width="130" y="942" height="1" fill="#5f64af"/><rect x="561" width="130" y="943" height="1" fill="#5d63af"/><rect x="561" width="130" y="944" height="1" fill="#5e63af"/><rect x="561" width="130" y="945" height="1" fill="#5d63af"/><rect x="561" width="130" y="946" height="1" fill="#5860ad"/><rect x="561" width="130" y="947" height="1" fill="#555fac"/><rect x="561" width="130" y="948" height="1" fill="#6065b0"/><rect x="561" width="130" y="949" height="1" fill="#5f64b0"/><rect x="561" width="130" y="950" height="1" fill="#6166b1"/><rect x="561" width="130" y="951" height="1" fill="#6367b2"/><rect x="561" width="130" y="952" height="2" fill="#6368b2"/><rect x="561" width="130" y="954" height="1" fill="#5f64af"/><rect x="561" width="130" y="955" height="1" fill="#6469b2"/><rect x="561" width="130" y="956" height="1" fill="#5d63af"/><rect x="561" width="130" y="957" height="1" fill="#5e63af"/><rect x="561" width="130" y="958" height="1" fill="#6368b2"/><rect x="561" width="130" y="959" height="1" fill="#5b62ae"/><rect x="561" width="130" y="960" height="1" fill="#5f63af"/><rect x="561" width="130" y="961" height="1" fill="#6368b2"/><rect x="561" width="130" y="962" height="1" fill="#686db5"/><rect x="561" width="130" y="963" height="1" fill="#6468b2"/><rect x="561" width="130" y="964" height="1" fill="#6166b1"/><rect x="561" width="130" y="965" height="1" fill="#5b62ae"/><rect x="561" width="130" y="966" height="1" fill="#5a61ae"/><rect x="561" width="130" y="967" height="1" fill="#5f64af"/><rect x="561" width="130" y="968" height="1" fill="#686cb4"/><rect x="561" width="130" y="969" height="1" fill="#6267b1"/><rect x="561" width="130" y="970" height="1" fill="#686cb4"/><rect x="561" width="130" y="971" height="1" fill="#686db5"/><rect x="561" width="130" y="972" height="1" fill="#656ab3"/><rect x="561" width="130" y="973" height="1" fill="#6d71b7"/><rect x="561" width="130" y="974" height="1" fill="#6166b1"/><rect x="561" width="130" y="975" height="1" fill="#6267b1"/><rect x="561" width="130" y="976" height="1" fill="#6368b2"/><rect x="561" width="130" y="977" height="1" fill="#6b70b6"/><rect x="561" width="130" y="978" height="3" fill="#7074b9"/><rect x="561" width="130" y="981" height="1" fill="#6368b2"/><rect x="561" width="130" y="982" height="2" fill="#676bb4"/><rect x="561" width="130" y="984" height="1" fill="#666ab3"/><rect x="561" width="130" y="985" height="1" fill="#6368b2"/><rect x="561" width="130" y="986" height="1" fill="#6166b0"/><rect x="561" width="130" y="987" height="1" fill="#5c62ae"/><rect x="561" width="130" y="988" height="1" fill="#6469b2"/><rect x="561" width="130" y="989" height="1" fill="#6166b1"/><rect x="561" width="130" y="990" height="1" fill="#5961ad"/><rect x="561" width="130" y="991" height="1" fill="#5c62ae"/><rect x="561" width="130" y="992" height="1" fill="#5c62af"/><rect x="561" width="130" y="993" height="1" fill="#5e63af"/><rect x="561" width="130" y="994" height="1" fill="#656ab3"/><rect x="561" width="130" y="995" height="1" fill="#6368b2"/><rect x="561" width="130" y="996" height="1" fill="#6166b1"/><rect x="561" width="130" y="997" height="2" fill="#5e63af"/><rect x="561" width="130" y="999" height="1" fill="#5d62af"/><rect x="561" width="130" y="1000" height="1" fill="#5e63af"/><rect x="561" width="130" y="1001" height="1" fill="#6a6eb6"/><rect x="561" width="130" y="1002" height="1" fill="#696db5"/><rect x="561" width="130" y="1003" height="1" fill="#6367b2"/><rect x="561" width="130" y="1004" height="1" fill="#696db5"/><rect x="561" width="130" y="1005" height="1" fill="#696eb5"/><rect x="561" width="130" y="1006" height="1" fill="#6a6eb5"/><rect x="561" width="130" y="1007" height="1" fill="#696eb5"/><rect x="561" width="130" y="1008" height="1" fill="#6a6eb5"/><rect x="561" width="130" y="1009" height="1" fill="#696eb5"/><rect x="561" width="130" y="1010" height="1" fill="#7477bb"/><rect x="561" width="130" y="1011" height="1" fill="#767abc"/><rect x="561" width="130" y="1012" height="1" fill="#7a7dbe"/><rect x="561" width="130" y="1013" height="1" fill="#7478bb"/><rect x="561" width="130" y="1014" height="1" fill="#7276ba"/><rect x="561" width="130" y="1015" height="1" fill="#6e72b8"/><rect x="561" width="130" y="1016" height="1" fill="#7276ba"/><rect x="561" width="130" y="1017" height="1" fill="#7478bb"/><rect x="561" width="130" y="1018" height="1" fill="#7074b9"/><rect x="561" width="130" y="1019" height="1" fill="#7276ba"/><rect x="561" width="130" y="1020" height="2" fill="#7c7fbf"/><rect x="561" width="130" y="1022" height="1" fill="#7478bb"/><rect x="561" width="130" y="1023" height="1" fill="#7276ba"/><rect x="561" width="130" y="1024" height="1" fill="#7377bb"/><rect x="561" width="130" y="1025" height="1" fill="#7275ba"/><rect x="561" width="130" y="1026" height="1" fill="#7276ba"/><rect x="561" width="130" y="1027" height="1" fill="#767abc"/><rect x="561" width="130" y="1028" height="1" fill="#7579bb"/><rect x="561" width="130" y="1029" height="1" fill="#6e72b8"/><rect x="561" width="130" y="1030" height="1" fill="#7175b9"/><rect x="561" width="130" y="1031" height="2" fill="#7074b9"/><rect x="561" width="130" y="1033" height="1" fill="#6d71b7"/><rect x="561" width="130" y="1034" height="1" fill="#676bb4"/><rect x="561" width="130" y="1035" height="1" fill="#6368b2"/><rect x="561" width="130" y="1036" height="1" fill="#6367b2"/><rect x="561" width="130" y="1037" height="1" fill="#5f64b0"/><rect x="561" width="130" y="1038" height="1" fill="#5860ad"/><rect x="561" width="130" y="1039" height="1" fill="#5e63af"/><rect x="561" width="130" y="1040" height="1" fill="#5c62ae"/><rect x="561" width="130" y="1041" height="1" fill="#5b62ae"/><rect x="561" width="130" y="1042" height="1" fill="#6065b0"/><rect x="561" width="130" y="1043" height="1" fill="#5860ad"/><rect x="561" width="130" y="1044" height="1" fill="#6065b0"/><rect x="561" width="130" y="1045" height="1" fill="#5e63af"/><rect x="561" width="130" y="1046" height="1" fill="#6267b1"/><rect x="561" width="130" y="1047" height="1" fill="#6166b1"/><rect x="561" width="130" y="1048" height="1" fill="#6368b2"/><rect x="561" width="130" y="1049" height="2" fill="#6468b2"/><rect x="561" width="130" y="1051" height="1" fill="#5d63af"/><rect x="561" width="130" y="1052" height="1" fill="#5a61ae"/><rect x="561" width="130" y="1053" height="1" fill="#5c62ae"/><rect x="561" width="130" y="1054" height="1" fill="#6468b2"/><rect x="561" width="130" y="1055" height="1" fill="#6267b1"/><rect x="561" width="130" y="1056" height="1" fill="#6469b2"/><rect x="561" width="130" y="1057" height="1" fill="#6569b3"/><rect x="561" width="130" y="1058" height="1" fill="#4156a6"/><rect x="561" width="130" y="1059" height="1" fill="#4256a6"/><rect x="561" width="130" y="1060" height="1" fill="#4055a5"/><rect x="561" width="130" y="1061" height="2" fill="#4055a6"/><rect x="561" width="130" y="1063" height="1" fill="#4055a5"/><rect x="561" width="130" y="1064" height="1" fill="#3f55a5"/><rect x="561" width="130" y="1065" height="2" fill="#3e54a5"/><rect x="561" width="130" y="1067" height="1" fill="#3d54a5"/><rect x="561" width="130" y="1068" height="1" fill="#4156a6"/><rect x="561" width="130" y="1069" height="1" fill="#4357a6"/><rect x="561" width="130" y="1070" height="1" fill="#4256a6"/><rect x="561" width="130" y="1071" height="1" fill="#4356a6"/><rect x="561" width="130" y="1072" height="1" fill="#4156a6"/><rect x="561" width="130" y="1073" height="1" fill="#3d54a5"/><rect x="561" width="130" y="1074" height="1" fill="#3c54a4"/><rect x="561" width="130" y="1075" height="1" fill="#3d54a5"/><rect x="561" width="130" y="1076" height="2" fill="#4055a6"/><rect x="561" width="130" y="1078" height="2" fill="#3f55a5"/><rect x="561" width="130" y="1080" height="1" fill="#3e54a5"/><rect x="561" width="130" y="1081" height="1" fill="#3d54a5"/><rect x="561" width="130" y="1082" height="3" fill="#3e54a5"/><rect x="561" width="130" y="1085" height="2" fill="#3d54a5"/><rect x="561" width="130" y="1087" height="1" fill="#3e54a5"/><rect x="561" width="130" y="1088" height="1" fill="#4056a6"/><rect x="561" width="130" y="1089" height="1" fill="#4055a6"/><rect x="561" width="130" y="1090" height="1" fill="#4357a7"/><rect x="561" width="130" y="1091" height="1" fill="#4758a8"/><rect x="561" width="130" y="1092" height="1" fill="#4859a8"/><rect x="561" width="130" y="1093" height="1" fill="#4658a8"/><rect x="561" width="130" y="1094" height="1" fill="#4759a8"/><rect x="561" width="130" y="1095" height="1" fill="#4859a8"/><rect x="561" width="130" y="1096" height="1" fill="#4a5aa9"/><rect x="561" width="130" y="1097" height="1" fill="#4c5ba9"/><rect x="561" width="130" y="1098" height="1" fill="#4a5aa9"/><rect x="561" width="130" y="1099" height="2" fill="#4859a8"/><rect x="561" width="130" y="1101" height="1" fill="#4959a8"/><rect x="561" width="130" y="1102" height="1" fill="#4859a8"/><rect x="561" width="130" y="1103" height="1" fill="#4a5aa9"/><rect x="561" width="130" y="1104" height="1" fill="#4d5baa"/><rect x="561" width="130" y="1105" height="2" fill="#4a5aa9"/><rect x="561" width="130" y="1107" height="1" fill="#4c5ba9"/><rect x="561" width="130" y="1108" height="1" fill="#4859a8"/><rect x="561" width="130" y="1109" height="2" fill="#4558a7"/><rect x="561" width="130" y="1111" height="1" fill="#4256a6"/><rect x="561" width="130" y="1112" height="2" fill="#4658a7"/><rect x="561" width="130" y="1114" height="1" fill="#4557a7"/><rect x="561" width="130" y="1115" height="1" fill="#4658a7"/><rect x="561" width="130" y="1116" height="1" fill="#4758a8"/><rect x="561" width="130" y="1117" height="3" fill="#4859a8"/><rect x="561" width="130" y="1120" height="1" fill="#4558a7"/><rect x="561" width="130" y="1121" height="1" fill="#4457a7"/><rect x="561" width="130" y="1122" height="1" fill="#4557a7"/><rect x="561" width="130" y="1123" height="1" fill="#4055a5"/><rect x="561" width="130" y="1124" height="1" fill="#4558a7"/><rect x="561" width="130" y="1125" height="1" fill="#4457a7"/><rect x="561" width="130" y="1126" height="1" fill="#4356a6"/><rect x="561" width="130" y="1127" height="1" fill="#4055a6"/><rect x="561" width="130" y="1128" height="1" fill="#4256a6"/><rect x="561" width="130" y="1129" height="1" fill="#4357a6"/><rect x="561" width="130" y="1130" height="2" fill="#4256a6"/><rect x="561" width="130" y="1132" height="2" fill="#4156a6"/><rect x="561" width="130" y="1134" height="2" fill="#4256a6"/><rect x="561" width="130" y="1136" height="3" fill="#4457a7"/><rect x="561" width="130" y="1139" height="1" fill="#4558a7"/><rect x="561" width="130" y="1140" height="3" fill="#4859a8"/><rect x="561" width="130" y="1143" height="1" fill="#4758a8"/><rect x="561" width="130" y="1144" height="1" fill="#4557a7"/><rect x="561" width="130" y="1145" height="1" fill="#4457a7"/><rect x="561" width="130" y="1146" height="2" fill="#4658a7"/><rect x="561" width="130" y="1148" height="1" fill="#4558a7"/><rect x="561" width="130" y="1149" height="1" fill="#4256a6"/><rect x="561" width="130" y="1150" height="1" fill="#4055a6"/><rect x="561" width="130" y="1151" height="1" fill="#4256a6"/><rect x="561" width="130" y="1152" height="1" fill="#4558a7"/><rect x="561" width="130" y="1153" height="1" fill="#4658a7"/><rect x="561" width="130" y="1154" height="1" fill="#4357a6"/><rect x="561" width="130" y="1155" height="1" fill="#4357a7"/><rect x="561" width="130" y="1156" height="1" fill="#4457a7"/><rect x="561" width="130" y="1157" height="1" fill="#4356a6"/><rect x="561" width="130" y="1158" height="2" fill="#4457a7"/><rect x="561" width="130" y="1160" height="1" fill="#4357a6"/><rect x="561" width="130" y="1161" height="1" fill="#4156a6"/><rect x="561" width="130" y="1162" height="1" fill="#4457a7"/><rect x="561" width="130" y="1163" height="1" fill="#4557a7"/><rect x="561" width="130" y="1164" height="1" fill="#4357a7"/><rect x="561" width="130" y="1165" height="1" fill="#4c5ba9"/><rect x="561" width="130" y="1166" height="1" fill="#4f5caa"/><rect x="561" width="130" y="1167" height="1" fill="#505dab"/><rect x="561" width="130" y="1168" height="1" fill="#4f5caa"/><rect x="561" width="130" y="1169" height="1" fill="#535eac"/><rect x="561" width="130" y="1170" height="1" fill="#515dab"/><rect x="561" width="130" y="1171" height="1" fill="#4e5caa"/><rect x="561" width="130" y="1172" height="1" fill="#515dab"/><rect x="561" width="130" y="1173" height="1" fill="#505caa"/><rect x="561" width="130" y="1174" height="2" fill="#505dab"/><rect x="561" width="130" y="1176" height="1" fill="#4d5baa"/><rect x="561" width="130" y="1177" height="1" fill="#4a5aa9"/><rect x="561" width="130" y="1178" height="1" fill="#4b5aa9"/><rect x="561" width="130" y="1179" height="1" fill="#505caa"/><rect x="561" width="130" y="1180" height="1" fill="#4d5baa"/><rect x="561" width="130" y="1181" height="2" fill="#515dab"/><rect x="561" width="130" y="1183" height="1" fill="#4d5baa"/><rect x="561" width="130" y="1184" height="1" fill="#4e5caa"/><rect x="561" width="130" y="1185" height="1" fill="#505dab"/><rect x="561" width="130" y="1186" height="1" fill="#4d5baa"/>
</g>
<text x="240.00" y="1232.80" font-size="39.3" text-anchor="middle">E15.5</text>
<text x="369.50" y="1232.80" font-size="39.3" text-anchor="middle">E17.5</text>
<text x="497.50" y="1232.80" font-size="39.3" text-anchor="middle">P1</text>
<text x="629.20" y="1232.80" font-size="39.3" text-anchor="middle">P7</text>
<rect x="716.6" y="557.0" width="117.6" height="469.5" fill="#fff" stroke="#000" stroke-width="2.6"/>
<linearGradient id="cbc" x1="0" y1="0" x2="0" y2="1"><stop offset="0.000" stop-color="#ed2024"/><stop offset="0.052" stop-color="#ed2227"/><stop offset="0.100" stop-color="#ee3439"/><stop offset="0.148" stop-color="#ef474c"/><stop offset="0.200" stop-color="#f05d62"/><stop offset="0.248" stop-color="#f27479"/><stop offset="0.308" stop-color="#f5999d"/><stop offset="0.356" stop-color="#f8b5b8"/><stop offset="0.400" stop-color="#facbcd"/><stop offset="0.440" stop-color="#fce0e1"/><stop offset="0.480" stop-color="#fef2f2"/><stop offset="0.500" stop-color="#ffffff"/><stop offset="0.506" stop-color="#fafafd"/><stop offset="0.548" stop-color="#eceaf5"/><stop offset="0.600" stop-color="#cfcde7"/><stop offset="0.652" stop-color="#b0add7"/><stop offset="0.704" stop-color="#9492ca"/><stop offset="0.752" stop-color="#7b7dbe"/><stop offset="0.800" stop-color="#666bb4"/><stop offset="0.848" stop-color="#565eac"/><stop offset="0.896" stop-color="#4a59a8"/><stop offset="0.948" stop-color="#4055a5"/><stop offset="1.000" stop-color="#3b53a4"/></linearGradient>
<rect x="730.2" y="566.3" width="42.6" height="450.5" rx="3" fill="url(#cbc)"/>
<text x="782.60" y="577.70" font-size="24.5">1.5</text>
<text x="782.60" y="666.25" font-size="24.5">1.0</text>
<text x="782.60" y="754.80" font-size="24.5">0.5</text>
<text x="782.60" y="843.35" font-size="24.5">0.0</text>
<text x="781.80" y="931.90" font-size="24.5">–0.5</text>
<text x="781.80" y="1020.45" font-size="24.5">–1.0</text>
</g>
<g id="panel-d">
<text x="884.50" y="757.60" font-size="43" font-weight="bold">d</text>
<g>
<rect x="1064.6" y="744.00" width="126.6" height="28.86" fill="#fef0f0"/>
<rect x="1190.8" y="744.00" width="126.6" height="28.86" fill="#ee2e32"/>
<rect x="1317.0" y="744.00" width="126.5" height="28.86" fill="#7377ba"/>
<rect x="1443.1" y="744.00" width="126.2" height="28.86" fill="#3f55a5"/>
<rect x="1064.6" y="772.56" width="126.6" height="28.86" fill="#fde3e3"/>
<rect x="1190.8" y="772.56" width="126.6" height="28.86" fill="#ee3236"/>
<rect x="1317.0" y="772.56" width="126.5" height="28.86" fill="#656ab3"/>
<rect x="1443.1" y="772.56" width="126.2" height="28.86" fill="#4256a6"/>
<rect x="1064.6" y="801.12" width="126.6" height="28.86" fill="#fcd9da"/>
<rect x="1190.8" y="801.12" width="126.6" height="28.86" fill="#ee3e42"/>
<rect x="1317.0" y="801.12" width="126.5" height="28.86" fill="#7377ba"/>
<rect x="1443.1" y="801.12" width="126.2" height="28.86" fill="#3b53a4"/>
<rect x="1064.6" y="829.68" width="126.6" height="28.86" fill="#fbccce"/>
<rect x="1190.8" y="829.68" width="126.6" height="28.86" fill="#ef4347"/>
<rect x="1317.0" y="829.68" width="126.5" height="28.86" fill="#686cb4"/>
<rect x="1443.1" y="829.68" width="126.2" height="28.86" fill="#3b53a4"/>
<rect x="1064.6" y="858.24" width="126.6" height="28.86" fill="#f7f6fb"/>
<rect x="1190.8" y="858.24" width="126.6" height="28.86" fill="#ed2529"/>
<rect x="1317.0" y="858.24" width="126.5" height="28.86" fill="#5b62ae"/>
<rect x="1443.1" y="858.24" width="126.2" height="28.86" fill="#4c5ba9"/>
<rect x="1064.6" y="886.80" width="126.6" height="28.86" fill="#e6e5f2"/>
<rect x="1190.8" y="886.80" width="126.6" height="28.86" fill="#ed2428"/>
<rect x="1317.0" y="886.80" width="126.5" height="28.86" fill="#5f64b0"/>
<rect x="1443.1" y="886.80" width="126.2" height="28.86" fill="#4959a8"/>
<rect x="1064.6" y="915.37" width="126.6" height="28.86" fill="#eeeef7"/>
<rect x="1190.8" y="915.37" width="126.6" height="28.86" fill="#ed292d"/>
<rect x="1317.0" y="915.37" width="126.5" height="28.86" fill="#6c70b7"/>
<rect x="1443.1" y="915.37" width="126.2" height="28.86" fill="#4256a6"/>
<rect x="1064.6" y="943.93" width="126.6" height="28.86" fill="#a7a6d4"/>
<rect x="1190.8" y="943.93" width="126.6" height="28.86" fill="#ed2024"/>
<rect x="1317.0" y="943.93" width="126.5" height="28.86" fill="#7377ba"/>
<rect x="1443.1" y="943.93" width="126.2" height="28.86" fill="#545fac"/>
<rect x="1064.6" y="972.49" width="126.6" height="28.86" fill="#c1c0e0"/>
<rect x="1190.8" y="972.49" width="126.6" height="28.86" fill="#ed2024"/>
<rect x="1317.0" y="972.49" width="126.5" height="28.86" fill="#6c70b7"/>
<rect x="1443.1" y="972.49" width="126.2" height="28.86" fill="#515dab"/>
<rect x="1064.6" y="1001.05" width="126.6" height="28.86" fill="#8d8fc8"/>
<rect x="1190.8" y="1001.05" width="126.6" height="28.86" fill="#ed2024"/>
<rect x="1317.0" y="1001.05" width="126.5" height="28.86" fill="#7377ba"/>
<rect x="1443.1" y="1001.05" width="126.2" height="28.86" fill="#6267b1"/>
<rect x="1064.6" y="1029.61" width="126.6" height="28.86" fill="#999acd"/>
<rect x="1190.8" y="1029.61" width="126.6" height="28.86" fill="#ed2024"/>
<rect x="1317.0" y="1029.61" width="126.5" height="28.86" fill="#6f73b8"/>
<rect x="1443.1" y="1029.61" width="126.2" height="28.86" fill="#6166b1"/>
<rect x="1064.6" y="1058.17" width="126.6" height="28.86" fill="#f6a4a7"/>
<rect x="1190.8" y="1058.17" width="126.6" height="28.86" fill="#ef5155"/>
<rect x="1317.0" y="1058.17" width="126.5" height="28.86" fill="#545fac"/>
<rect x="1443.1" y="1058.17" width="126.2" height="28.86" fill="#4557a7"/>
<rect x="1064.6" y="1086.73" width="126.6" height="28.86" fill="#f9bbbd"/>
<rect x="1190.8" y="1086.73" width="126.6" height="28.86" fill="#ef474b"/>
<rect x="1317.0" y="1086.73" width="126.5" height="28.86" fill="#545fac"/>
<rect x="1443.1" y="1086.73" width="126.2" height="28.86" fill="#4557a7"/>
<rect x="1064.6" y="1115.29" width="126.6" height="28.86" fill="#f6a0a3"/>
<rect x="1190.8" y="1115.29" width="126.6" height="28.86" fill="#f05559"/>
<rect x="1317.0" y="1115.29" width="126.5" height="28.86" fill="#4f5caa"/>
<rect x="1443.1" y="1115.29" width="126.2" height="28.86" fill="#4256a6"/>
<rect x="1064.6" y="1143.85" width="126.6" height="28.86" fill="#f59b9e"/>
<rect x="1190.8" y="1143.85" width="126.6" height="28.86" fill="#f0585c"/>
<rect x="1317.0" y="1143.85" width="126.5" height="28.86" fill="#4d5baa"/>
<rect x="1443.1" y="1143.85" width="126.2" height="28.86" fill="#4557a7"/>
<rect x="1064.6" y="1172.41" width="126.6" height="28.86" fill="#f38084"/>
<rect x="1190.8" y="1172.41" width="126.6" height="28.86" fill="#f27478"/>
<rect x="1317.0" y="1172.41" width="126.5" height="28.86" fill="#5b62ae"/>
<rect x="1443.1" y="1172.41" width="126.2" height="28.86" fill="#4156a6"/>
<rect x="1064.6" y="1200.97" width="126.6" height="28.86" fill="#f59b9e"/>
<rect x="1190.8" y="1200.97" width="126.6" height="28.86" fill="#f06165"/>
<rect x="1317.0" y="1200.97" width="126.5" height="28.86" fill="#656ab3"/>
<rect x="1443.1" y="1200.97" width="126.2" height="28.86" fill="#3b53a4"/>
<rect x="1064.6" y="1229.53" width="126.6" height="28.86" fill="#f0585c"/>
<rect x="1190.8" y="1229.53" width="126.6" height="28.86" fill="#f59b9e"/>
<rect x="1317.0" y="1229.53" width="126.5" height="28.86" fill="#545fac"/>
<rect x="1443.1" y="1229.53" width="126.2" height="28.86" fill="#4256a6"/>
<rect x="1064.6" y="1258.10" width="126.6" height="28.86" fill="#f0585c"/>
<rect x="1190.8" y="1258.10" width="126.6" height="28.86" fill="#f6a0a3"/>
<rect x="1317.0" y="1258.10" width="126.5" height="28.86" fill="#4d5baa"/>
<rect x="1443.1" y="1258.10" width="126.2" height="28.86" fill="#4557a7"/>
<rect x="1064.6" y="1286.66" width="126.6" height="28.86" fill="#f2777b"/>
<rect x="1190.8" y="1286.66" width="126.6" height="28.86" fill="#f38487"/>
<rect x="1317.0" y="1286.66" width="126.5" height="28.86" fill="#4357a7"/>
<rect x="1443.1" y="1286.66" width="126.2" height="28.86" fill="#4658a8"/>
<rect x="1064.6" y="1315.22" width="126.6" height="28.86" fill="#ee2e32"/>
<rect x="1190.8" y="1315.22" width="126.6" height="28.86" fill="#fdeaeb"/>
<rect x="1317.0" y="1315.22" width="126.5" height="28.86" fill="#6267b1"/>
<rect x="1443.1" y="1315.22" width="126.2" height="28.86" fill="#4256a6"/>
<rect x="1064.6" y="1343.78" width="126.6" height="28.86" fill="#ee2e32"/>
<rect x="1190.8" y="1343.78" width="126.6" height="28.86" fill="#fde3e3"/>
<rect x="1317.0" y="1343.78" width="126.5" height="28.86" fill="#565fac"/>
<rect x="1443.1" y="1343.78" width="126.2" height="28.86" fill="#4557a7"/>
<rect x="1064.6" y="1372.34" width="126.6" height="28.86" fill="#ee3a3e"/>
<rect x="1190.8" y="1372.34" width="126.6" height="28.86" fill="#fbd0d1"/>
<rect x="1317.0" y="1372.34" width="126.5" height="28.86" fill="#5e63af"/>
<rect x="1443.1" y="1372.34" width="126.2" height="28.86" fill="#4156a6"/>
<rect x="1064.6" y="1400.90" width="126.6" height="28.86" fill="#ee4044"/>
<rect x="1190.8" y="1400.90" width="126.6" height="28.86" fill="#fbccce"/>
<rect x="1317.0" y="1400.90" width="126.5" height="28.86" fill="#545fac"/>
<rect x="1443.1" y="1400.90" width="126.2" height="28.86" fill="#4256a6"/>
<rect x="1064.6" y="1429.46" width="126.6" height="28.86" fill="#ed2428"/>
<rect x="1190.8" y="1429.46" width="126.6" height="28.86" fill="#f7f6fb"/>
<rect x="1317.0" y="1429.46" width="126.5" height="28.86" fill="#5d62af"/>
<rect x="1443.1" y="1429.46" width="126.2" height="28.86" fill="#4859a8"/>
<rect x="1064.6" y="1458.02" width="126.6" height="28.86" fill="#ed2428"/>
<rect x="1190.8" y="1458.02" width="126.6" height="28.86" fill="#f8f8fc"/>
<rect x="1317.0" y="1458.02" width="126.5" height="28.86" fill="#5860ad"/>
<rect x="1443.1" y="1458.02" width="126.2" height="28.86" fill="#4959a8"/>
<rect x="1064.6" y="1486.58" width="126.6" height="28.86" fill="#ed2428"/>
<rect x="1190.8" y="1486.58" width="126.6" height="28.86" fill="#eeeef7"/>
<rect x="1317.0" y="1486.58" width="126.5" height="28.86" fill="#656ab3"/>
<rect x="1443.1" y="1486.58" width="126.2" height="28.86" fill="#4959a8"/>
<rect x="1064.6" y="1515.14" width="126.6" height="28.86" fill="#ed2428"/>
<rect x="1190.8" y="1515.14" width="126.6" height="28.86" fill="#edecf6"/>
<rect x="1317.0" y="1515.14" width="126.5" height="28.86" fill="#5760ad"/>
<rect x="1443.1" y="1515.14" width="126.2" height="28.86" fill="#515dab"/>
<rect x="1064.6" y="1543.70" width="126.6" height="28.86" fill="#ed2428"/>
<rect x="1190.8" y="1543.70" width="126.6" height="28.86" fill="#f7f6fb"/>
<rect x="1317.0" y="1543.70" width="126.5" height="28.86" fill="#545fac"/>
<rect x="1443.1" y="1543.70" width="126.2" height="28.86" fill="#505dab"/>
<rect x="1064.6" y="1572.27" width="126.6" height="28.86" fill="#ef4f53"/>
<rect x="1190.8" y="1572.27" width="126.6" height="28.86" fill="#f7adaf"/>
<rect x="1317.0" y="1572.27" width="126.5" height="28.86" fill="#696eb5"/>
<rect x="1443.1" y="1572.27" width="126.2" height="28.86" fill="#3c54a4"/>
<rect x="1064.6" y="1600.83" width="126.6" height="28.86" fill="#ef4f53"/>
<rect x="1190.8" y="1600.83" width="126.6" height="28.86" fill="#f7b0b3"/>
<rect x="1317.0" y="1600.83" width="126.5" height="28.86" fill="#656ab3"/>
<rect x="1443.1" y="1600.83" width="126.2" height="28.86" fill="#3c54a4"/>
<rect x="1064.6" y="1629.39" width="126.6" height="28.86" fill="#ef5155"/>
<rect x="1190.8" y="1629.39" width="126.6" height="28.86" fill="#f8b2b4"/>
<rect x="1317.0" y="1629.39" width="126.5" height="28.86" fill="#5860ad"/>
<rect x="1443.1" y="1629.39" width="126.2" height="28.86" fill="#3c54a4"/>
<rect x="1064.6" y="1657.95" width="126.6" height="28.86" fill="#f05559"/>
<rect x="1190.8" y="1657.95" width="126.6" height="28.86" fill="#f8b6b8"/>
<rect x="1317.0" y="1657.95" width="126.5" height="28.86" fill="#7a7dbe"/>
<rect x="1443.1" y="1657.95" width="126.2" height="28.86" fill="#3b53a4"/>
<rect x="1064.6" y="1686.51" width="126.6" height="28.86" fill="#f0585c"/>
<rect x="1190.8" y="1686.51" width="126.6" height="28.86" fill="#f7adaf"/>
<rect x="1317.0" y="1686.51" width="126.5" height="28.86" fill="#7478bb"/>
<rect x="1443.1" y="1686.51" width="126.2" height="28.86" fill="#3b53a4"/>
<rect x="1064.6" y="1715.07" width="126.6" height="28.86" fill="#ee3a3e"/>
<rect x="1190.8" y="1715.07" width="126.6" height="28.86" fill="#fcd9da"/>
<rect x="1317.0" y="1715.07" width="126.5" height="28.86" fill="#8689c4"/>
<rect x="1443.1" y="1715.07" width="126.2" height="28.86" fill="#3b53a4"/>
<rect x="1064.6" y="1743.63" width="126.6" height="28.86" fill="#ed2428"/>
<rect x="1190.8" y="1743.63" width="126.6" height="28.86" fill="#cdcce6"/>
<rect x="1317.0" y="1743.63" width="126.5" height="28.86" fill="#656ab3"/>
<rect x="1443.1" y="1743.63" width="126.2" height="28.86" fill="#4f5caa"/>
<rect x="1064.6" y="1772.19" width="126.6" height="28.86" fill="#ed2024"/>
<rect x="1190.8" y="1772.19" width="126.6" height="28.86" fill="#cecde7"/>
<rect x="1317.0" y="1772.19" width="126.5" height="28.86" fill="#6267b1"/>
<rect x="1443.1" y="1772.19" width="126.2" height="28.86" fill="#505dab"/>
<rect x="1064.6" y="1800.75" width="126.6" height="28.86" fill="#ed2024"/>
<rect x="1190.8" y="1800.75" width="126.6" height="28.86" fill="#d2d1e8"/>
<rect x="1317.0" y="1800.75" width="126.5" height="28.86" fill="#5860ad"/>
<rect x="1443.1" y="1800.75" width="126.2" height="28.86" fill="#5860ad"/>
<rect x="1064.6" y="1829.31" width="126.6" height="28.86" fill="#ed2024"/>
<rect x="1190.8" y="1829.31" width="126.6" height="28.86" fill="#b4b3da"/>
<rect x="1317.0" y="1829.31" width="126.5" height="28.86" fill="#5e63af"/>
<rect x="1443.1" y="1829.31" width="126.2" height="28.86" fill="#5a61ae"/>
<rect x="1064.6" y="1857.87" width="126.6" height="28.86" fill="#ed2024"/>
<rect x="1190.8" y="1857.87" width="126.6" height="28.86" fill="#b6b5db"/>
<rect x="1317.0" y="1857.87" width="126.5" height="28.86" fill="#6d72b7"/>
<rect x="1443.1" y="1857.87" width="126.2" height="28.86" fill="#515dab"/>
<rect x="1064.6" y="1886.43" width="126.6" height="28.86" fill="#ed2024"/>
<rect x="1190.8" y="1886.43" width="126.6" height="28.86" fill="#8689c4"/>
<rect x="1317.0" y="1886.43" width="126.5" height="28.86" fill="#797cbd"/>
<rect x="1443.1" y="1886.43" width="126.2" height="28.86" fill="#6267b1"/>
<rect x="1064.6" y="1915.00" width="126.6" height="28.86" fill="#ed2024"/>
<rect x="1190.8" y="1915.00" width="126.6" height="28.86" fill="#7e81c0"/>
<rect x="1317.0" y="1915.00" width="126.5" height="28.86" fill="#7e81c0"/>
<rect x="1443.1" y="1915.00" width="126.2" height="28.86" fill="#656ab3"/>
<rect x="1064.6" y="1943.56" width="126.6" height="28.86" fill="#ed2024"/>
<rect x="1190.8" y="1943.56" width="126.6" height="28.86" fill="#797cbd"/>
<rect x="1317.0" y="1943.56" width="126.5" height="28.86" fill="#797cbd"/>
<rect x="1443.1" y="1943.56" width="126.2" height="28.86" fill="#6b6fb6"/>
<rect x="1064.6" y="1972.12" width="126.6" height="28.86" fill="#ed2024"/>
<rect x="1190.8" y="1972.12" width="126.6" height="28.86" fill="#7e81c0"/>
<rect x="1317.0" y="1972.12" width="126.5" height="28.86" fill="#7074b9"/>
<rect x="1443.1" y="1972.12" width="126.2" height="28.86" fill="#696eb5"/>
<rect x="1064.6" y="2000.68" width="126.6" height="28.86" fill="#ed2024"/>
<rect x="1190.8" y="2000.68" width="126.6" height="28.86" fill="#7e81c0"/>
<rect x="1317.0" y="2000.68" width="126.5" height="28.86" fill="#7478bb"/>
<rect x="1443.1" y="2000.68" width="126.2" height="28.86" fill="#6b6fb6"/>
<rect x="1064.6" y="2029.24" width="126.6" height="28.86" fill="#ed2024"/>
<rect x="1190.8" y="2029.24" width="126.6" height="28.86" fill="#7d80c0"/>
<rect x="1317.0" y="2029.24" width="126.5" height="28.86" fill="#6f73b8"/>
<rect x="1443.1" y="2029.24" width="126.2" height="28.86" fill="#6b6fb6"/>
</g>
<text x="1048.40" y="769.18" font-size="29.3" text-anchor="end">Serpinh1</text>
<text x="1048.40" y="797.74" font-size="29.3" text-anchor="end">Hoxc10</text>
<text x="1048.40" y="826.30" font-size="29.3" text-anchor="end">Myh10</text>
<text x="1048.40" y="854.86" font-size="29.3" text-anchor="end">Ephb2</text>
<text x="1048.40" y="883.42" font-size="29.3" text-anchor="end">Srpx2</text>
<text x="1048.40" y="911.98" font-size="29.3" text-anchor="end">Cgref1</text>
<text x="1048.40" y="940.55" font-size="29.3" text-anchor="end">Ddr2</text>
<text x="1048.40" y="969.11" font-size="29.3" text-anchor="end" fill="#ed2024">P4ha2</text>
<text x="1048.40" y="997.67" font-size="29.3" text-anchor="end">Igsf10</text>
<text x="1048.40" y="1026.23" font-size="29.3" text-anchor="end">Osm</text>
<text x="1048.40" y="1054.79" font-size="29.3" text-anchor="end">Adora3</text>
<text x="1048.40" y="1083.35" font-size="29.3" text-anchor="end">Reck</text>
<text x="1048.40" y="1111.91" font-size="29.3" text-anchor="end" fill="#ed2024">Kdelr3</text>
<text x="1048.40" y="1140.47" font-size="29.3" text-anchor="end">Tmem8</text>
<text x="1048.40" y="1169.03" font-size="29.3" text-anchor="end">Smarca1</text>
<text x="1048.40" y="1197.59" font-size="29.3" text-anchor="end">Jazf1</text>
<text x="1048.40" y="1226.15" font-size="29.3" text-anchor="end">Fkbp7</text>
<text x="1048.40" y="1254.72" font-size="29.3" text-anchor="end">Zfp449</text>
<text x="1048.40" y="1283.28" font-size="29.3" text-anchor="end">Triqk</text>
<text x="1048.40" y="1311.84" font-size="29.3" text-anchor="end">Ren1</text>
<text x="1048.40" y="1340.40" font-size="29.3" text-anchor="end">Igf2bp2</text>
<text x="1048.40" y="1368.96" font-size="29.3" text-anchor="end">Grb10</text>
<text x="1048.40" y="1397.52" font-size="29.3" text-anchor="end">Dpysl4</text>
<text x="1048.40" y="1426.08" font-size="29.3" text-anchor="end">Cmbl</text>
<text x="1048.40" y="1454.64" font-size="29.3" text-anchor="end">Pde3b</text>
<text x="1048.40" y="1483.20" font-size="29.3" text-anchor="end" fill="#ed2024">Dab2</text>
<text x="1048.40" y="1511.76" font-size="29.3" text-anchor="end">Ppp1r9a</text>
<text x="1048.40" y="1540.32" font-size="29.3" text-anchor="end">Qprt</text>
<text x="1048.40" y="1568.88" font-size="29.3" text-anchor="end">Peg10</text>
<text x="1048.40" y="1597.45" font-size="29.3" text-anchor="end">Nid1</text>
<text x="1048.40" y="1626.01" font-size="29.3" text-anchor="end">Efnb3</text>
<text x="1048.40" y="1654.57" font-size="29.3" text-anchor="end">Colgalt2</text>
<text x="1048.40" y="1683.13" font-size="29.3" text-anchor="end">Dbn1</text>
<text x="1048.40" y="1711.69" font-size="29.3" text-anchor="end">C1qtnf3</text>
<text x="1048.40" y="1740.25" font-size="29.3" text-anchor="end">Cdc7</text>
<text x="1048.40" y="1768.81" font-size="29.3" text-anchor="end">Mdk</text>
<text x="1048.40" y="1797.37" font-size="29.3" text-anchor="end" fill="#ed2024">Gulp1</text>
<text x="1048.40" y="1825.93" font-size="29.3" text-anchor="end">Hoxd13</text>
<text x="1048.40" y="1854.49" font-size="29.3" text-anchor="end">Eya4</text>
<text x="1048.40" y="1883.05" font-size="29.3" text-anchor="end">Depdc1a</text>
<text x="1048.40" y="1911.62" font-size="29.3" text-anchor="end">Crabp2</text>
<text x="1048.40" y="1940.18" font-size="29.3" text-anchor="end">Atp10b</text>
<text x="1048.40" y="1968.74" font-size="29.3" text-anchor="end">Ttyh1</text>
<text x="1048.40" y="1997.30" font-size="29.3" text-anchor="end">Slitrk2</text>
<text x="1048.40" y="2025.86" font-size="29.3" text-anchor="end">Elovl2</text>
<text x="1048.40" y="2054.42" font-size="29.3" text-anchor="end">Stk32b</text>
<text x="1126.00" y="2092.30" font-size="29.3" text-anchor="middle">E15.5</text>
<text x="1255.00" y="2092.30" font-size="29.3" text-anchor="middle">E17.5</text>
<text x="1382.00" y="2092.30" font-size="29.3" text-anchor="middle">P1</text>
<text x="1512.20" y="2092.30" font-size="29.3" text-anchor="middle">P7</text>
<rect x="1605.6" y="1064.1" width="134.2" height="535" fill="#fff" stroke="#000" stroke-width="2.6"/>
<linearGradient id="cbd" x1="0" y1="0" x2="0" y2="1"><stop offset="0.000" stop-color="#ed2024"/><stop offset="0.052" stop-color="#ed2227"/><stop offset="0.100" stop-color="#ee3439"/><stop offset="0.148" stop-color="#ef474c"/><stop offset="0.200" stop-color="#f05d62"/><stop offset="0.248" stop-color="#f27479"/><stop offset="0.308" stop-color="#f5999d"/><stop offset="0.356" stop-color="#f8b5b8"/><stop offset="0.400" stop-color="#facbcd"/><stop offset="0.440" stop-color="#fce0e1"/><stop offset="0.480" stop-color="#fef2f2"/><stop offset="0.500" stop-color="#ffffff"/><stop offset="0.506" stop-color="#fafafd"/><stop offset="0.548" stop-color="#eceaf5"/><stop offset="0.600" stop-color="#cfcde7"/><stop offset="0.652" stop-color="#b0add7"/><stop offset="0.704" stop-color="#9492ca"/><stop offset="0.752" stop-color="#7b7dbe"/><stop offset="0.800" stop-color="#666bb4"/><stop offset="0.848" stop-color="#565eac"/><stop offset="0.896" stop-color="#4a59a8"/><stop offset="0.948" stop-color="#4055a5"/><stop offset="1.000" stop-color="#3b53a4"/></linearGradient>
<rect x="1621.3" y="1075.7" width="48.3" height="512.8" rx="3" fill="url(#cbd)"/>
<text x="1682.40" y="1085.90" font-size="24.5">1.5</text>
<text x="1682.40" y="1187.10" font-size="24.5">1.0</text>
<text x="1682.40" y="1288.30" font-size="24.5">0.5</text>
<text x="1682.40" y="1389.50" font-size="24.5">0.0</text>
<text x="1681.60" y="1490.70" font-size="24.5">–0.5</text>
<text x="1681.60" y="1591.90" font-size="24.5">–1.0</text>
</g>
<g id="panel-e">
<text x="-0.50" y="1307.40" font-size="43" font-weight="bold">e</text>
<text x="426.70" y="1317.10" font-size="29.3" text-anchor="middle">Late stage</text>
<text x="335.5" y="1358.1" font-size="28.9" fill="#ed2024"><tspan font-style="italic">P</tspan> = 3.486e-05</text>
<text x="109.40" y="1504.00" font-size="29.3" text-anchor="middle" transform="rotate(-90 109.40 1504.00)">Percent survival</text>
<text x="426.00" y="1737.40" font-size="29.3" text-anchor="middle">Time (months)</text>
<path d="M196.7 1349.6V1659M190.5 1657.5H657.6M190.5 1379.3H196.7M190.5 1518.5H196.7M196.7 1657.5V1663.7M349.9 1657.5V1663.7M503 1657.5V1663.7M656.1 1657.5V1663.7" fill="none" stroke="#000" stroke-width="3"/>
<text x="180.30" y="1387.50" font-size="29.3" text-anchor="end">100</text>
<text x="180.30" y="1526.80" font-size="29.3" text-anchor="end">50</text>
<text x="180.30" y="1666.20" font-size="29.3" text-anchor="end">0</text>
<text x="197.00" y="1697.00" font-size="29.3" text-anchor="middle">0</text>
<text x="350.00" y="1697.00" font-size="29.3" text-anchor="middle">20</text>
<text x="503.00" y="1697.00" font-size="29.3" text-anchor="middle">40</text>
<text x="656.10" y="1697.00" font-size="29.3" text-anchor="middle">60</text>
<path d="M209.6 1379.3L221.4 1379.3L221.4 1390.9L230.6 1390.9L230.6 1402.5L240.0 1402.5L240.0 1414.2L245.5 1414.2L245.5 1425.8L247.6 1425.8L247.6 1437.4L344.6 1437.4L344.6 1449.0L345.8 1449.0L345.8 1460.6L353.6 1460.6L353.6 1472.3L361.5 1472.3L361.5 1483.9L406.6 1483.9L406.6 1495.8L476.6 1495.8L476.6 1510.4L522.3 1510.4L522.3 1540.3L538.4 1540.3L538.4 1598.6L575.4 1598.6" fill="none" stroke="#3953a4" stroke-width="2.9" stroke-linejoin="miter"/>
<path d="M369.5 1483.9v-6.0M413.6 1495.8v-6.0M461.0 1495.8v-6.0M498.6 1510.4v-6.0M506.9 1510.4v-6.0M508.6 1510.4v-6.0M513.1 1510.4v-6.0M535.4 1540.3v-6.0M575.4 1598.6v-6.0" fill="none" stroke="#3953a4" stroke-width="2.9"/>
<path d="M209.0 1377.9L209.0 1377.9L209.0 1391.4L210.3 1391.4L210.3 1403.5L212.7 1403.5L212.7 1415.4L215.6 1415.4L215.6 1427.5L218.5 1427.5L218.5 1439.5L222.8 1439.5L222.8 1463.5L227.7 1463.5L227.7 1476.8L229.2 1476.8L229.2 1490.0L230.6 1490.0L230.6 1502.1L238.4 1502.1L238.4 1515.7L239.7 1515.7L239.7 1528.7L246.3 1528.7L246.3 1541.4L259.2 1541.4L259.2 1554.2L315.6 1554.2L315.6 1567.1L326.2 1567.1L326.2 1580.0L330.0 1580.0L330.0 1593.3L359.0 1593.3L359.0 1606.1L361.0 1606.1L361.0 1619.0L406.8 1619.0L406.8 1631.8L529.3 1631.8L529.3 1658.0" fill="none" stroke="#ed2024" stroke-width="2.9" stroke-linejoin="miter"/>
<path d="M410.2 1631.8v-6.0" fill="none" stroke="#ed2024" stroke-width="2.9"/>
<path d="M497 1422H519M507.8 1422v-6" stroke="#ed2024" stroke-width="3" fill="none"/>
<path d="M497 1463.5H519M507.8 1463.5v-6" stroke="#3953a4" stroke-width="3" fill="none"/>
<text x="530.30" y="1431.00" font-size="24.9">High expression</text>
<text x="530.30" y="1472.40" font-size="24.9">Low expression</text>
</g>
<g id="panel-f">
<text x="-0.50" y="1824.00" font-size="43" font-weight="bold">f</text>
<text x="423.00" y="1832.50" font-size="29.3" text-anchor="middle">Early stage</text>
<text x="353.5" y="1870.7" font-size="28.9" fill="#ed2024"><tspan font-style="italic">P</tspan> = 0.7655</text>
<text x="109.40" y="2014.00" font-size="29.3" text-anchor="middle" transform="rotate(-90 109.40 2014.00)">Percent survival</text>
<text x="423.30" y="2245.50" font-size="25.1" text-anchor="middle">Time (months)</text>
<path d="M196.4 1866.2V2171.5M190.8 2170H650.7M190.8 1895.5H196.4M190.8 2032.8H196.4M197.4 2170V2175.8M348 2170V2175.8M498.6 2170V2175.8M649.2 2170V2175.8" fill="none" stroke="#000" stroke-width="3"/>
<text x="180.30" y="1903.70" font-size="29.3" text-anchor="end">100</text>
<text x="180.30" y="2041.00" font-size="29.3" text-anchor="end">50</text>
<text x="180.30" y="2178.20" font-size="29.3" text-anchor="end">0</text>
<text x="197.40" y="2207.00" font-size="25.1" text-anchor="middle">0</text>
<text x="348.00" y="2207.00" font-size="25.1" text-anchor="middle">50</text>
<text x="498.60" y="2207.00" font-size="25.1" text-anchor="middle">100</text>
<text x="649.20" y="2207.00" font-size="25.1" text-anchor="middle">150</text>
<path d="M221.4 1895.5L279.1 1895.5L279.1 1922.6L295.2 1922.6L295.2 1954.1L328.0 1954.1L328.0 1996.7L374.0 1996.7L374.0 2083.8L573.2 2083.8" fill="none" stroke="#3953a4" stroke-width="2.9" stroke-linejoin="miter"/>
<path d="M240.5 1895.5v-6.0M260.1 1895.5v-6.0M264.5 1895.5v-6.0M291.6 1922.6v-6.0M297.2 1954.1v-6.0M308.5 1954.1v-6.0M330.9 1996.7v-6.0M573.2 2083.8v-6.0" fill="none" stroke="#3953a4" stroke-width="2.9"/>
<path d="M207.0 1895.5L220.6 1895.5L220.6 1914.7L252.6 1914.7L252.6 1934.5L262.1 1934.5L262.1 1954.1L295.2 1954.1L295.2 1978.0L304.3 1978.0L304.3 2001.7L361.9 2001.7L361.9 2029.9L450.7 2029.9L450.7 2065.2L512.7 2065.2" fill="none" stroke="#ed2024" stroke-width="2.9" stroke-linejoin="miter"/>
<path d="M264.5 1954.1v-6.0M289.1 1954.1v-6.0M331.2 2001.7v-6.0M371.1 2029.9v-6.0M463.0 2065.2v-6.0M494.2 2065.2v-6.0M512.7 2065.2v-6.0" fill="none" stroke="#ed2024" stroke-width="2.9"/>
<path d="M425 1950.6H447M435.6 1950.6v-6" stroke="#ed2024" stroke-width="3" fill="none"/>
<path d="M425 1991.7H447M435.6 1991.7v-6" stroke="#3953a4" stroke-width="3" fill="none"/>
<text x="457.30" y="1959.80" font-size="24.9">High expression</text>
<text x="457.30" y="2000.90" font-size="24.9">Low expression</text>
</g>
</svg>
</body>
</html>
